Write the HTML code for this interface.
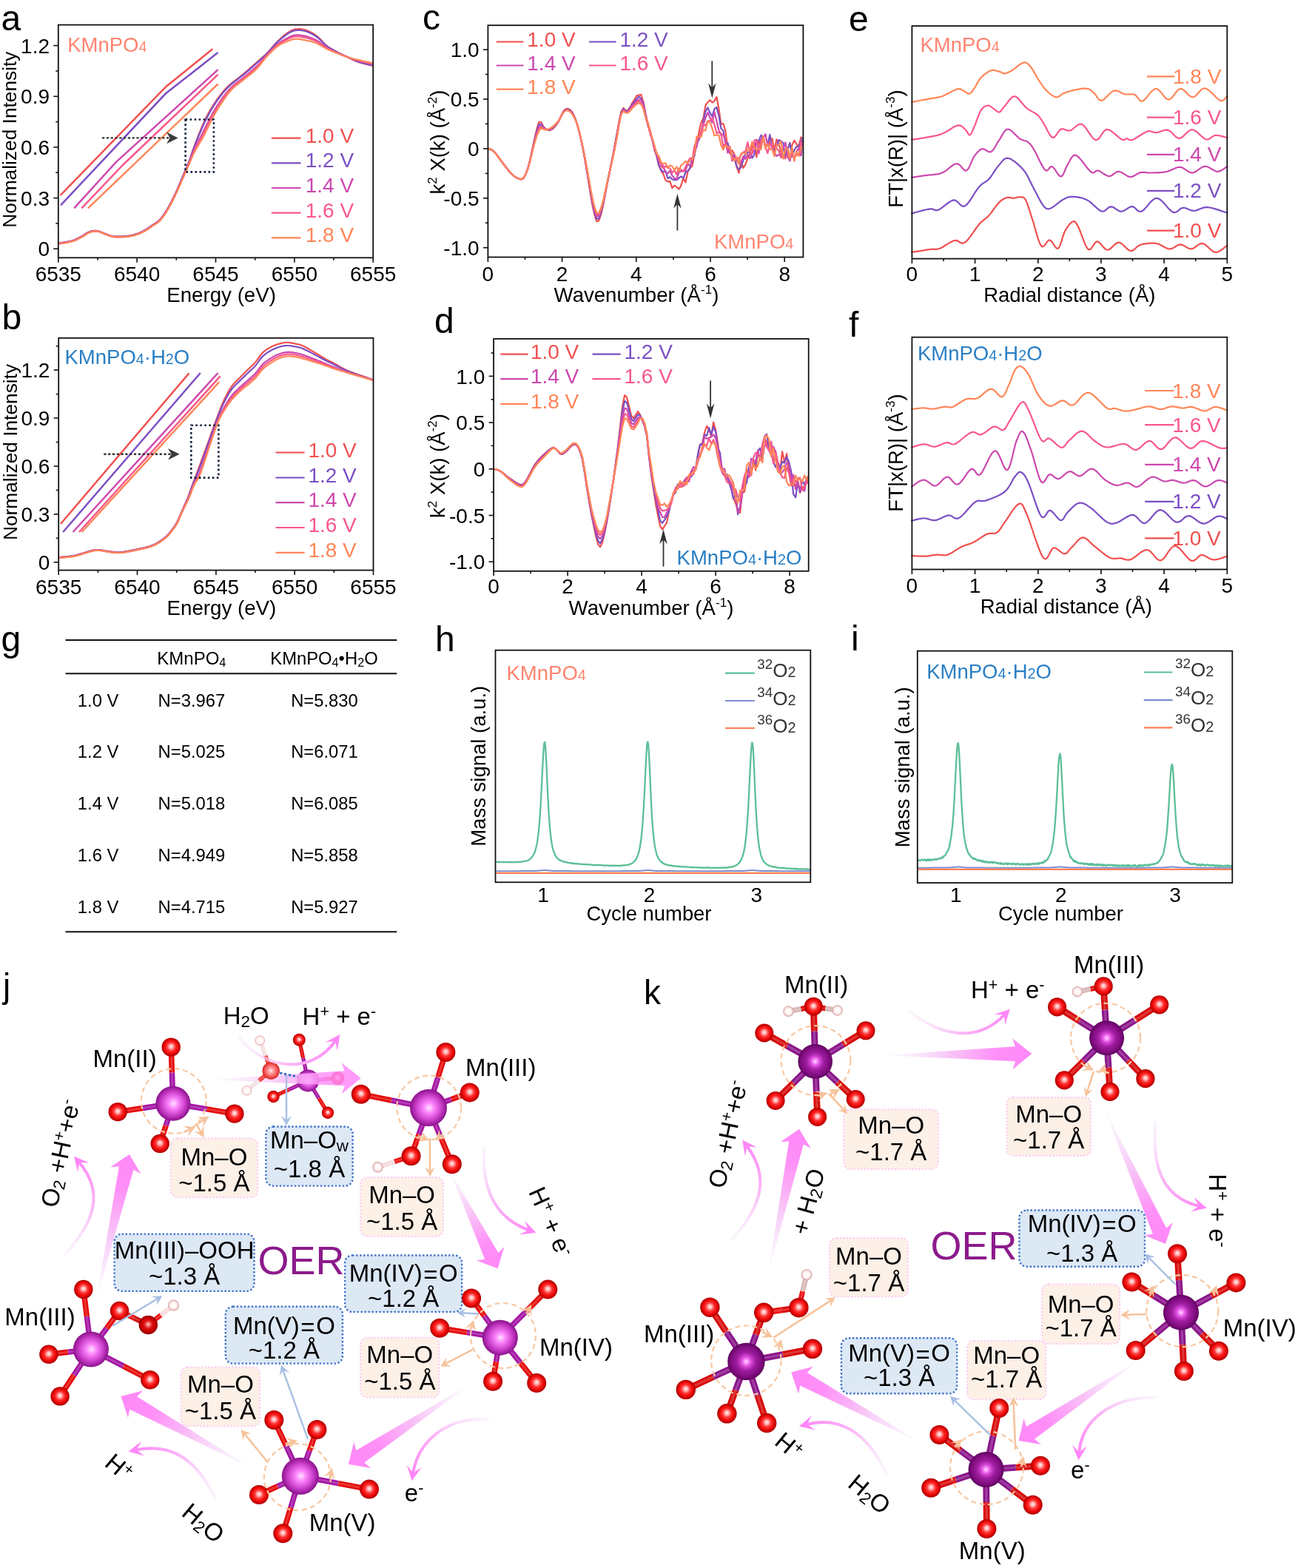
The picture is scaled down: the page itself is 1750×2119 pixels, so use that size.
<!DOCTYPE html>
<html><head><meta charset="utf-8"><title>Figure</title>
<style>html,body{margin:0;padding:0;background:#fff;overflow:hidden;} svg{display:block;}</style></head>
<body><svg width="1750" height="2119" viewBox="0 0 1750 2119" font-family="'Liberation Sans', Arial, sans-serif">
<defs>
<radialGradient id="gO" cx="0.5" cy="0.5" r="0.5" fx="0.5" fy="0.46">
 <stop offset="0" stop-color="#fff0f0"/><stop offset="0.2" stop-color="#ffb4b4"/><stop offset="0.45" stop-color="#ff3434"/>
 <stop offset="0.75" stop-color="#ea0606"/><stop offset="1" stop-color="#a80000"/></radialGradient>
<radialGradient id="gMj" cx="0.5" cy="0.5" r="0.5" fx="0.52" fy="0.5">
 <stop offset="0" stop-color="#ffe0ff"/><stop offset="0.3" stop-color="#fb82fb"/><stop offset="0.7" stop-color="#c83cc8"/>
 <stop offset="1" stop-color="#8a128a"/></radialGradient>
<radialGradient id="gMk" cx="0.5" cy="0.5" r="0.5" fx="0.5" fy="0.5">
 <stop offset="0" stop-color="#ffe4ff"/><stop offset="0.1" stop-color="#ff98ff"/><stop offset="0.27" stop-color="#d848d8"/>
 <stop offset="0.5" stop-color="#a01ea0"/><stop offset="0.85" stop-color="#7c0a7c"/><stop offset="1" stop-color="#5a065a"/></radialGradient>
<radialGradient id="gH" cx="0.5" cy="0.5" r="0.5" fx="0.5" fy="0.47">
 <stop offset="0" stop-color="#ffffff"/><stop offset="0.55" stop-color="#fff4f4"/><stop offset="0.82" stop-color="#f0cccc"/><stop offset="1" stop-color="#c49494"/></radialGradient>
<radialGradient id="gHj" cx="0.5" cy="0.5" r="0.5">
 <stop offset="0" stop-color="#ffffff"/><stop offset="0.7" stop-color="#fff4f4"/><stop offset="1" stop-color="#e8a0a0"/></radialGradient>
<radialGradient id="gOd" cx="0.5" cy="0.5" r="0.5" fx="0.5" fy="0.46">
 <stop offset="0" stop-color="#ffd8d8"/><stop offset="0.2" stop-color="#f07070"/><stop offset="0.45" stop-color="#dd1010"/>
 <stop offset="0.75" stop-color="#c80000"/><stop offset="1" stop-color="#8a0000"/></radialGradient>
<radialGradient id="gOw" cx="0.5" cy="0.5" r="0.5">
 <stop offset="0" stop-color="#fff0f0"/><stop offset="0.3" stop-color="#ffa0a0"/><stop offset="0.8" stop-color="#f04848"/><stop offset="1" stop-color="#d02020"/></radialGradient>
</defs>
<rect width="1750" height="2119" fill="#fff"/>
<polyline points="81.5,264 224.5,117 287.3,66.3" fill="none" stroke="#F0504F" stroke-width="2.5"/>
<polyline points="82,277.3 224,126.3 294.5,71.1" fill="none" stroke="#7B4FC4" stroke-width="2.5"/>
<polyline points="100.2,281.3 157,218.8 294.6,94.1" fill="none" stroke="#CC48AE" stroke-width="2.5"/>
<polyline points="110.3,281.3 167,222 294.6,100.6" fill="none" stroke="#F8588A" stroke-width="2.5"/>
<polyline points="119,281.3 294.6,113.5" fill="none" stroke="#FF8658" stroke-width="2.5"/>
<path d="M78.8,328.7 L80.3,328.5 L81.8,328.3 L83.3,328.1 L84.8,327.8 L86.3,327.6 L87.8,327.4 L89.3,327.1 L90.8,326.8 L92.3,326.5 L93.8,326.2 L95.3,325.9 L96.8,325.5 L98.3,325.1 L99.8,324.5 L101.3,324.0 L102.8,323.3 L104.3,322.6 L105.8,321.8 L107.3,321.0 L108.8,320.2 L110.3,319.4 L111.8,318.5 L113.3,317.6 L114.8,316.6 L116.3,315.6 L117.8,314.7 L119.3,313.9 L120.8,313.3 L122.3,312.8 L123.8,312.4 L125.3,312.1 L126.8,311.9 L128.3,311.8 L129.8,311.9 L131.3,312.0 L132.8,312.3 L134.3,312.7 L135.8,313.3 L137.3,314.0 L138.8,314.6 L140.3,315.3 L141.8,315.8 L143.3,316.4 L144.8,316.9 L146.3,317.5 L147.8,318.0 L149.3,318.5 L150.8,318.9 L152.3,319.2 L153.8,319.4 L155.3,319.6 L156.8,319.6 L158.3,319.7 L159.8,319.6 L161.3,319.6 L162.8,319.6 L164.3,319.6 L165.8,319.5 L167.3,319.4 L168.8,319.3 L170.3,319.2 L171.8,319.0 L173.3,318.8 L174.8,318.6 L176.3,318.3 L177.8,318.0 L179.3,317.7 L180.8,317.3 L182.3,316.9 L183.8,316.4 L185.3,315.9 L186.8,315.4 L188.3,314.8 L189.8,314.1 L191.3,313.4 L192.8,312.7 L194.3,311.9 L195.8,311.0 L197.3,310.1 L198.8,309.1 L200.3,308.1 L201.8,307.1 L203.3,306.1 L204.8,305.1 L206.3,304.0 L207.8,303.1 L209.3,302.1 L210.8,301.2 L212.3,300.1 L213.8,298.9 L215.3,297.5 L216.8,295.9 L218.3,294.1 L219.8,292.2 L221.3,290.1 L222.8,287.9 L224.3,285.5 L225.8,283.1 L227.3,280.6 L228.8,277.9 L230.3,275.1 L231.8,272.3 L233.3,269.3 L234.8,266.2 L236.3,263.0 L237.8,259.8 L239.3,256.4 L240.8,253.0 L242.3,249.4 L243.8,245.9 L245.3,242.3 L246.8,238.7 L248.3,235.2 L249.8,231.7 L251.3,228.2 L252.8,224.6 L254.3,221.0 L255.8,217.3 L257.3,213.1 L258.8,208.3 L260.3,204.0 L261.8,199.8 L263.3,195.7 L264.8,191.6 L266.3,187.7 L267.8,183.8 L269.3,180.1 L270.8,176.4 L272.3,172.8 L273.8,169.3 L275.3,165.9 L276.8,162.6 L278.3,159.5 L279.8,156.6 L281.3,153.8 L282.8,151.1 L284.3,148.5 L285.8,146.0 L287.3,143.5 L288.8,141.2 L290.3,138.8 L291.8,136.6 L293.3,134.4 L294.8,132.3 L296.3,130.3 L297.8,128.3 L299.3,126.4 L300.8,124.6 L302.3,122.8 L303.8,121.1 L305.3,119.6 L306.8,118.1 L308.3,116.6 L309.8,115.3 L311.3,113.9 L312.8,112.6 L314.3,111.4 L315.8,110.2 L317.3,109.1 L318.8,108.0 L320.3,106.9 L321.8,105.7 L323.3,104.5 L324.8,103.3 L326.3,102.1 L327.8,100.9 L329.3,99.6 L330.8,98.4 L332.3,97.1 L333.8,95.9 L335.3,94.6 L336.8,93.3 L338.3,91.9 L339.8,90.6 L341.3,89.3 L342.8,87.9 L344.3,86.6 L345.8,85.2 L347.3,83.9 L348.8,82.6 L350.3,81.3 L351.8,80.0 L353.3,78.7 L354.8,77.4 L356.3,76.1 L357.8,74.7 L359.3,73.3 L360.8,71.8 L362.3,70.3 L363.8,68.6 L365.3,67.0 L366.8,65.3 L368.3,63.5 L369.8,61.8 L371.3,60.1 L372.8,58.4 L374.3,56.8 L375.8,55.3 L377.3,53.8 L378.8,52.4 L380.3,51.0 L381.8,49.7 L383.3,48.4 L384.8,47.2 L386.3,46.1 L387.8,45.0 L389.3,44.0 L390.8,43.0 L392.3,42.1 L393.8,41.3 L395.3,40.6 L396.8,40.1 L398.3,39.7 L399.8,39.4 L401.3,39.3 L402.8,39.2 L404.3,39.2 L405.8,39.2 L407.3,39.4 L408.8,39.6 L410.3,39.9 L411.8,40.2 L413.3,40.6 L414.8,41.2 L416.3,41.8 L417.8,42.4 L419.3,43.2 L420.8,43.9 L422.3,44.8 L423.8,45.7 L425.3,46.7 L426.8,47.8 L428.3,48.9 L429.8,50.1 L431.3,51.5 L432.8,52.9 L434.3,54.5 L435.8,56.2 L437.3,57.8 L438.8,59.4 L440.3,60.8 L441.8,62.0 L443.3,63.1 L444.8,64.1 L446.3,65.1 L447.8,66.0 L449.3,66.8 L450.8,67.6 L452.3,68.5 L453.8,69.3 L455.3,70.1 L456.8,70.9 L458.3,71.7 L459.8,72.4 L461.3,73.2 L462.8,73.9 L464.3,74.6 L465.8,75.4 L467.3,76.1 L468.8,76.8 L470.3,77.5 L471.8,78.3 L473.3,79.0 L474.8,79.8 L476.3,80.5 L477.8,81.2 L479.3,81.9 L480.8,82.5 L482.3,83.1 L483.8,83.7 L485.3,84.2 L486.8,84.7 L488.3,85.1 L489.8,85.5 L491.3,85.9 L492.8,86.3 L494.3,86.7 L495.8,87.0 L497.3,87.4 L498.8,87.7 L500.3,88.1 L501.8,88.4 L503.3,88.8" fill="none" stroke="#F0504F" stroke-width="2.2"/>
<path d="M78.8,328.8 L80.3,328.6 L81.8,328.4 L83.3,328.2 L84.8,327.9 L86.3,327.7 L87.8,327.5 L89.3,327.2 L90.8,326.9 L92.3,326.6 L93.8,326.3 L95.3,326.0 L96.8,325.6 L98.3,325.2 L99.8,324.7 L101.3,324.1 L102.8,323.4 L104.3,322.7 L105.8,321.9 L107.3,321.1 L108.8,320.3 L110.3,319.5 L111.8,318.7 L113.3,317.7 L114.8,316.7 L116.3,315.8 L117.8,314.9 L119.3,314.1 L120.8,313.4 L122.3,312.9 L123.8,312.5 L125.3,312.2 L126.8,312.0 L128.3,311.9 L129.8,312.0 L131.3,312.1 L132.8,312.4 L134.3,312.8 L135.8,313.4 L137.3,314.0 L138.8,314.7 L140.3,315.3 L141.8,315.9 L143.3,316.4 L144.8,317.0 L146.3,317.6 L147.8,318.1 L149.3,318.6 L150.8,319.0 L152.3,319.3 L153.8,319.5 L155.3,319.7 L156.8,319.7 L158.3,319.8 L159.8,319.7 L161.3,319.7 L162.8,319.7 L164.3,319.7 L165.8,319.6 L167.3,319.5 L168.8,319.4 L170.3,319.3 L171.8,319.1 L173.3,318.9 L174.8,318.7 L176.3,318.4 L177.8,318.1 L179.3,317.8 L180.8,317.4 L182.3,317.0 L183.8,316.5 L185.3,316.0 L186.8,315.5 L188.3,314.9 L189.8,314.3 L191.3,313.6 L192.8,312.8 L194.3,312.0 L195.8,311.1 L197.3,310.2 L198.8,309.2 L200.3,308.3 L201.8,307.2 L203.3,306.2 L204.8,305.2 L206.3,304.2 L207.8,303.2 L209.3,302.3 L210.8,301.3 L212.3,300.2 L213.8,299.1 L215.3,297.7 L216.8,296.1 L218.3,294.3 L219.8,292.4 L221.3,290.3 L222.8,288.1 L224.3,285.7 L225.8,283.3 L227.3,280.8 L228.8,278.1 L230.3,275.4 L231.8,272.5 L233.3,269.5 L234.8,266.4 L236.3,263.3 L237.8,260.1 L239.3,256.7 L240.8,253.3 L242.3,249.8 L243.8,246.2 L245.3,242.6 L246.8,239.1 L248.3,235.6 L249.8,232.1 L251.3,228.6 L252.8,225.1 L254.3,221.5 L255.8,217.8 L257.3,213.7 L258.8,209.0 L260.3,204.8 L261.8,200.7 L263.3,196.7 L264.8,192.8 L266.3,189.0 L267.8,185.4 L269.3,181.8 L270.8,178.3 L272.3,174.8 L273.8,171.4 L275.3,168.0 L276.8,164.8 L278.3,161.7 L279.8,158.7 L281.3,155.9 L282.8,153.2 L284.3,150.5 L285.8,148.0 L287.3,145.5 L288.8,143.0 L290.3,140.7 L291.8,138.4 L293.3,136.2 L294.8,134.0 L296.3,132.0 L297.8,130.0 L299.3,128.0 L300.8,126.1 L302.3,124.3 L303.8,122.5 L305.3,120.9 L306.8,119.3 L308.3,117.8 L309.8,116.4 L311.3,115.0 L312.8,113.7 L314.3,112.4 L315.8,111.2 L317.3,110.1 L318.8,108.9 L320.3,107.8 L321.8,106.6 L323.3,105.4 L324.8,104.2 L326.3,103.0 L327.8,101.8 L329.3,100.6 L330.8,99.4 L332.3,98.1 L333.8,96.8 L335.3,95.6 L336.8,94.3 L338.3,93.0 L339.8,91.6 L341.3,90.3 L342.8,89.0 L344.3,87.6 L345.8,86.3 L347.3,84.9 L348.8,83.6 L350.3,82.2 L351.8,80.9 L353.3,79.5 L354.8,78.1 L356.3,76.7 L357.8,75.3 L359.3,73.8 L360.8,72.3 L362.3,70.8 L363.8,69.2 L365.3,67.5 L366.8,65.8 L368.3,64.1 L369.8,62.4 L371.3,60.8 L372.8,59.1 L374.3,57.6 L375.8,56.1 L377.3,54.7 L378.8,53.3 L380.3,52.0 L381.8,50.8 L383.3,49.6 L384.8,48.5 L386.3,47.4 L387.8,46.3 L389.3,45.3 L390.8,44.4 L392.3,43.5 L393.8,42.8 L395.3,42.2 L396.8,41.7 L398.3,41.3 L399.8,41.0 L401.3,40.9 L402.8,40.8 L404.3,40.8 L405.8,40.9 L407.3,41.0 L408.8,41.3 L410.3,41.5 L411.8,41.9 L413.3,42.3 L414.8,42.8 L416.3,43.4 L417.8,44.0 L419.3,44.7 L420.8,45.4 L422.3,46.2 L423.8,47.1 L425.3,48.0 L426.8,49.0 L428.3,50.1 L429.8,51.2 L431.3,52.5 L432.8,53.9 L434.3,55.4 L435.8,57.0 L437.3,58.5 L438.8,60.0 L440.3,61.3 L441.8,62.5 L443.3,63.6 L444.8,64.5 L446.3,65.5 L447.8,66.3 L449.3,67.1 L450.8,67.9 L452.3,68.7 L453.8,69.5 L455.3,70.3 L456.8,71.1 L458.3,71.8 L459.8,72.6 L461.3,73.3 L462.8,74.0 L464.3,74.7 L465.8,75.4 L467.3,76.1 L468.8,76.8 L470.3,77.5 L471.8,78.2 L473.3,78.9 L474.8,79.6 L476.3,80.3 L477.8,81.0 L479.3,81.6 L480.8,82.3 L482.3,82.8 L483.8,83.4 L485.3,83.9 L486.8,84.3 L488.3,84.8 L489.8,85.2 L491.3,85.5 L492.8,85.9 L494.3,86.3 L495.8,86.6 L497.3,87.0 L498.8,87.3 L500.3,87.7 L501.8,88.0 L503.3,88.4" fill="none" stroke="#7B4FC4" stroke-width="2.2"/>
<path d="M78.8,329.2 L80.3,329.0 L81.8,328.8 L83.3,328.6 L84.8,328.4 L86.3,328.2 L87.8,327.9 L89.3,327.7 L90.8,327.4 L92.3,327.1 L93.8,326.8 L95.3,326.4 L96.8,326.1 L98.3,325.6 L99.8,325.2 L101.3,324.6 L102.8,323.9 L104.3,323.2 L105.8,322.5 L107.3,321.7 L108.8,320.9 L110.3,320.0 L111.8,319.2 L113.3,318.3 L114.8,317.3 L116.3,316.3 L117.8,315.4 L119.3,314.6 L120.8,313.9 L122.3,313.4 L123.8,313.0 L125.3,312.7 L126.8,312.4 L128.3,312.3 L129.8,312.3 L131.3,312.4 L132.8,312.7 L134.3,313.1 L135.8,313.7 L137.3,314.3 L138.8,315.0 L140.3,315.6 L141.8,316.2 L143.3,316.7 L144.8,317.3 L146.3,317.8 L147.8,318.4 L149.3,318.9 L150.8,319.3 L152.3,319.6 L153.8,319.9 L155.3,320.0 L156.8,320.1 L158.3,320.1 L159.8,320.1 L161.3,320.1 L162.8,320.1 L164.3,320.0 L165.8,320.0 L167.3,319.9 L168.8,319.8 L170.3,319.7 L171.8,319.6 L173.3,319.4 L174.8,319.1 L176.3,318.9 L177.8,318.6 L179.3,318.2 L180.8,317.9 L182.3,317.5 L183.8,317.0 L185.3,316.5 L186.8,316.0 L188.3,315.4 L189.8,314.8 L191.3,314.1 L192.8,313.3 L194.3,312.5 L195.8,311.7 L197.3,310.8 L198.8,309.8 L200.3,308.8 L201.8,307.8 L203.3,306.8 L204.8,305.8 L206.3,304.8 L207.8,303.8 L209.3,302.8 L210.8,301.9 L212.3,300.8 L213.8,299.7 L215.3,298.3 L216.8,296.8 L218.3,295.0 L219.8,293.1 L221.3,291.1 L222.8,288.9 L224.3,286.6 L225.8,284.2 L227.3,281.7 L228.8,279.0 L230.3,276.3 L231.8,273.4 L233.3,270.4 L234.8,267.4 L236.3,264.3 L237.8,261.1 L239.3,257.8 L240.8,254.4 L242.3,251.0 L243.8,247.5 L245.3,244.1 L246.8,240.6 L248.3,237.1 L249.8,233.7 L251.3,230.3 L252.8,226.8 L254.3,223.3 L255.8,219.8 L257.3,216.0 L258.8,211.9 L260.3,208.0 L261.8,204.4 L263.3,200.9 L264.8,197.7 L266.3,194.6 L267.8,191.6 L269.3,188.6 L270.8,185.7 L272.3,182.7 L273.8,179.7 L275.3,176.6 L276.8,173.5 L278.3,170.5 L279.8,167.5 L281.3,164.5 L282.8,161.6 L284.3,158.7 L285.8,155.9 L287.3,153.1 L288.8,150.5 L290.3,147.9 L291.8,145.5 L293.3,143.1 L294.8,140.8 L296.3,138.5 L297.8,136.4 L299.3,134.3 L300.8,132.2 L302.3,130.2 L303.8,128.2 L305.3,126.2 L306.8,124.4 L308.3,122.6 L309.8,120.9 L311.3,119.3 L312.8,117.8 L314.3,116.4 L315.8,115.1 L317.3,113.8 L318.8,112.6 L320.3,111.5 L321.8,110.3 L323.3,109.2 L324.8,108.0 L326.3,106.8 L327.8,105.6 L329.3,104.4 L330.8,103.2 L332.3,102.0 L333.8,100.8 L335.3,99.6 L336.8,98.3 L338.3,97.1 L339.8,95.8 L341.3,94.5 L342.8,93.2 L344.3,91.9 L345.8,90.5 L347.3,89.0 L348.8,87.5 L350.3,86.0 L351.8,84.3 L353.3,82.7 L354.8,81.0 L356.3,79.3 L357.8,77.6 L359.3,76.0 L360.8,74.4 L362.3,72.8 L363.8,71.2 L365.3,69.6 L366.8,68.0 L368.3,66.5 L369.8,64.9 L371.3,63.4 L372.8,62.0 L374.3,60.6 L375.8,59.3 L377.3,58.1 L378.8,57.0 L380.3,56.0 L381.8,55.0 L383.3,54.2 L384.8,53.3 L386.3,52.5 L387.8,51.7 L389.3,50.9 L390.8,50.1 L392.3,49.4 L393.8,48.8 L395.3,48.3 L396.8,47.9 L398.3,47.6 L399.8,47.4 L401.3,47.3 L402.8,47.3 L404.3,47.4 L405.8,47.5 L407.3,47.8 L408.8,48.0 L410.3,48.3 L411.8,48.6 L413.3,48.9 L414.8,49.3 L416.3,49.8 L417.8,50.2 L419.3,50.7 L420.8,51.3 L422.3,51.9 L423.8,52.5 L425.3,53.2 L426.8,53.9 L428.3,54.8 L429.8,55.7 L431.3,56.7 L432.8,57.8 L434.3,59.0 L435.8,60.2 L437.3,61.4 L438.8,62.5 L440.3,63.6 L441.8,64.5 L443.3,65.4 L444.8,66.2 L446.3,67.0 L447.8,67.7 L449.3,68.4 L450.8,69.1 L452.3,69.8 L453.8,70.5 L455.3,71.2 L456.8,71.8 L458.3,72.5 L459.8,73.1 L461.3,73.8 L462.8,74.4 L464.3,75.0 L465.8,75.7 L467.3,76.3 L468.8,76.8 L470.3,77.4 L471.8,78.0 L473.3,78.6 L474.8,79.1 L476.3,79.6 L477.8,80.2 L479.3,80.7 L480.8,81.1 L482.3,81.6 L483.8,82.0 L485.3,82.4 L486.8,82.8 L488.3,83.2 L489.8,83.6 L491.3,83.9 L492.8,84.3 L494.3,84.6 L495.8,85.0 L497.3,85.3 L498.8,85.6 L500.3,86.0 L501.8,86.3 L503.3,86.6" fill="none" stroke="#CC48AE" stroke-width="2.2"/>
<path d="M78.8,329.3 L80.3,329.1 L81.8,328.9 L83.3,328.7 L84.8,328.5 L86.3,328.3 L87.8,328.1 L89.3,327.8 L90.8,327.5 L92.3,327.2 L93.8,326.9 L95.3,326.6 L96.8,326.2 L98.3,325.8 L99.8,325.3 L101.3,324.7 L102.8,324.1 L104.3,323.4 L105.8,322.6 L107.3,321.8 L108.8,321.0 L110.3,320.2 L111.8,319.4 L113.3,318.5 L114.8,317.5 L116.3,316.5 L117.8,315.6 L119.3,314.8 L120.8,314.1 L122.3,313.5 L123.8,313.1 L125.3,312.8 L126.8,312.6 L128.3,312.5 L129.8,312.5 L131.3,312.6 L132.8,312.8 L134.3,313.2 L135.8,313.7 L137.3,314.4 L138.8,315.0 L140.3,315.7 L141.8,316.3 L143.3,316.8 L144.8,317.4 L146.3,317.9 L147.8,318.5 L149.3,319.0 L150.8,319.4 L152.3,319.7 L153.8,320.0 L155.3,320.1 L156.8,320.2 L158.3,320.3 L159.8,320.3 L161.3,320.2 L162.8,320.2 L164.3,320.2 L165.8,320.1 L167.3,320.1 L168.8,320.0 L170.3,319.8 L171.8,319.7 L173.3,319.5 L174.8,319.3 L176.3,319.0 L177.8,318.7 L179.3,318.4 L180.8,318.0 L182.3,317.6 L183.8,317.2 L185.3,316.7 L186.8,316.1 L188.3,315.5 L189.8,314.9 L191.3,314.2 L192.8,313.5 L194.3,312.7 L195.8,311.8 L197.3,310.9 L198.8,310.0 L200.3,309.0 L201.8,308.0 L203.3,307.0 L204.8,306.0 L206.3,304.9 L207.8,303.9 L209.3,303.0 L210.8,302.0 L212.3,301.0 L213.8,299.9 L215.3,298.6 L216.8,297.0 L218.3,295.3 L219.8,293.4 L221.3,291.3 L222.8,289.1 L224.3,286.8 L225.8,284.4 L227.3,281.9 L228.8,279.3 L230.3,276.6 L231.8,273.7 L233.3,270.7 L234.8,267.7 L236.3,264.6 L237.8,261.4 L239.3,258.2 L240.8,254.8 L242.3,251.4 L243.8,248.0 L245.3,244.5 L246.8,241.1 L248.3,237.6 L249.8,234.2 L251.3,230.8 L252.8,227.4 L254.3,223.9 L255.8,220.4 L257.3,216.7 L258.8,212.8 L260.3,209.0 L261.8,205.5 L263.3,202.3 L264.8,199.2 L266.3,196.3 L267.8,193.5 L269.3,190.8 L270.8,188.0 L272.3,185.2 L273.8,182.3 L275.3,179.3 L276.8,176.3 L278.3,173.2 L279.8,170.2 L281.3,167.2 L282.8,164.2 L284.3,161.2 L285.8,158.4 L287.3,155.5 L288.8,152.8 L290.3,150.2 L291.8,147.7 L293.3,145.2 L294.8,142.9 L296.3,140.6 L297.8,138.4 L299.3,136.2 L300.8,134.1 L302.3,132.0 L303.8,129.9 L305.3,127.9 L306.8,126.0 L308.3,124.1 L309.8,122.4 L311.3,120.7 L312.8,119.1 L314.3,117.6 L315.8,116.3 L317.3,115.0 L318.8,113.8 L320.3,112.6 L321.8,111.5 L323.3,110.3 L324.8,109.2 L326.3,108.0 L327.8,106.8 L329.3,105.6 L330.8,104.4 L332.3,103.2 L333.8,102.0 L335.3,100.8 L336.8,99.6 L338.3,98.4 L339.8,97.1 L341.3,95.8 L342.8,94.5 L344.3,93.2 L345.8,91.8 L347.3,90.3 L348.8,88.8 L350.3,87.1 L351.8,85.4 L353.3,83.7 L354.8,81.9 L356.3,80.1 L357.8,78.4 L359.3,76.7 L360.8,75.0 L362.3,73.4 L363.8,71.9 L365.3,70.3 L366.8,68.7 L368.3,67.2 L369.8,65.7 L371.3,64.3 L372.8,62.9 L374.3,61.5 L375.8,60.3 L377.3,59.2 L378.8,58.1 L380.3,57.2 L381.8,56.4 L383.3,55.6 L384.8,54.8 L386.3,54.1 L387.8,53.4 L389.3,52.6 L390.8,51.9 L392.3,51.3 L393.8,50.7 L395.3,50.2 L396.8,49.8 L398.3,49.5 L399.8,49.4 L401.3,49.3 L402.8,49.3 L404.3,49.4 L405.8,49.6 L407.3,49.9 L408.8,50.1 L410.3,50.4 L411.8,50.7 L413.3,51.0 L414.8,51.4 L416.3,51.8 L417.8,52.2 L419.3,52.6 L420.8,53.1 L422.3,53.6 L423.8,54.2 L425.3,54.8 L426.8,55.5 L428.3,56.2 L429.8,57.0 L431.3,58.0 L432.8,59.0 L434.3,60.1 L435.8,61.2 L437.3,62.3 L438.8,63.3 L440.3,64.3 L441.8,65.1 L443.3,65.9 L444.8,66.7 L446.3,67.4 L447.8,68.1 L449.3,68.8 L450.8,69.5 L452.3,70.2 L453.8,70.8 L455.3,71.4 L456.8,72.1 L458.3,72.7 L459.8,73.3 L461.3,73.9 L462.8,74.5 L464.3,75.1 L465.8,75.7 L467.3,76.3 L468.8,76.9 L470.3,77.4 L471.8,77.9 L473.3,78.4 L474.8,78.9 L476.3,79.4 L477.8,79.9 L479.3,80.4 L480.8,80.8 L482.3,81.2 L483.8,81.6 L485.3,82.0 L486.8,82.4 L488.3,82.7 L489.8,83.1 L491.3,83.4 L492.8,83.8 L494.3,84.1 L495.8,84.4 L497.3,84.8 L498.8,85.1 L500.3,85.4 L501.8,85.8 L503.3,86.1" fill="none" stroke="#F8588A" stroke-width="2.2"/>
<path d="M78.8,329.5 L80.3,329.3 L81.8,329.1 L83.3,328.9 L84.8,328.7 L86.3,328.5 L87.8,328.3 L89.3,328.0 L90.8,327.7 L92.3,327.4 L93.8,327.1 L95.3,326.8 L96.8,326.4 L98.3,326.0 L99.8,325.6 L101.3,325.0 L102.8,324.4 L104.3,323.7 L105.8,322.9 L107.3,322.1 L108.8,321.3 L110.3,320.5 L111.8,319.7 L113.3,318.8 L114.8,317.8 L116.3,316.8 L117.8,315.9 L119.3,315.0 L120.8,314.3 L122.3,313.8 L123.8,313.3 L125.3,313.0 L126.8,312.8 L128.3,312.7 L129.8,312.6 L131.3,312.7 L132.8,313.0 L134.3,313.4 L135.8,313.9 L137.3,314.5 L138.8,315.2 L140.3,315.8 L141.8,316.4 L143.3,317.0 L144.8,317.5 L146.3,318.1 L147.8,318.6 L149.3,319.1 L150.8,319.6 L152.3,319.9 L153.8,320.2 L155.3,320.3 L156.8,320.4 L158.3,320.5 L159.8,320.5 L161.3,320.4 L162.8,320.4 L164.3,320.4 L165.8,320.3 L167.3,320.3 L168.8,320.2 L170.3,320.1 L171.8,319.9 L173.3,319.7 L174.8,319.5 L176.3,319.2 L177.8,318.9 L179.3,318.6 L180.8,318.3 L182.3,317.9 L183.8,317.4 L185.3,316.9 L186.8,316.4 L188.3,315.8 L189.8,315.2 L191.3,314.5 L192.8,313.8 L194.3,313.0 L195.8,312.1 L197.3,311.2 L198.8,310.3 L200.3,309.3 L201.8,308.3 L203.3,307.3 L204.8,306.3 L206.3,305.2 L207.8,304.2 L209.3,303.3 L210.8,302.3 L212.3,301.3 L213.8,300.2 L215.3,298.9 L216.8,297.4 L218.3,295.6 L219.8,293.8 L221.3,291.7 L222.8,289.6 L224.3,287.3 L225.8,284.9 L227.3,282.4 L228.8,279.8 L230.3,277.0 L231.8,274.2 L233.3,271.2 L234.8,268.2 L236.3,265.1 L237.8,261.9 L239.3,258.7 L240.8,255.4 L242.3,252.1 L243.8,248.7 L245.3,245.3 L246.8,241.8 L248.3,238.5 L249.8,235.1 L251.3,231.7 L252.8,228.3 L254.3,224.9 L255.8,221.5 L257.3,217.9 L258.8,214.3 L260.3,210.7 L261.8,207.4 L263.3,204.4 L264.8,201.7 L266.3,199.2 L267.8,196.8 L269.3,194.3 L270.8,191.8 L272.3,189.3 L273.8,186.6 L275.3,183.8 L276.8,180.8 L278.3,177.8 L279.8,174.7 L281.3,171.7 L282.8,168.6 L284.3,165.5 L285.8,162.5 L287.3,159.5 L288.8,156.7 L290.3,154.0 L291.8,151.4 L293.3,148.8 L294.8,146.4 L296.3,144.0 L297.8,141.7 L299.3,139.5 L300.8,137.3 L302.3,135.1 L303.8,132.9 L305.3,130.7 L306.8,128.6 L308.3,126.6 L309.8,124.7 L311.3,122.9 L312.8,121.2 L314.3,119.7 L315.8,118.3 L317.3,117.0 L318.8,115.7 L320.3,114.6 L321.8,113.4 L323.3,112.3 L324.8,111.2 L326.3,110.0 L327.8,108.8 L329.3,107.6 L330.8,106.4 L332.3,105.2 L333.8,104.1 L335.3,102.9 L336.8,101.7 L338.3,100.5 L339.8,99.3 L341.3,98.0 L342.8,96.8 L344.3,95.4 L345.8,94.0 L347.3,92.5 L348.8,90.8 L350.3,89.1 L351.8,87.2 L353.3,85.3 L354.8,83.4 L356.3,81.5 L357.8,79.6 L359.3,77.8 L360.8,76.1 L362.3,74.5 L363.8,72.9 L365.3,71.4 L366.8,69.9 L368.3,68.4 L369.8,67.0 L371.3,65.6 L372.8,64.3 L374.3,63.1 L375.8,62.0 L377.3,61.0 L378.8,60.1 L380.3,59.3 L381.8,58.6 L383.3,58.0 L384.8,57.4 L386.3,56.8 L387.8,56.1 L389.3,55.5 L390.8,54.9 L392.3,54.3 L393.8,53.8 L395.3,53.4 L396.8,53.0 L398.3,52.8 L399.8,52.7 L401.3,52.6 L402.8,52.7 L404.3,52.9 L405.8,53.1 L407.3,53.3 L408.8,53.6 L410.3,53.9 L411.8,54.2 L413.3,54.5 L414.8,54.8 L416.3,55.1 L417.8,55.4 L419.3,55.8 L420.8,56.2 L422.3,56.6 L423.8,57.0 L425.3,57.5 L426.8,58.0 L428.3,58.6 L429.8,59.4 L431.3,60.2 L432.8,61.0 L434.3,61.9 L435.8,62.9 L437.3,63.8 L438.8,64.6 L440.3,65.4 L441.8,66.2 L443.3,66.9 L444.8,67.6 L446.3,68.2 L447.8,68.9 L449.3,69.5 L450.8,70.1 L452.3,70.7 L453.8,71.3 L455.3,71.9 L456.8,72.5 L458.3,73.0 L459.8,73.6 L461.3,74.2 L462.8,74.7 L464.3,75.3 L465.8,75.8 L467.3,76.4 L468.8,76.9 L470.3,77.3 L471.8,77.8 L473.3,78.2 L474.8,78.7 L476.3,79.1 L477.8,79.5 L479.3,79.8 L480.8,80.2 L482.3,80.6 L483.8,80.9 L485.3,81.2 L486.8,81.6 L488.3,81.9 L489.8,82.3 L491.3,82.6 L492.8,82.9 L494.3,83.2 L495.8,83.6 L497.3,83.9 L498.8,84.2 L500.3,84.5 L501.8,84.9 L503.3,85.2" fill="none" stroke="#FF8658" stroke-width="2.2"/>
<rect x="250.6" y="161.5" width="38.3" height="70.9" fill="none" stroke="#13213d" stroke-width="2.6" stroke-dasharray="2.6 3.4"/>
<line x1="138" y1="186.4" x2="228.6" y2="186.4" stroke="#333" stroke-width="2.4" stroke-dasharray="3.2 2.6"/><path d="M240.6,186.4 L225.1,178.6 L229.6,186.4 L225.1,194.20000000000002 Z" fill="#3a3a3a"/>
<rect x="78.8" y="33.6" width="425.4" height="314.7" fill="none" stroke="#111" stroke-width="1.8"/>
<line x1="78.8" y1="336.2" x2="72.3" y2="336.2" stroke="#111" stroke-width="1.6"/>
<line x1="78.8" y1="267.6" x2="72.3" y2="267.6" stroke="#111" stroke-width="1.6"/>
<line x1="78.8" y1="198.9" x2="72.3" y2="198.9" stroke="#111" stroke-width="1.6"/>
<line x1="78.8" y1="130.3" x2="72.3" y2="130.3" stroke="#111" stroke-width="1.6"/>
<line x1="78.8" y1="61.6" x2="72.3" y2="61.6" stroke="#111" stroke-width="1.6"/>
<line x1="78.8" y1="301.9" x2="75.3" y2="301.9" stroke="#111" stroke-width="1.6"/>
<line x1="78.8" y1="233.2" x2="75.3" y2="233.2" stroke="#111" stroke-width="1.6"/>
<line x1="78.8" y1="164.6" x2="75.3" y2="164.6" stroke="#111" stroke-width="1.6"/>
<line x1="78.8" y1="96.0" x2="75.3" y2="96.0" stroke="#111" stroke-width="1.6"/>
<text x="67.0" y="346.3" font-size="28" fill="#000" text-anchor="end" >0</text>
<text x="67.0" y="277.7" font-size="28" fill="#000" text-anchor="end" >0.3</text>
<text x="67.0" y="209.0" font-size="28" fill="#000" text-anchor="end" >0.6</text>
<text x="67.0" y="140.4" font-size="28" fill="#000" text-anchor="end" >0.9</text>
<text x="67.0" y="71.7" font-size="28" fill="#000" text-anchor="end" >1.2</text>
<line x1="78.8" y1="348.3" x2="78.8" y2="354.8" stroke="#111" stroke-width="1.6"/>
<line x1="185.1" y1="348.3" x2="185.1" y2="354.8" stroke="#111" stroke-width="1.6"/>
<line x1="291.5" y1="348.3" x2="291.5" y2="354.8" stroke="#111" stroke-width="1.6"/>
<line x1="397.9" y1="348.3" x2="397.9" y2="354.8" stroke="#111" stroke-width="1.6"/>
<line x1="504.2" y1="348.3" x2="504.2" y2="354.8" stroke="#111" stroke-width="1.6"/>
<line x1="132.0" y1="348.3" x2="132.0" y2="351.8" stroke="#111" stroke-width="1.6"/>
<line x1="238.3" y1="348.3" x2="238.3" y2="351.8" stroke="#111" stroke-width="1.6"/>
<line x1="344.7" y1="348.3" x2="344.7" y2="351.8" stroke="#111" stroke-width="1.6"/>
<line x1="451.0" y1="348.3" x2="451.0" y2="351.8" stroke="#111" stroke-width="1.6"/>
<text x="78.8" y="380.0" font-size="28" fill="#000" text-anchor="middle" >6535</text>
<text x="185.1" y="380.0" font-size="28" fill="#000" text-anchor="middle" >6540</text>
<text x="291.5" y="380.0" font-size="28" fill="#000" text-anchor="middle" >6545</text>
<text x="397.9" y="380.0" font-size="28" fill="#000" text-anchor="middle" >6550</text>
<text x="504.2" y="380.0" font-size="28" fill="#000" text-anchor="middle" >6555</text>
<text x="299.1" y="408.0" font-size="27.7" fill="#000" text-anchor="middle" >Energy (eV)</text>
<text x="0" y="0" font-size="26.3" fill="#000" text-anchor="middle" transform="translate(21.8,188.6) rotate(-90)">Normalized Intensity</text>
<line x1="366.9" y1="186.6" x2="406.5" y2="186.6" stroke="#F0504F" stroke-width="2.2"/>
<text x="412.7" y="192.6" font-size="28" fill="#F0504F" text-anchor="start" >1.0 V</text>
<line x1="366.9" y1="220.3" x2="406.5" y2="220.3" stroke="#7B4FC4" stroke-width="2.2"/>
<text x="412.7" y="226.3" font-size="28" fill="#7B4FC4" text-anchor="start" >1.2 V</text>
<line x1="366.9" y1="254.0" x2="406.5" y2="254.0" stroke="#CC48AE" stroke-width="2.2"/>
<text x="412.7" y="260.0" font-size="28" fill="#CC48AE" text-anchor="start" >1.4 V</text>
<line x1="366.9" y1="287.7" x2="406.5" y2="287.7" stroke="#F8588A" stroke-width="2.2"/>
<text x="412.7" y="293.7" font-size="28" fill="#F8588A" text-anchor="start" >1.6 V</text>
<line x1="366.9" y1="321.4" x2="406.5" y2="321.4" stroke="#FF8658" stroke-width="2.2"/>
<text x="412.7" y="327.4" font-size="28" fill="#FF8658" text-anchor="start" >1.8 V</text>
<text x="91.2" y="69.7" font-size="27.5" fill="#FF8470" text-anchor="start" >KMnPO<tspan font-size="0.72em">4</tspan></text>
<text x="1.5" y="41.0" font-size="48" fill="#000" text-anchor="start" >a</text>
<polyline points="81.9,708 255.6,504.2" fill="none" stroke="#F0504F" stroke-width="2.5"/>
<polyline points="85.2,719 270.8,504" fill="none" stroke="#7B4FC4" stroke-width="2.5"/>
<polyline points="98.6,719 294.6,504" fill="none" stroke="#CC48AE" stroke-width="2.5"/>
<polyline points="106.9,719 297.7,508.3" fill="none" stroke="#F8588A" stroke-width="2.5"/>
<polyline points="110.5,719 296.2,516.2" fill="none" stroke="#FF8658" stroke-width="2.5"/>
<path d="M79.2,753.1 L80.7,753.0 L82.2,752.8 L83.7,752.7 L85.2,752.6 L86.7,752.5 L88.2,752.4 L89.7,752.2 L91.2,752.1 L92.7,751.9 L94.2,751.7 L95.7,751.5 L97.2,751.3 L98.7,751.1 L100.2,750.8 L101.7,750.5 L103.2,750.1 L104.7,749.7 L106.2,749.3 L107.7,748.9 L109.2,748.4 L110.7,748.0 L112.2,747.5 L113.7,747.0 L115.2,746.5 L116.7,746.1 L118.2,745.6 L119.7,745.2 L121.2,744.7 L122.7,744.3 L124.2,744.0 L125.7,743.6 L127.2,743.3 L128.7,743.1 L130.2,743.0 L131.7,743.0 L133.2,743.1 L134.7,743.2 L136.2,743.4 L137.7,743.6 L139.2,743.8 L140.7,744.1 L142.2,744.4 L143.7,744.6 L145.2,744.9 L146.7,745.2 L148.2,745.4 L149.7,745.6 L151.2,745.7 L152.7,745.9 L154.2,746.1 L155.7,746.2 L157.2,746.3 L158.7,746.4 L160.2,746.3 L161.7,746.3 L163.2,746.2 L164.7,746.0 L166.2,745.8 L167.7,745.6 L169.2,745.4 L170.7,745.1 L172.2,744.9 L173.7,744.6 L175.2,744.3 L176.7,744.0 L178.2,743.7 L179.7,743.4 L181.2,743.1 L182.7,742.8 L184.2,742.5 L185.7,742.2 L187.2,741.8 L188.7,741.5 L190.2,741.2 L191.7,740.8 L193.2,740.5 L194.7,740.1 L196.2,739.8 L197.7,739.4 L199.2,739.0 L200.7,738.6 L202.2,738.2 L203.7,737.7 L205.2,737.1 L206.7,736.6 L208.2,735.9 L209.7,735.2 L211.2,734.4 L212.7,733.5 L214.2,732.6 L215.7,731.6 L217.2,730.6 L218.7,729.6 L220.2,728.5 L221.7,727.3 L223.2,726.2 L224.7,724.9 L226.2,723.5 L227.7,721.7 L229.2,719.9 L230.7,718.1 L232.2,716.2 L233.7,714.2 L235.2,712.1 L236.7,709.9 L238.2,707.4 L239.7,704.6 L241.2,701.5 L242.7,698.1 L244.2,694.6 L245.7,691.0 L247.2,687.6 L248.7,684.3 L250.2,681.0 L251.7,677.6 L253.2,674.1 L254.7,670.3 L256.2,666.2 L257.7,661.9 L259.2,657.5 L260.7,653.2 L262.2,649.3 L263.7,645.5 L265.2,641.6 L266.7,637.6 L268.2,633.5 L269.7,629.4 L271.2,625.3 L272.7,621.2 L274.2,617.1 L275.7,613.0 L277.2,608.9 L278.7,604.8 L280.2,600.7 L281.7,596.5 L283.2,592.3 L284.7,588.1 L286.2,583.9 L287.7,579.8 L289.2,575.6 L290.7,571.5 L292.2,567.5 L293.7,563.4 L295.2,559.3 L296.7,555.3 L298.2,551.4 L299.7,547.7 L301.2,544.2 L302.7,540.8 L304.2,537.7 L305.7,534.7 L307.2,531.8 L308.7,529.0 L310.2,526.5 L311.7,524.1 L313.2,521.9 L314.7,519.9 L316.2,518.2 L317.7,516.7 L319.2,515.2 L320.7,513.8 L322.2,512.4 L323.7,510.9 L325.2,509.3 L326.7,507.8 L328.2,506.3 L329.7,504.8 L331.2,503.3 L332.7,501.8 L334.2,500.3 L335.7,498.8 L337.2,497.4 L338.7,496.0 L340.2,494.5 L341.7,493.1 L343.2,491.6 L344.7,489.9 L346.2,488.1 L347.7,486.1 L349.2,484.0 L350.7,481.8 L352.2,479.8 L353.7,478.0 L355.2,476.4 L356.7,475.1 L358.2,473.9 L359.7,472.8 L361.2,471.8 L362.7,470.9 L364.2,470.0 L365.7,469.2 L367.2,468.4 L368.7,467.6 L370.2,467.0 L371.7,466.4 L373.2,465.8 L374.7,465.4 L376.2,464.9 L377.7,464.5 L379.2,464.1 L380.7,463.8 L382.2,463.5 L383.7,463.2 L385.2,463.0 L386.7,462.9 L388.2,462.9 L389.7,463.0 L391.2,463.1 L392.7,463.3 L394.2,463.6 L395.7,463.9 L397.2,464.2 L398.7,464.5 L400.2,464.8 L401.7,465.0 L403.2,465.3 L404.7,465.7 L406.2,466.1 L407.7,466.7 L409.2,467.3 L410.7,468.0 L412.2,468.8 L413.7,469.6 L415.2,470.5 L416.7,471.3 L418.2,472.2 L419.7,473.1 L421.2,474.0 L422.7,474.9 L424.2,475.8 L425.7,476.7 L427.2,477.5 L428.7,478.4 L430.2,479.3 L431.7,480.3 L433.2,481.2 L434.7,482.1 L436.2,483.0 L437.7,483.9 L439.2,484.7 L440.7,485.6 L442.2,486.4 L443.7,487.1 L445.2,487.9 L446.7,488.6 L448.2,489.3 L449.7,490.1 L451.2,490.8 L452.7,491.7 L454.2,492.5 L455.7,493.4 L457.2,494.3 L458.7,495.2 L460.2,496.1 L461.7,496.9 L463.2,497.7 L464.7,498.5 L466.2,499.2 L467.7,500.0 L469.2,500.6 L470.7,501.3 L472.2,501.9 L473.7,502.5 L475.2,503.0 L476.7,503.6 L478.2,504.1 L479.7,504.7 L481.2,505.2 L482.7,505.8 L484.2,506.3 L485.7,506.8 L487.2,507.4 L488.7,507.9 L490.2,508.4 L491.7,508.9 L493.2,509.4 L494.7,509.9 L496.2,510.4 L497.7,511.0 L499.2,511.5 L500.7,512.0 L502.2,512.5 L503.7,513.0" fill="none" stroke="#F0504F" stroke-width="2.2"/>
<path d="M79.2,753.3 L80.7,753.1 L82.2,753.0 L83.7,752.9 L85.2,752.8 L86.7,752.7 L88.2,752.6 L89.7,752.4 L91.2,752.3 L92.7,752.1 L94.2,751.9 L95.7,751.7 L97.2,751.5 L98.7,751.3 L100.2,751.0 L101.7,750.7 L103.2,750.3 L104.7,749.9 L106.2,749.5 L107.7,749.1 L109.2,748.6 L110.7,748.2 L112.2,747.7 L113.7,747.2 L115.2,746.8 L116.7,746.3 L118.2,745.8 L119.7,745.4 L121.2,744.9 L122.7,744.5 L124.2,744.2 L125.7,743.8 L127.2,743.5 L128.7,743.3 L130.2,743.1 L131.7,743.2 L133.2,743.2 L134.7,743.4 L136.2,743.5 L137.7,743.7 L139.2,744.0 L140.7,744.3 L142.2,744.5 L143.7,744.8 L145.2,745.1 L146.7,745.3 L148.2,745.5 L149.7,745.7 L151.2,745.9 L152.7,746.1 L154.2,746.2 L155.7,746.4 L157.2,746.5 L158.7,746.5 L160.2,746.5 L161.7,746.5 L163.2,746.3 L164.7,746.2 L166.2,746.0 L167.7,745.8 L169.2,745.6 L170.7,745.3 L172.2,745.1 L173.7,744.8 L175.2,744.5 L176.7,744.2 L178.2,743.9 L179.7,743.6 L181.2,743.3 L182.7,743.0 L184.2,742.7 L185.7,742.4 L187.2,742.0 L188.7,741.7 L190.2,741.4 L191.7,741.0 L193.2,740.7 L194.7,740.3 L196.2,740.0 L197.7,739.6 L199.2,739.2 L200.7,738.8 L202.2,738.4 L203.7,737.9 L205.2,737.4 L206.7,736.8 L208.2,736.1 L209.7,735.4 L211.2,734.6 L212.7,733.8 L214.2,732.9 L215.7,731.9 L217.2,730.9 L218.7,729.8 L220.2,728.7 L221.7,727.6 L223.2,726.5 L224.7,725.2 L226.2,723.8 L227.7,722.1 L229.2,720.2 L230.7,718.4 L232.2,716.5 L233.7,714.6 L235.2,712.5 L236.7,710.2 L238.2,707.8 L239.7,705.0 L241.2,701.9 L242.7,698.5 L244.2,695.0 L245.7,691.4 L247.2,688.0 L248.7,684.8 L250.2,681.5 L251.7,678.2 L253.2,674.8 L254.7,671.2 L256.2,667.2 L257.7,663.0 L259.2,658.7 L260.7,654.5 L262.2,650.7 L263.7,647.1 L265.2,643.5 L266.7,639.9 L268.2,636.2 L269.7,632.3 L271.2,628.3 L272.7,624.2 L274.2,620.1 L275.7,615.9 L277.2,611.7 L278.7,607.4 L280.2,603.2 L281.7,598.9 L283.2,594.6 L284.7,590.4 L286.2,586.1 L287.7,581.9 L289.2,577.7 L290.7,573.5 L292.2,569.4 L293.7,565.4 L295.2,561.4 L296.7,557.6 L298.2,553.9 L299.7,550.4 L301.2,547.1 L302.7,544.0 L304.2,541.0 L305.7,538.1 L307.2,535.4 L308.7,532.8 L310.2,530.3 L311.7,528.0 L313.2,525.9 L314.7,524.0 L316.2,522.3 L317.7,520.7 L319.2,519.3 L320.7,517.9 L322.2,516.4 L323.7,515.0 L325.2,513.5 L326.7,512.0 L328.2,510.5 L329.7,509.1 L331.2,507.6 L332.7,506.2 L334.2,504.8 L335.7,503.3 L337.2,501.9 L338.7,500.6 L340.2,499.2 L341.7,497.7 L343.2,496.3 L344.7,494.7 L346.2,492.9 L347.7,490.9 L349.2,488.8 L350.7,486.7 L352.2,484.7 L353.7,482.9 L355.2,481.3 L356.7,480.0 L358.2,478.8 L359.7,477.7 L361.2,476.7 L362.7,475.7 L364.2,474.8 L365.7,474.0 L367.2,473.1 L368.7,472.3 L370.2,471.6 L371.7,470.9 L373.2,470.3 L374.7,469.8 L376.2,469.3 L377.7,468.8 L379.2,468.4 L380.7,468.0 L382.2,467.7 L383.7,467.4 L385.2,467.2 L386.7,467.1 L388.2,467.0 L389.7,467.0 L391.2,467.2 L392.7,467.3 L394.2,467.6 L395.7,467.8 L397.2,468.1 L398.7,468.4 L400.2,468.6 L401.7,468.9 L403.2,469.2 L404.7,469.6 L406.2,470.0 L407.7,470.5 L409.2,471.1 L410.7,471.8 L412.2,472.5 L413.7,473.2 L415.2,473.9 L416.7,474.7 L418.2,475.5 L419.7,476.3 L421.2,477.1 L422.7,477.9 L424.2,478.7 L425.7,479.5 L427.2,480.3 L428.7,481.1 L430.2,481.9 L431.7,482.7 L433.2,483.5 L434.7,484.3 L436.2,485.2 L437.7,486.0 L439.2,486.8 L440.7,487.5 L442.2,488.3 L443.7,489.0 L445.2,489.7 L446.7,490.3 L448.2,491.0 L449.7,491.7 L451.2,492.4 L452.7,493.2 L454.2,494.0 L455.7,494.8 L457.2,495.6 L458.7,496.4 L460.2,497.1 L461.7,497.9 L463.2,498.6 L464.7,499.3 L466.2,500.0 L467.7,500.7 L469.2,501.3 L470.7,501.9 L472.2,502.5 L473.7,503.0 L475.2,503.6 L476.7,504.1 L478.2,504.6 L479.7,505.2 L481.2,505.7 L482.7,506.2 L484.2,506.7 L485.7,507.2 L487.2,507.7 L488.7,508.2 L490.2,508.7 L491.7,509.2 L493.2,509.7 L494.7,510.2 L496.2,510.7 L497.7,511.2 L499.2,511.7 L500.7,512.2 L502.2,512.7 L503.7,513.2" fill="none" stroke="#7B4FC4" stroke-width="2.2"/>
<path d="M79.2,753.7 L80.7,753.6 L82.2,753.4 L83.7,753.3 L85.2,753.2 L86.7,753.1 L88.2,753.0 L89.7,752.8 L91.2,752.7 L92.7,752.5 L94.2,752.3 L95.7,752.2 L97.2,751.9 L98.7,751.7 L100.2,751.4 L101.7,751.1 L103.2,750.8 L104.7,750.4 L106.2,750.0 L107.7,749.5 L109.2,749.1 L110.7,748.6 L112.2,748.2 L113.7,747.7 L115.2,747.2 L116.7,746.7 L118.2,746.3 L119.7,745.8 L121.2,745.4 L122.7,745.0 L124.2,744.6 L125.7,744.3 L127.2,743.9 L128.7,743.7 L130.2,743.5 L131.7,743.5 L133.2,743.6 L134.7,743.7 L136.2,743.9 L137.7,744.1 L139.2,744.3 L140.7,744.6 L142.2,744.9 L143.7,745.1 L145.2,745.4 L146.7,745.7 L148.2,745.9 L149.7,746.1 L151.2,746.2 L152.7,746.4 L154.2,746.6 L155.7,746.7 L157.2,746.8 L158.7,746.9 L160.2,746.9 L161.7,746.8 L163.2,746.7 L164.7,746.6 L166.2,746.4 L167.7,746.2 L169.2,746.0 L170.7,745.8 L172.2,745.5 L173.7,745.2 L175.2,745.0 L176.7,744.7 L178.2,744.4 L179.7,744.1 L181.2,743.8 L182.7,743.5 L184.2,743.1 L185.7,742.8 L187.2,742.5 L188.7,742.1 L190.2,741.8 L191.7,741.5 L193.2,741.1 L194.7,740.8 L196.2,740.4 L197.7,740.1 L199.2,739.7 L200.7,739.3 L202.2,738.8 L203.7,738.3 L205.2,737.8 L206.7,737.3 L208.2,736.6 L209.7,735.9 L211.2,735.1 L212.7,734.3 L214.2,733.4 L215.7,732.4 L217.2,731.4 L218.7,730.4 L220.2,729.3 L221.7,728.2 L223.2,727.0 L224.7,725.8 L226.2,724.4 L227.7,722.7 L229.2,720.9 L230.7,719.1 L232.2,717.2 L233.7,715.3 L235.2,713.2 L236.7,711.0 L238.2,708.6 L239.7,705.9 L241.2,702.8 L242.7,699.4 L244.2,695.9 L245.7,692.3 L247.2,688.9 L248.7,685.8 L250.2,682.7 L251.7,679.6 L253.2,676.4 L254.7,673.1 L256.2,669.5 L257.7,665.5 L259.2,661.4 L260.7,657.4 L262.2,653.8 L263.7,650.6 L265.2,647.8 L266.7,645.0 L268.2,642.0 L269.7,638.7 L271.2,634.9 L272.7,630.8 L274.2,626.5 L275.7,622.1 L277.2,617.7 L278.7,613.2 L280.2,608.7 L281.7,604.2 L283.2,599.7 L284.7,595.3 L286.2,591.0 L287.7,586.6 L289.2,582.2 L290.7,577.9 L292.2,573.7 L293.7,569.7 L295.2,566.0 L296.7,562.5 L298.2,559.3 L299.7,556.3 L301.2,553.6 L302.7,550.9 L304.2,548.3 L305.7,545.7 L307.2,543.3 L308.7,540.9 L310.2,538.7 L311.7,536.6 L313.2,534.6 L314.7,532.8 L316.2,531.1 L317.7,529.6 L319.2,528.1 L320.7,526.7 L322.2,525.3 L323.7,523.8 L325.2,522.4 L326.7,521.1 L328.2,519.7 L329.7,518.4 L331.2,517.1 L332.7,515.8 L334.2,514.5 L335.7,513.2 L337.2,511.9 L338.7,510.6 L340.2,509.3 L341.7,507.9 L343.2,506.5 L344.7,504.9 L346.2,503.2 L347.7,501.4 L349.2,499.4 L350.7,497.3 L352.2,495.4 L353.7,493.6 L355.2,492.0 L356.7,490.7 L358.2,489.4 L359.7,488.3 L361.2,487.3 L362.7,486.3 L364.2,485.3 L365.7,484.4 L367.2,483.4 L368.7,482.5 L370.2,481.6 L371.7,480.8 L373.2,480.1 L374.7,479.4 L376.2,478.7 L377.7,478.2 L379.2,477.7 L380.7,477.2 L382.2,476.9 L383.7,476.5 L385.2,476.3 L386.7,476.1 L388.2,475.9 L389.7,475.9 L391.2,475.9 L392.7,476.0 L394.2,476.2 L395.7,476.4 L397.2,476.6 L398.7,476.9 L400.2,477.1 L401.7,477.4 L403.2,477.7 L404.7,478.1 L406.2,478.5 L407.7,479.0 L409.2,479.4 L410.7,479.9 L412.2,480.5 L413.7,481.0 L415.2,481.6 L416.7,482.1 L418.2,482.7 L419.7,483.3 L421.2,483.9 L422.7,484.5 L424.2,485.0 L425.7,485.6 L427.2,486.2 L428.7,486.8 L430.2,487.4 L431.7,488.0 L433.2,488.6 L434.7,489.3 L436.2,489.9 L437.7,490.5 L439.2,491.1 L440.7,491.8 L442.2,492.4 L443.7,493.0 L445.2,493.6 L446.7,494.2 L448.2,494.8 L449.7,495.3 L451.2,495.9 L452.7,496.5 L454.2,497.1 L455.7,497.7 L457.2,498.3 L458.7,498.9 L460.2,499.5 L461.7,500.1 L463.2,500.6 L464.7,501.2 L466.2,501.7 L467.7,502.2 L469.2,502.8 L470.7,503.3 L472.2,503.8 L473.7,504.2 L475.2,504.7 L476.7,505.2 L478.2,505.7 L479.7,506.1 L481.2,506.6 L482.7,507.1 L484.2,507.6 L485.7,508.0 L487.2,508.5 L488.7,508.9 L490.2,509.4 L491.7,509.9 L493.2,510.3 L494.7,510.8 L496.2,511.2 L497.7,511.7 L499.2,512.2 L500.7,512.6 L502.2,513.1 L503.7,513.5" fill="none" stroke="#CC48AE" stroke-width="2.2"/>
<path d="M79.2,753.8 L80.7,753.7 L82.2,753.6 L83.7,753.4 L85.2,753.3 L86.7,753.2 L88.2,753.1 L89.7,753.0 L91.2,752.8 L92.7,752.7 L94.2,752.5 L95.7,752.3 L97.2,752.1 L98.7,751.8 L100.2,751.6 L101.7,751.2 L103.2,750.9 L104.7,750.5 L106.2,750.1 L107.7,749.7 L109.2,749.2 L110.7,748.8 L112.2,748.3 L113.7,747.8 L115.2,747.4 L116.7,746.9 L118.2,746.4 L119.7,746.0 L121.2,745.5 L122.7,745.1 L124.2,744.7 L125.7,744.4 L127.2,744.1 L128.7,743.8 L130.2,743.7 L131.7,743.7 L133.2,743.7 L134.7,743.8 L136.2,744.0 L137.7,744.2 L139.2,744.4 L140.7,744.7 L142.2,745.0 L143.7,745.2 L145.2,745.5 L146.7,745.8 L148.2,746.0 L149.7,746.2 L151.2,746.4 L152.7,746.5 L154.2,746.7 L155.7,746.8 L157.2,747.0 L158.7,747.0 L160.2,747.0 L161.7,747.0 L163.2,746.9 L164.7,746.7 L166.2,746.6 L167.7,746.3 L169.2,746.1 L170.7,745.9 L172.2,745.6 L173.7,745.4 L175.2,745.1 L176.7,744.8 L178.2,744.5 L179.7,744.2 L181.2,743.9 L182.7,743.6 L184.2,743.3 L185.7,742.9 L187.2,742.6 L188.7,742.3 L190.2,741.9 L191.7,741.6 L193.2,741.3 L194.7,740.9 L196.2,740.6 L197.7,740.2 L199.2,739.8 L200.7,739.4 L202.2,739.0 L203.7,738.5 L205.2,738.0 L206.7,737.4 L208.2,736.8 L209.7,736.1 L211.2,735.3 L212.7,734.5 L214.2,733.6 L215.7,732.6 L217.2,731.6 L218.7,730.6 L220.2,729.5 L221.7,728.3 L223.2,727.2 L224.7,726.0 L226.2,724.6 L227.7,722.9 L229.2,721.1 L230.7,719.3 L232.2,717.4 L233.7,715.5 L235.2,713.4 L236.7,711.2 L238.2,708.8 L239.7,706.1 L241.2,703.0 L242.7,699.7 L244.2,696.1 L245.7,692.6 L247.2,689.2 L248.7,686.1 L250.2,683.0 L251.7,680.0 L253.2,676.9 L254.7,673.7 L256.2,670.2 L257.7,666.3 L259.2,662.2 L260.7,658.3 L262.2,654.7 L263.7,651.7 L265.2,649.1 L266.7,646.7 L268.2,643.9 L269.7,640.7 L271.2,636.9 L272.7,632.8 L274.2,628.5 L275.7,624.0 L277.2,619.5 L278.7,615.0 L280.2,610.4 L281.7,605.8 L283.2,601.3 L284.7,596.9 L286.2,592.5 L287.7,588.0 L289.2,583.6 L290.7,579.2 L292.2,575.0 L293.7,571.1 L295.2,567.4 L296.7,564.0 L298.2,561.0 L299.7,558.2 L301.2,555.6 L302.7,553.0 L304.2,550.5 L305.7,548.1 L307.2,545.7 L308.7,543.5 L310.2,541.3 L311.7,539.3 L313.2,537.4 L314.7,535.6 L316.2,533.9 L317.7,532.3 L319.2,530.9 L320.7,529.4 L322.2,528.0 L323.7,526.6 L325.2,525.2 L326.7,523.9 L328.2,522.6 L329.7,521.3 L331.2,520.1 L332.7,518.8 L334.2,517.5 L335.7,516.3 L337.2,515.0 L338.7,513.7 L340.2,512.4 L341.7,511.1 L343.2,509.7 L344.7,508.2 L346.2,506.5 L347.7,504.6 L349.2,502.7 L350.7,500.6 L352.2,498.7 L353.7,496.9 L355.2,495.4 L356.7,494.0 L358.2,492.8 L359.7,491.6 L361.2,490.6 L362.7,489.6 L364.2,488.6 L365.7,487.6 L367.2,486.7 L368.7,485.7 L370.2,484.8 L371.7,483.9 L373.2,483.1 L374.7,482.4 L376.2,481.7 L377.7,481.1 L379.2,480.6 L380.7,480.1 L382.2,479.7 L383.7,479.4 L385.2,479.1 L386.7,478.9 L388.2,478.7 L389.7,478.7 L391.2,478.7 L392.7,478.8 L394.2,478.9 L395.7,479.1 L397.2,479.3 L398.7,479.5 L400.2,479.8 L401.7,480.1 L403.2,480.4 L404.7,480.8 L406.2,481.2 L407.7,481.6 L409.2,482.0 L410.7,482.5 L412.2,483.0 L413.7,483.5 L415.2,484.0 L416.7,484.5 L418.2,485.0 L419.7,485.5 L421.2,486.0 L422.7,486.5 L424.2,487.0 L425.7,487.5 L427.2,488.1 L428.7,488.6 L430.2,489.1 L431.7,489.7 L433.2,490.2 L434.7,490.8 L436.2,491.4 L437.7,491.9 L439.2,492.5 L440.7,493.1 L442.2,493.7 L443.7,494.2 L445.2,494.8 L446.7,495.4 L448.2,495.9 L449.7,496.5 L451.2,497.0 L452.7,497.6 L454.2,498.1 L455.7,498.6 L457.2,499.2 L458.7,499.7 L460.2,500.2 L461.7,500.7 L463.2,501.3 L464.7,501.8 L466.2,502.2 L467.7,502.7 L469.2,503.2 L470.7,503.7 L472.2,504.2 L473.7,504.6 L475.2,505.1 L476.7,505.5 L478.2,506.0 L479.7,506.5 L481.2,506.9 L482.7,507.4 L484.2,507.8 L485.7,508.3 L487.2,508.7 L488.7,509.2 L490.2,509.6 L491.7,510.1 L493.2,510.5 L494.7,511.0 L496.2,511.4 L497.7,511.9 L499.2,512.3 L500.7,512.8 L502.2,513.2 L503.7,513.7" fill="none" stroke="#F8588A" stroke-width="2.2"/>
<path d="M79.2,753.9 L80.7,753.8 L82.2,753.7 L83.7,753.6 L85.2,753.5 L86.7,753.3 L88.2,753.2 L89.7,753.1 L91.2,752.9 L92.7,752.8 L94.2,752.6 L95.7,752.4 L97.2,752.2 L98.7,752.0 L100.2,751.7 L101.7,751.4 L103.2,751.0 L104.7,750.6 L106.2,750.2 L107.7,749.8 L109.2,749.4 L110.7,748.9 L112.2,748.4 L113.7,748.0 L115.2,747.5 L116.7,747.0 L118.2,746.6 L119.7,746.1 L121.2,745.7 L122.7,745.3 L124.2,744.9 L125.7,744.5 L127.2,744.2 L128.7,743.9 L130.2,743.8 L131.7,743.8 L133.2,743.8 L134.7,744.0 L136.2,744.1 L137.7,744.3 L139.2,744.6 L140.7,744.8 L142.2,745.1 L143.7,745.4 L145.2,745.6 L146.7,745.9 L148.2,746.1 L149.7,746.3 L151.2,746.5 L152.7,746.6 L154.2,746.8 L155.7,747.0 L157.2,747.1 L158.7,747.1 L160.2,747.1 L161.7,747.1 L163.2,747.0 L164.7,746.9 L166.2,746.7 L167.7,746.5 L169.2,746.3 L170.7,746.0 L172.2,745.8 L173.7,745.5 L175.2,745.2 L176.7,744.9 L178.2,744.6 L179.7,744.3 L181.2,744.0 L182.7,743.7 L184.2,743.4 L185.7,743.1 L187.2,742.7 L188.7,742.4 L190.2,742.1 L191.7,741.7 L193.2,741.4 L194.7,741.1 L196.2,740.7 L197.7,740.3 L199.2,740.0 L200.7,739.5 L202.2,739.1 L203.7,738.6 L205.2,738.1 L206.7,737.6 L208.2,736.9 L209.7,736.2 L211.2,735.5 L212.7,734.6 L214.2,733.7 L215.7,732.8 L217.2,731.8 L218.7,730.7 L220.2,729.6 L221.7,728.5 L223.2,727.4 L224.7,726.2 L226.2,724.8 L227.7,723.1 L229.2,721.3 L230.7,719.5 L232.2,717.6 L233.7,715.7 L235.2,713.7 L236.7,711.5 L238.2,709.1 L239.7,706.4 L241.2,703.3 L242.7,699.9 L244.2,696.4 L245.7,692.9 L247.2,689.5 L248.7,686.4 L250.2,683.4 L251.7,680.4 L253.2,677.4 L254.7,674.3 L256.2,670.9 L257.7,667.1 L259.2,663.1 L260.7,659.2 L262.2,655.7 L263.7,652.8 L265.2,650.5 L266.7,648.3 L268.2,645.7 L269.7,642.6 L271.2,638.9 L272.7,634.8 L274.2,630.5 L275.7,626.0 L277.2,621.4 L278.7,616.8 L280.2,612.1 L281.7,607.5 L283.2,602.9 L284.7,598.4 L286.2,594.0 L287.7,589.5 L289.2,585.0 L290.7,580.6 L292.2,576.4 L293.7,572.4 L295.2,568.8 L296.7,565.6 L298.2,562.7 L299.7,560.0 L301.2,557.6 L302.7,555.2 L304.2,552.8 L305.7,550.5 L307.2,548.2 L308.7,546.0 L310.2,544.0 L311.7,542.0 L313.2,540.1 L314.7,538.4 L316.2,536.7 L317.7,535.1 L319.2,533.6 L320.7,532.2 L322.2,530.8 L323.7,529.4 L325.2,528.0 L326.7,526.7 L328.2,525.5 L329.7,524.2 L331.2,523.0 L332.7,521.8 L334.2,520.6 L335.7,519.4 L337.2,518.1 L338.7,516.9 L340.2,515.6 L341.7,514.3 L343.2,512.9 L344.7,511.4 L346.2,509.7 L347.7,507.9 L349.2,506.0 L350.7,504.0 L352.2,502.0 L353.7,500.3 L355.2,498.7 L356.7,497.4 L358.2,496.1 L359.7,495.0 L361.2,493.9 L362.7,492.9 L364.2,491.9 L365.7,490.9 L367.2,489.9 L368.7,488.9 L370.2,487.9 L371.7,487.0 L373.2,486.2 L374.7,485.4 L376.2,484.7 L377.7,484.1 L379.2,483.5 L380.7,483.0 L382.2,482.6 L383.7,482.2 L385.2,481.9 L386.7,481.7 L388.2,481.5 L389.7,481.4 L391.2,481.4 L392.7,481.5 L394.2,481.6 L395.7,481.8 L397.2,482.0 L398.7,482.2 L400.2,482.4 L401.7,482.7 L403.2,483.1 L404.7,483.4 L406.2,483.8 L407.7,484.2 L409.2,484.6 L410.7,485.1 L412.2,485.5 L413.7,485.9 L415.2,486.3 L416.7,486.8 L418.2,487.2 L419.7,487.7 L421.2,488.1 L422.7,488.6 L424.2,489.0 L425.7,489.5 L427.2,489.9 L428.7,490.4 L430.2,490.9 L431.7,491.3 L433.2,491.8 L434.7,492.3 L436.2,492.8 L437.7,493.4 L439.2,493.9 L440.7,494.4 L442.2,494.9 L443.7,495.5 L445.2,496.0 L446.7,496.6 L448.2,497.1 L449.7,497.6 L451.2,498.1 L452.7,498.6 L454.2,499.1 L455.7,499.6 L457.2,500.0 L458.7,500.5 L460.2,501.0 L461.7,501.4 L463.2,501.9 L464.7,502.3 L466.2,502.8 L467.7,503.2 L469.2,503.7 L470.7,504.1 L472.2,504.6 L473.7,505.0 L475.2,505.4 L476.7,505.9 L478.2,506.3 L479.7,506.8 L481.2,507.2 L482.7,507.6 L484.2,508.1 L485.7,508.5 L487.2,509.0 L488.7,509.4 L490.2,509.8 L491.7,510.3 L493.2,510.7 L494.7,511.1 L496.2,511.6 L497.7,512.0 L499.2,512.5 L500.7,512.9 L502.2,513.3 L503.7,513.8" fill="none" stroke="#FF8658" stroke-width="2.2"/>
<rect x="258.3" y="574.7" width="37.1" height="70.9" fill="none" stroke="#13213d" stroke-width="2.6" stroke-dasharray="2.6 3.4"/>
<line x1="140.3" y1="613.8" x2="230.6" y2="613.8" stroke="#333" stroke-width="2.4" stroke-dasharray="3.2 2.6"/><path d="M242.6,613.8 L227.1,606.0 L231.6,613.8 L227.1,621.5999999999999 Z" fill="#3a3a3a"/>
<rect x="79.2" y="456.8" width="425.3" height="313.8" fill="none" stroke="#111" stroke-width="1.8"/>
<line x1="79.2" y1="759.8" x2="72.7" y2="759.8" stroke="#111" stroke-width="1.6"/>
<line x1="79.2" y1="694.9" x2="72.7" y2="694.9" stroke="#111" stroke-width="1.6"/>
<line x1="79.2" y1="630.0" x2="72.7" y2="630.0" stroke="#111" stroke-width="1.6"/>
<line x1="79.2" y1="565.0" x2="72.7" y2="565.0" stroke="#111" stroke-width="1.6"/>
<line x1="79.2" y1="500.1" x2="72.7" y2="500.1" stroke="#111" stroke-width="1.6"/>
<line x1="79.2" y1="727.3" x2="75.7" y2="727.3" stroke="#111" stroke-width="1.6"/>
<line x1="79.2" y1="662.4" x2="75.7" y2="662.4" stroke="#111" stroke-width="1.6"/>
<line x1="79.2" y1="597.5" x2="75.7" y2="597.5" stroke="#111" stroke-width="1.6"/>
<line x1="79.2" y1="532.6" x2="75.7" y2="532.6" stroke="#111" stroke-width="1.6"/>
<line x1="79.2" y1="467.7" x2="75.7" y2="467.7" stroke="#111" stroke-width="1.6"/>
<text x="67.4" y="769.9" font-size="28" fill="#000" text-anchor="end" >0</text>
<text x="67.4" y="705.0" font-size="28" fill="#000" text-anchor="end" >0.3</text>
<text x="67.4" y="640.1" font-size="28" fill="#000" text-anchor="end" >0.6</text>
<text x="67.4" y="575.1" font-size="28" fill="#000" text-anchor="end" >0.9</text>
<text x="67.4" y="510.2" font-size="28" fill="#000" text-anchor="end" >1.2</text>
<line x1="79.2" y1="770.6" x2="79.2" y2="777.1" stroke="#111" stroke-width="1.6"/>
<line x1="185.5" y1="770.6" x2="185.5" y2="777.1" stroke="#111" stroke-width="1.6"/>
<line x1="291.9" y1="770.6" x2="291.9" y2="777.1" stroke="#111" stroke-width="1.6"/>
<line x1="398.2" y1="770.6" x2="398.2" y2="777.1" stroke="#111" stroke-width="1.6"/>
<line x1="504.5" y1="770.6" x2="504.5" y2="777.1" stroke="#111" stroke-width="1.6"/>
<line x1="132.4" y1="770.6" x2="132.4" y2="774.1" stroke="#111" stroke-width="1.6"/>
<line x1="238.7" y1="770.6" x2="238.7" y2="774.1" stroke="#111" stroke-width="1.6"/>
<line x1="345.0" y1="770.6" x2="345.0" y2="774.1" stroke="#111" stroke-width="1.6"/>
<line x1="451.3" y1="770.6" x2="451.3" y2="774.1" stroke="#111" stroke-width="1.6"/>
<text x="79.2" y="802.5" font-size="28" fill="#000" text-anchor="middle" >6535</text>
<text x="185.5" y="802.5" font-size="28" fill="#000" text-anchor="middle" >6540</text>
<text x="291.9" y="802.5" font-size="28" fill="#000" text-anchor="middle" >6545</text>
<text x="398.2" y="802.5" font-size="28" fill="#000" text-anchor="middle" >6550</text>
<text x="504.5" y="802.5" font-size="28" fill="#000" text-anchor="middle" >6555</text>
<text x="299.4" y="830.5" font-size="27.7" fill="#000" text-anchor="middle" >Energy (eV)</text>
<text x="0" y="0" font-size="26.3" fill="#000" text-anchor="middle" transform="translate(22.8,611.0) rotate(-90)">Normalized Intensity</text>
<line x1="372.5" y1="611.5" x2="411.6" y2="611.5" stroke="#F0504F" stroke-width="2.2"/>
<text x="416.4" y="617.5" font-size="28" fill="#F0504F" text-anchor="start" >1.0 V</text>
<line x1="372.5" y1="645.5" x2="411.6" y2="645.5" stroke="#7B4FC4" stroke-width="2.2"/>
<text x="416.4" y="651.5" font-size="28" fill="#7B4FC4" text-anchor="start" >1.2 V</text>
<line x1="372.5" y1="679.2" x2="411.6" y2="679.2" stroke="#CC48AE" stroke-width="2.2"/>
<text x="416.4" y="685.2" font-size="28" fill="#CC48AE" text-anchor="start" >1.4 V</text>
<line x1="372.5" y1="713.0" x2="411.6" y2="713.0" stroke="#F8588A" stroke-width="2.2"/>
<text x="416.4" y="719.0" font-size="28" fill="#F8588A" text-anchor="start" >1.6 V</text>
<line x1="372.5" y1="746.8" x2="411.6" y2="746.8" stroke="#FF8658" stroke-width="2.2"/>
<text x="416.4" y="752.8" font-size="28" fill="#FF8658" text-anchor="start" >1.8 V</text>
<text x="87.5" y="491.9" font-size="27.5" fill="#2A7FC4" text-anchor="start" >KMnPO<tspan font-size="0.72em">4</tspan>·H<tspan font-size="0.72em">2</tspan>O</text>
<text x="2.5" y="445.0" font-size="48" fill="#000" text-anchor="start" >b</text>
<path d="M659.4,200.6 L662.4,201.6 L665.4,203.1 L668.4,205.8 L671.4,209.4 L674.4,213.5 L677.4,217.6 L680.4,221.6 L683.4,225.5 L686.4,229.4 L689.4,233.0 L692.4,236.0 L695.4,238.5 L698.4,240.5 L701.4,241.8 L704.4,242.5 L707.4,241.0 L710.4,235.7 L713.4,227.2 L716.4,215.6 L719.4,201.1 L722.4,187.2 L725.4,174.2 L728.4,164.5 L731.4,165.2 L734.4,171.3 L737.4,174.1 L740.4,175.8 L743.4,176.1 L746.4,174.4 L749.4,171.6 L752.4,168.0 L755.4,163.2 L758.4,156.3 L761.4,150.2 L764.4,147.3 L767.4,146.9 L770.4,148.3 L773.4,151.8 L776.4,157.6 L779.4,165.9 L782.4,176.9 L785.4,190.0 L788.4,204.6 L791.4,221.6 L794.4,240.0 L797.4,259.0 L800.4,276.5 L803.4,290.3 L806.4,299.3 L809.4,298.1 L812.4,288.8 L815.4,275.9 L818.4,259.9 L821.4,244.0 L824.4,229.1 L827.4,214.1 L830.4,198.4 L833.4,181.6 L836.4,165.3 L839.4,150.8 L842.4,145.9 L845.4,149.3 L848.4,149.3 L851.4,144.7 L854.4,139.2 L857.4,134.7 L860.4,129.4 L863.4,128.5 L866.4,127.7 L869.4,137.8 L872.4,154.0 L875.4,165.7 L878.4,179.3 L881.4,188.1 L884.4,202.8 L887.4,211.1 L890.4,224.1 L893.4,230.7 L896.4,235.4 L899.4,243.6 L902.4,245.4 L905.4,245.2 L908.4,254.1 L911.4,250.7 L914.4,252.8 L917.4,255.8 L920.4,250.6 L923.4,240.9 L926.4,246.4 L929.4,232.3 L932.4,226.5 L935.4,224.9 L938.4,208.4 L941.4,195.2 L944.4,179.2 L947.4,165.8 L950.4,160.0 L953.4,142.4 L956.4,138.2 L959.4,135.2 L962.4,138.6 L965.4,136.5 L968.4,131.0 L971.4,147.2 L974.4,167.8 L977.4,167.1 L980.4,177.1 L983.4,201.0 L986.4,207.5 L989.4,203.2 L992.4,208.2 L995.4,225.2 L998.4,233.7 L1001.4,217.9 L1004.4,226.9 L1007.4,222.2 L1010.4,213.7 L1013.4,207.5 L1016.4,197.7 L1019.4,193.4 L1022.4,212.4 L1025.4,190.1 L1028.4,198.1 L1031.4,184.1 L1034.4,198.3 L1037.4,193.6 L1040.4,187.9 L1043.4,187.2 L1046.4,203.3 L1049.4,188.4 L1052.4,194.7 L1055.4,205.2 L1058.4,214.1 L1061.4,208.3 L1064.4,199.4 L1067.4,215.4 L1070.4,195.9 L1073.4,189.8 L1076.4,194.8 L1079.4,197.5 L1082.4,185.5 L1084.6,187.1" fill="none" stroke="#F0504F" stroke-width="2.2" stroke-linejoin="round"/>
<path d="M659.4,200.6 L662.4,201.6 L665.4,203.1 L668.4,205.8 L671.4,209.4 L674.4,213.5 L677.4,217.6 L680.4,221.6 L683.4,225.5 L686.4,229.4 L689.4,233.0 L692.4,236.0 L695.4,238.5 L698.4,240.5 L701.4,241.8 L704.4,242.4 L707.4,240.8 L710.4,235.6 L713.4,227.3 L716.4,216.1 L719.4,202.2 L722.4,189.0 L725.4,177.1 L728.4,168.2 L731.4,167.6 L734.4,172.3 L737.4,174.4 L740.4,175.5 L743.4,175.3 L746.4,173.6 L749.4,170.8 L752.4,167.4 L755.4,162.9 L758.4,156.5 L761.4,150.7 L764.4,148.0 L767.4,147.6 L770.4,149.1 L773.4,152.6 L776.4,158.2 L779.4,166.0 L782.4,176.8 L785.4,189.7 L788.4,204.0 L791.4,220.5 L794.4,238.3 L797.4,256.7 L800.4,273.7 L803.4,287.1 L806.4,295.9 L809.4,295.0 L812.4,286.3 L815.4,274.1 L818.4,258.8 L821.4,243.6 L824.4,229.3 L827.4,214.9 L830.4,199.7 L833.4,183.4 L836.4,166.5 L839.4,152.0 L842.4,147.2 L845.4,150.2 L848.4,150.3 L851.4,146.2 L854.4,141.4 L857.4,137.2 L860.4,133.7 L863.4,130.5 L866.4,133.2 L869.4,139.7 L872.4,154.2 L875.4,169.0 L878.4,175.6 L881.4,188.4 L884.4,200.6 L887.4,210.6 L890.4,223.4 L893.4,229.6 L896.4,232.4 L899.4,231.1 L902.4,241.1 L905.4,239.3 L908.4,242.3 L911.4,243.1 L914.4,243.2 L917.4,240.7 L920.4,238.3 L923.4,240.8 L926.4,233.0 L929.4,231.1 L932.4,227.5 L935.4,213.0 L938.4,211.2 L941.4,191.8 L944.4,189.5 L947.4,180.3 L950.4,163.9 L953.4,150.8 L956.4,145.4 L959.4,152.7 L962.4,157.2 L965.4,147.2 L968.4,144.9 L971.4,156.4 L974.4,173.7 L977.4,176.5 L980.4,193.8 L983.4,193.0 L986.4,204.1 L989.4,208.6 L992.4,213.7 L995.4,224.7 L998.4,229.0 L1001.4,226.3 L1004.4,216.2 L1007.4,207.7 L1010.4,205.8 L1013.4,205.9 L1016.4,213.6 L1019.4,208.9 L1022.4,190.1 L1025.4,190.4 L1028.4,182.6 L1031.4,186.7 L1034.4,200.0 L1037.4,195.7 L1040.4,181.8 L1043.4,202.6 L1046.4,200.8 L1049.4,198.9 L1052.4,189.2 L1055.4,190.5 L1058.4,193.1 L1061.4,214.5 L1064.4,202.4 L1067.4,193.0 L1070.4,212.1 L1073.4,202.8 L1076.4,198.0 L1079.4,198.0 L1082.4,191.8 L1084.6,186.3" fill="none" stroke="#7B4FC4" stroke-width="2.2" stroke-linejoin="round"/>
<path d="M659.4,200.6 L662.4,201.6 L665.4,203.1 L668.4,205.8 L671.4,209.4 L674.4,213.5 L677.4,217.6 L680.4,221.6 L683.4,225.5 L686.4,229.4 L689.4,233.0 L692.4,236.0 L695.4,238.5 L698.4,240.4 L701.4,241.7 L704.4,242.2 L707.4,240.6 L710.4,235.5 L713.4,227.5 L716.4,216.7 L719.4,203.3 L722.4,190.9 L725.4,179.9 L728.4,171.9 L731.4,170.0 L734.4,173.3 L737.4,174.8 L740.4,175.2 L743.4,174.6 L746.4,172.7 L749.4,170.1 L752.4,166.8 L755.4,162.6 L758.4,156.6 L761.4,151.2 L764.4,148.6 L767.4,148.3 L770.4,149.9 L773.4,153.4 L776.4,158.7 L779.4,166.1 L782.4,176.6 L785.4,189.4 L788.4,203.4 L791.4,219.4 L794.4,236.5 L797.4,254.4 L800.4,270.8 L803.4,283.9 L806.4,292.4 L809.4,291.9 L812.4,283.8 L815.4,272.2 L818.4,257.7 L821.4,243.1 L824.4,229.5 L827.4,215.7 L830.4,201.1 L833.4,185.2 L836.4,167.7 L839.4,153.2 L842.4,148.6 L845.4,151.2 L848.4,151.3 L851.4,147.7 L854.4,143.5 L857.4,139.8 L860.4,136.6 L863.4,134.6 L866.4,135.3 L869.4,142.4 L872.4,156.0 L875.4,166.5 L878.4,179.5 L881.4,188.6 L884.4,198.7 L887.4,209.5 L890.4,218.0 L893.4,222.1 L896.4,224.3 L899.4,233.2 L902.4,234.3 L905.4,230.6 L908.4,237.4 L911.4,240.7 L914.4,242.1 L917.4,232.8 L920.4,231.4 L923.4,231.4 L926.4,230.8 L929.4,221.4 L932.4,224.3 L935.4,218.5 L938.4,204.4 L941.4,198.6 L944.4,183.9 L947.4,182.8 L950.4,168.8 L953.4,159.4 L956.4,152.2 L959.4,158.9 L962.4,165.7 L965.4,151.2 L968.4,163.5 L971.4,176.3 L974.4,182.5 L977.4,181.3 L980.4,190.4 L983.4,206.5 L986.4,198.4 L989.4,217.3 L992.4,209.6 L995.4,215.3 L998.4,221.4 L1001.4,219.8 L1004.4,211.1 L1007.4,214.9 L1010.4,208.5 L1013.4,214.1 L1016.4,206.8 L1019.4,203.9 L1022.4,188.6 L1025.4,207.3 L1028.4,187.8 L1031.4,186.1 L1034.4,181.3 L1037.4,196.9 L1040.4,191.7 L1043.4,200.6 L1046.4,206.1 L1049.4,210.9 L1052.4,208.9 L1055.4,211.3 L1058.4,200.4 L1061.4,192.5 L1064.4,211.4 L1067.4,217.4 L1070.4,203.4 L1073.4,214.4 L1076.4,205.1 L1079.4,199.7 L1082.4,210.5 L1084.6,189.8" fill="none" stroke="#CC48AE" stroke-width="2.2" stroke-linejoin="round"/>
<path d="M659.4,200.6 L662.4,201.6 L665.4,203.1 L668.4,205.8 L671.4,209.4 L674.4,213.5 L677.4,217.6 L680.4,221.6 L683.4,225.5 L686.4,229.4 L689.4,233.0 L692.4,236.0 L695.4,238.5 L698.4,240.4 L701.4,241.7 L704.4,242.2 L707.4,240.5 L710.4,235.4 L713.4,227.6 L716.4,217.0 L719.4,204.0 L722.4,192.1 L725.4,181.9 L728.4,174.4 L731.4,171.6 L734.4,174.0 L737.4,175.0 L740.4,175.0 L743.4,174.1 L746.4,172.1 L749.4,169.6 L752.4,166.5 L755.4,162.4 L758.4,156.7 L761.4,151.6 L764.4,149.1 L767.4,148.7 L770.4,150.4 L773.4,154.0 L776.4,159.1 L779.4,166.2 L782.4,176.5 L785.4,189.2 L788.4,203.0 L791.4,218.7 L794.4,235.4 L797.4,252.8 L800.4,268.9 L803.4,281.7 L806.4,290.2 L809.4,289.8 L812.4,282.1 L815.4,271.0 L818.4,256.9 L821.4,242.9 L824.4,229.6 L827.4,216.3 L830.4,202.0 L833.4,186.4 L836.4,168.4 L839.4,154.0 L842.4,149.4 L845.4,151.9 L848.4,152.0 L851.4,148.8 L854.4,144.9 L857.4,141.6 L860.4,138.7 L863.4,136.1 L866.4,139.5 L869.4,146.6 L872.4,158.6 L875.4,169.0 L878.4,179.1 L881.4,187.5 L884.4,199.3 L887.4,206.4 L890.4,213.1 L893.4,224.5 L896.4,227.5 L899.4,224.4 L902.4,226.7 L905.4,227.5 L908.4,233.5 L911.4,229.9 L914.4,236.1 L917.4,227.6 L920.4,229.5 L923.4,231.4 L926.4,225.8 L929.4,218.9 L932.4,213.6 L935.4,215.6 L938.4,197.8 L941.4,189.7 L944.4,186.9 L947.4,177.4 L950.4,167.6 L953.4,170.1 L956.4,163.3 L959.4,163.5 L962.4,159.6 L965.4,167.9 L968.4,180.1 L971.4,178.7 L974.4,180.5 L977.4,198.7 L980.4,193.2 L983.4,201.4 L986.4,198.3 L989.4,215.4 L992.4,214.6 L995.4,213.7 L998.4,214.3 L1001.4,209.5 L1004.4,205.6 L1007.4,204.5 L1010.4,192.2 L1013.4,207.6 L1016.4,208.0 L1019.4,189.3 L1022.4,190.1 L1025.4,202.5 L1028.4,191.4 L1031.4,184.8 L1034.4,199.1 L1037.4,207.2 L1040.4,191.9 L1043.4,199.4 L1046.4,199.4 L1049.4,200.9 L1052.4,203.3 L1055.4,212.8 L1058.4,212.5 L1061.4,213.8 L1064.4,209.1 L1067.4,211.3 L1070.4,211.2 L1073.4,210.8 L1076.4,209.1 L1079.4,210.6 L1082.4,192.0 L1084.6,194.5" fill="none" stroke="#F8588A" stroke-width="2.2" stroke-linejoin="round"/>
<path d="M659.4,200.6 L662.4,201.6 L665.4,203.1 L668.4,205.8 L671.4,209.4 L674.4,213.5 L677.4,217.6 L680.4,221.6 L683.4,225.5 L686.4,229.4 L689.4,233.0 L692.4,236.0 L695.4,238.5 L698.4,240.4 L701.4,241.7 L704.4,242.1 L707.4,240.3 L710.4,235.4 L713.4,227.7 L716.4,217.4 L719.4,204.7 L722.4,193.3 L725.4,183.8 L728.4,176.8 L731.4,173.2 L734.4,174.7 L737.4,175.3 L740.4,174.8 L743.4,173.6 L746.4,171.5 L749.4,169.0 L752.4,166.1 L755.4,162.2 L758.4,156.8 L761.4,151.9 L764.4,149.5 L767.4,149.2 L770.4,150.9 L773.4,154.5 L776.4,159.4 L779.4,166.3 L782.4,176.5 L785.4,189.0 L788.4,202.6 L791.4,217.9 L794.4,234.2 L797.4,251.3 L800.4,267.0 L803.4,279.6 L806.4,287.9 L809.4,287.7 L812.4,280.4 L815.4,269.7 L818.4,256.2 L821.4,242.6 L824.4,229.7 L827.4,216.8 L830.4,202.9 L833.4,187.6 L836.4,169.2 L839.4,154.8 L842.4,150.3 L845.4,152.5 L848.4,152.7 L851.4,149.8 L854.4,146.3 L857.4,143.3 L860.4,140.5 L863.4,139.5 L866.4,141.1 L869.4,146.7 L872.4,157.7 L875.4,165.4 L878.4,176.1 L881.4,186.7 L884.4,196.3 L887.4,208.1 L890.4,211.5 L893.4,219.4 L896.4,221.2 L899.4,220.4 L902.4,226.5 L905.4,223.6 L908.4,224.8 L911.4,230.0 L914.4,225.4 L917.4,231.5 L920.4,223.3 L923.4,221.3 L926.4,217.8 L929.4,221.0 L932.4,216.8 L935.4,214.8 L938.4,207.9 L941.4,184.6 L944.4,184.1 L947.4,185.2 L950.4,175.5 L953.4,176.5 L956.4,163.5 L959.4,165.8 L962.4,173.4 L965.4,183.2 L968.4,182.4 L971.4,183.0 L974.4,196.0 L977.4,202.4 L980.4,196.0 L983.4,198.5 L986.4,198.9 L989.4,212.4 L992.4,217.4 L995.4,211.9 L998.4,221.3 L1001.4,207.4 L1004.4,206.2 L1007.4,208.0 L1010.4,201.7 L1013.4,201.8 L1016.4,191.9 L1019.4,199.3 L1022.4,201.8 L1025.4,201.2 L1028.4,202.3 L1031.4,183.9 L1034.4,200.7 L1037.4,194.6 L1040.4,202.0 L1043.4,201.1 L1046.4,211.1 L1049.4,196.5 L1052.4,195.5 L1055.4,191.0 L1058.4,214.4 L1061.4,201.7 L1064.4,200.6 L1067.4,214.1 L1070.4,199.3 L1073.4,217.7 L1076.4,204.3 L1079.4,211.0 L1082.4,200.1 L1084.6,197.2" fill="none" stroke="#FF8658" stroke-width="2.2" stroke-linejoin="round"/>
<line x1="962.3" y1="82.4" x2="962.3" y2="122.5" stroke="#333" stroke-width="1.8"/><path d="M962.3,132.5 L957.0999999999999,112.5 L962.3,118.5 L967.5,112.5 Z" fill="#333"/>
<line x1="915.4" y1="311.5" x2="915.4" y2="271.7" stroke="#333" stroke-width="1.8"/><path d="M915.4,261.7 L910.1999999999999,281.7 L915.4,275.7 L920.6,281.7 Z" fill="#333"/>
<rect x="659.4" y="34.2" width="426.0" height="313.3" fill="none" stroke="#111" stroke-width="1.8"/>
<line x1="659.4" y1="67.1" x2="652.9" y2="67.1" stroke="#111" stroke-width="1.6"/>
<line x1="659.4" y1="134.0" x2="652.9" y2="134.0" stroke="#111" stroke-width="1.6"/>
<line x1="659.4" y1="200.9" x2="652.9" y2="200.9" stroke="#111" stroke-width="1.6"/>
<line x1="659.4" y1="267.8" x2="652.9" y2="267.8" stroke="#111" stroke-width="1.6"/>
<line x1="659.4" y1="334.7" x2="652.9" y2="334.7" stroke="#111" stroke-width="1.6"/>
<line x1="659.4" y1="100.5" x2="655.9" y2="100.5" stroke="#111" stroke-width="1.6"/>
<line x1="659.4" y1="167.4" x2="655.9" y2="167.4" stroke="#111" stroke-width="1.6"/>
<line x1="659.4" y1="234.4" x2="655.9" y2="234.4" stroke="#111" stroke-width="1.6"/>
<line x1="659.4" y1="301.2" x2="655.9" y2="301.2" stroke="#111" stroke-width="1.6"/>
<text x="647.6" y="77.2" font-size="28" fill="#000" text-anchor="end" >1.0</text>
<text x="647.6" y="144.1" font-size="28" fill="#000" text-anchor="end" >0.5</text>
<text x="647.6" y="211.0" font-size="28" fill="#000" text-anchor="end" >0</text>
<text x="647.6" y="277.9" font-size="28" fill="#000" text-anchor="end" >-0.5</text>
<text x="647.6" y="344.8" font-size="28" fill="#000" text-anchor="end" >-1.0</text>
<line x1="659.4" y1="347.5" x2="659.4" y2="354.0" stroke="#111" stroke-width="1.6"/>
<line x1="759.6" y1="347.5" x2="759.6" y2="354.0" stroke="#111" stroke-width="1.6"/>
<line x1="859.8" y1="347.5" x2="859.8" y2="354.0" stroke="#111" stroke-width="1.6"/>
<line x1="960.0" y1="347.5" x2="960.0" y2="354.0" stroke="#111" stroke-width="1.6"/>
<line x1="1060.2" y1="347.5" x2="1060.2" y2="354.0" stroke="#111" stroke-width="1.6"/>
<line x1="709.5" y1="347.5" x2="709.5" y2="351.0" stroke="#111" stroke-width="1.6"/>
<line x1="809.7" y1="347.5" x2="809.7" y2="351.0" stroke="#111" stroke-width="1.6"/>
<line x1="909.9" y1="347.5" x2="909.9" y2="351.0" stroke="#111" stroke-width="1.6"/>
<line x1="1010.1" y1="347.5" x2="1010.1" y2="351.0" stroke="#111" stroke-width="1.6"/>
<text x="659.4" y="380.0" font-size="28" fill="#000" text-anchor="middle" >0</text>
<text x="759.6" y="380.0" font-size="28" fill="#000" text-anchor="middle" >2</text>
<text x="859.8" y="380.0" font-size="28" fill="#000" text-anchor="middle" >4</text>
<text x="960.0" y="380.0" font-size="28" fill="#000" text-anchor="middle" >6</text>
<text x="1060.2" y="380.0" font-size="28" fill="#000" text-anchor="middle" >8</text>
<text x="860.0" y="408.0" font-size="27.6" fill="#000" text-anchor="middle" >Wavenumber (Å<tspan font-size="0.62em" dy="-11">-1</tspan><tspan dy="11">)</tspan></text>
<text x="0" y="0" font-size="27.5" fill="#000" text-anchor="middle" transform="translate(600.5,192.0) rotate(-90)">k<tspan font-size="0.62em" dy="-11">2</tspan><tspan dy="11"> X(k) (Å</tspan><tspan font-size="0.62em" dy="-11">-2</tspan><tspan dy="11">)</tspan></text>
<line x1="670.8" y1="56.5" x2="707.4" y2="56.5" stroke="#F0504F" stroke-width="2.2"/>
<text x="712.3" y="62.6" font-size="28" fill="#F0504F" text-anchor="start" >1.0 V</text>
<line x1="670.8" y1="88.5" x2="707.4" y2="88.5" stroke="#CC48AE" stroke-width="2.2"/>
<text x="712.3" y="94.6" font-size="28" fill="#CC48AE" text-anchor="start" >1.4 V</text>
<line x1="670.8" y1="120.6" x2="707.4" y2="120.6" stroke="#FF8658" stroke-width="2.2"/>
<text x="712.3" y="126.7" font-size="28" fill="#FF8658" text-anchor="start" >1.8 V</text>
<line x1="796" y1="56.5" x2="832.6" y2="56.5" stroke="#7B4FC4" stroke-width="2.2"/>
<text x="837.4" y="62.6" font-size="28" fill="#7B4FC4" text-anchor="start" >1.2 V</text>
<line x1="796" y1="88.5" x2="832.6" y2="88.5" stroke="#F8588A" stroke-width="2.2"/>
<text x="837.4" y="94.6" font-size="28" fill="#F8588A" text-anchor="start" >1.6 V</text>
<text x="965.0" y="336.0" font-size="27.5" fill="#FF8470" text-anchor="start" >KMnPO<tspan font-size="0.72em">4</tspan></text>
<text x="571.0" y="40.0" font-size="48" fill="#000" text-anchor="start" >c</text>
<path d="M667.1,633.9 L670.1,634.5 L673.1,635.2 L676.1,636.6 L679.1,638.8 L682.1,641.2 L685.1,643.7 L688.1,645.9 L691.1,647.9 L694.1,650.0 L697.1,652.0 L700.1,653.7 L703.1,654.9 L706.1,654.8 L709.1,652.1 L712.1,647.6 L715.1,642.1 L718.1,636.1 L721.1,630.4 L724.1,625.9 L727.1,622.1 L730.1,618.8 L733.1,615.9 L736.1,613.0 L739.1,610.4 L742.1,607.9 L745.1,605.8 L748.1,604.6 L751.1,606.8 L754.1,610.1 L757.1,613.5 L760.1,613.9 L763.1,612.0 L766.1,609.4 L769.1,606.0 L772.1,602.8 L775.1,600.8 L778.1,600.8 L781.1,604.3 L784.1,610.8 L787.1,621.6 L790.1,639.3 L793.1,659.5 L796.1,677.7 L799.1,694.9 L802.1,709.8 L805.1,724.0 L808.1,735.4 L811.1,739.2 L814.1,732.9 L817.1,720.3 L820.1,705.2 L823.1,687.2 L826.1,667.6 L829.1,646.9 L832.1,624.8 L835.1,602.2 L838.1,576.2 L841.1,549.3 L844.1,534.1 L847.1,536.9 L850.1,549.2 L853.1,561.8 L856.1,565.5 L859.1,560.5 L862.1,556.0 L865.1,560.7 L868.1,568.6 L871.1,576.1 L874.1,589.4 L877.1,618.0 L880.1,642.0 L883.1,661.7 L886.1,681.4 L889.1,696.5 L892.1,711.0 L895.1,715.3 L898.1,710.9 L901.1,706.4 L904.1,690.2 L907.1,677.7 L910.1,667.5 L913.1,663.3 L916.1,654.6 L919.1,657.9 L922.1,657.6 L925.1,649.3 L928.1,645.3 L931.1,646.2 L934.1,637.2 L937.1,636.2 L940.1,633.0 L943.1,614.9 L946.1,601.4 L949.1,598.8 L952.1,584.3 L955.1,575.8 L958.1,580.1 L961.1,589.7 L964.1,570.5 L967.1,580.7 L970.1,599.1 L973.1,622.3 L976.1,638.8 L979.1,643.2 L982.1,641.2 L985.1,648.9 L988.1,658.4 L991.1,673.4 L994.1,680.1 L997.1,690.6 L1000.1,693.0 L1003.1,665.9 L1006.1,664.5 L1009.1,646.1 L1012.1,642.8 L1015.1,642.4 L1018.1,622.4 L1021.1,635.5 L1024.1,610.5 L1027.1,619.6 L1030.1,613.2 L1033.1,592.1 L1036.1,597.4 L1039.1,602.8 L1042.1,610.4 L1045.1,624.2 L1048.1,610.3 L1051.1,625.4 L1054.1,636.9 L1057.1,610.1 L1060.1,624.8 L1063.1,613.1 L1066.1,639.6 L1069.1,638.6 L1072.1,654.9 L1075.1,657.9 L1078.1,649.4 L1081.1,666.0 L1084.1,657.7 L1087.1,659.5 L1090.1,650.4 L1091.9,647.8" fill="none" stroke="#F0504F" stroke-width="2.2" stroke-linejoin="round"/>
<path d="M667.1,633.9 L670.1,634.4 L673.1,635.2 L676.1,636.7 L679.1,638.9 L682.1,641.5 L685.1,644.0 L688.1,646.3 L691.1,648.5 L694.1,650.6 L697.1,652.7 L700.1,654.4 L703.1,655.6 L706.1,655.6 L709.1,652.7 L712.1,648.3 L715.1,642.8 L718.1,636.8 L721.1,631.3 L724.1,626.7 L727.1,623.0 L730.1,619.8 L733.1,616.8 L736.1,613.9 L739.1,611.1 L742.1,608.4 L745.1,606.2 L748.1,604.8 L751.1,606.8 L754.1,609.9 L757.1,613.2 L760.1,613.4 L763.1,611.4 L766.1,608.8 L769.1,605.5 L772.1,602.3 L775.1,600.3 L778.1,600.4 L781.1,603.9 L784.1,610.2 L787.1,620.7 L790.1,638.3 L793.1,658.2 L796.1,676.0 L799.1,692.7 L802.1,706.9 L805.1,720.1 L808.1,730.6 L811.1,734.2 L814.1,728.9 L817.1,717.5 L820.1,703.2 L823.1,685.8 L826.1,667.1 L829.1,647.3 L832.1,626.1 L835.1,604.9 L838.1,580.8 L841.1,556.1 L844.1,542.0 L847.1,544.2 L850.1,555.0 L853.1,566.2 L856.1,569.2 L859.1,564.6 L862.1,559.9 L865.1,561.8 L868.1,567.8 L871.1,575.0 L874.1,588.3 L877.1,617.5 L880.1,638.0 L883.1,658.7 L886.1,673.9 L889.1,689.0 L892.1,703.7 L895.1,706.9 L898.1,702.7 L901.1,697.2 L904.1,691.1 L907.1,675.8 L910.1,667.8 L913.1,665.8 L916.1,654.6 L919.1,652.7 L922.1,652.3 L925.1,652.2 L928.1,647.5 L931.1,642.7 L934.1,644.3 L937.1,638.7 L940.1,634.9 L943.1,613.3 L946.1,600.4 L949.1,601.8 L952.1,587.3 L955.1,588.8 L958.1,578.0 L961.1,587.3 L964.1,576.6 L967.1,583.9 L970.1,604.8 L973.1,612.1 L976.1,639.2 L979.1,642.3 L982.1,640.8 L985.1,651.1 L988.1,661.0 L991.1,674.1 L994.1,665.9 L997.1,695.3 L1000.1,684.5 L1003.1,661.2 L1006.1,655.4 L1009.1,652.5 L1012.1,630.2 L1015.1,635.2 L1018.1,629.5 L1021.1,625.9 L1024.1,609.1 L1027.1,605.6 L1030.1,624.3 L1033.1,589.8 L1036.1,586.6 L1039.1,604.9 L1042.1,597.8 L1045.1,624.2 L1048.1,631.4 L1051.1,624.4 L1054.1,633.1 L1057.1,623.8 L1060.1,625.7 L1063.1,617.5 L1066.1,624.3 L1069.1,637.1 L1072.1,667.6 L1075.1,672.1 L1078.1,652.6 L1081.1,664.9 L1084.1,648.9 L1087.1,655.6 L1090.1,645.3 L1091.9,647.3" fill="none" stroke="#7B4FC4" stroke-width="2.2" stroke-linejoin="round"/>
<path d="M667.1,633.9 L670.1,634.4 L673.1,635.2 L676.1,636.7 L679.1,639.0 L682.1,641.8 L685.1,644.5 L688.1,646.9 L691.1,649.1 L694.1,651.4 L697.1,653.5 L700.1,655.3 L703.1,656.5 L706.1,656.5 L709.1,653.6 L712.1,649.1 L715.1,643.7 L718.1,637.8 L721.1,632.3 L724.1,627.8 L727.1,624.1 L730.1,620.9 L733.1,617.9 L736.1,614.9 L739.1,611.9 L742.1,609.1 L745.1,606.6 L748.1,605.0 L751.1,606.8 L754.1,609.7 L757.1,612.7 L760.1,612.8 L763.1,610.7 L766.1,608.1 L769.1,604.8 L772.1,601.7 L775.1,599.7 L778.1,599.9 L781.1,603.3 L784.1,609.5 L787.1,619.8 L790.1,637.1 L793.1,656.7 L796.1,674.0 L799.1,690.1 L802.1,703.5 L805.1,715.5 L808.1,724.8 L811.1,728.2 L814.1,724.1 L817.1,714.1 L820.1,700.8 L823.1,684.2 L826.1,666.3 L829.1,647.7 L832.1,627.8 L835.1,608.0 L838.1,586.2 L841.1,564.2 L844.1,551.5 L847.1,553.0 L850.1,562.1 L853.1,571.4 L856.1,573.7 L859.1,569.4 L862.1,564.6 L865.1,563.2 L868.1,566.9 L871.1,573.8 L874.1,586.9 L877.1,613.0 L880.1,636.0 L883.1,652.0 L886.1,668.9 L889.1,685.2 L892.1,692.3 L895.1,698.9 L898.1,699.1 L901.1,692.3 L904.1,686.9 L907.1,677.4 L910.1,667.0 L913.1,661.9 L916.1,659.3 L919.1,652.4 L922.1,656.0 L925.1,648.7 L928.1,645.2 L931.1,650.7 L934.1,637.1 L937.1,630.9 L940.1,634.5 L943.1,624.0 L946.1,613.3 L949.1,606.4 L952.1,590.4 L955.1,593.0 L958.1,591.7 L961.1,590.4 L964.1,587.3 L967.1,591.8 L970.1,605.7 L973.1,620.2 L976.1,633.8 L979.1,633.5 L982.1,648.9 L985.1,647.4 L988.1,653.8 L991.1,660.4 L994.1,673.6 L997.1,692.1 L1000.1,687.0 L1003.1,667.9 L1006.1,646.3 L1009.1,634.2 L1012.1,645.0 L1015.1,619.8 L1018.1,621.6 L1021.1,624.0 L1024.1,608.6 L1027.1,621.7 L1030.1,622.4 L1033.1,602.7 L1036.1,599.9 L1039.1,608.5 L1042.1,614.4 L1045.1,603.6 L1048.1,610.7 L1051.1,636.4 L1054.1,639.1 L1057.1,638.3 L1060.1,634.2 L1063.1,625.4 L1066.1,627.7 L1069.1,650.6 L1072.1,641.6 L1075.1,661.2 L1078.1,651.7 L1081.1,661.6 L1084.1,661.3 L1087.1,663.5 L1090.1,647.8 L1091.9,644.3" fill="none" stroke="#CC48AE" stroke-width="2.2" stroke-linejoin="round"/>
<path d="M667.1,633.9 L670.1,634.4 L673.1,635.1 L676.1,636.7 L679.1,639.1 L682.1,642.0 L685.1,644.8 L688.1,647.4 L691.1,649.7 L694.1,652.0 L697.1,654.1 L700.1,656.0 L703.1,657.3 L706.1,657.2 L709.1,654.3 L712.1,649.8 L715.1,644.4 L718.1,638.6 L721.1,633.1 L724.1,628.7 L727.1,625.0 L730.1,621.9 L733.1,618.9 L736.1,615.8 L739.1,612.6 L742.1,609.6 L745.1,606.9 L748.1,605.2 L751.1,606.9 L754.1,609.6 L757.1,612.4 L760.1,612.3 L763.1,610.2 L766.1,607.5 L769.1,604.2 L772.1,601.2 L775.1,599.3 L778.1,599.5 L781.1,602.9 L784.1,608.9 L787.1,618.9 L790.1,636.1 L793.1,655.4 L796.1,672.4 L799.1,688.0 L802.1,700.7 L805.1,711.6 L808.1,720.0 L811.1,723.3 L814.1,720.0 L817.1,711.3 L820.1,698.7 L823.1,682.8 L826.1,665.8 L829.1,648.0 L832.1,629.2 L835.1,610.7 L838.1,590.8 L841.1,571.0 L844.1,559.4 L847.1,560.3 L850.1,567.9 L853.1,575.7 L856.1,577.5 L859.1,573.5 L862.1,568.5 L865.1,564.4 L868.1,566.1 L871.1,572.8 L874.1,585.8 L877.1,613.2 L880.1,632.5 L883.1,652.5 L886.1,665.5 L889.1,676.8 L892.1,686.6 L895.1,690.3 L898.1,689.9 L901.1,688.7 L904.1,686.0 L907.1,680.9 L910.1,667.5 L913.1,658.6 L916.1,660.4 L919.1,654.7 L922.1,655.0 L925.1,656.5 L928.1,646.1 L931.1,646.6 L934.1,639.8 L937.1,641.1 L940.1,631.7 L943.1,622.7 L946.1,615.9 L949.1,608.1 L952.1,601.0 L955.1,601.9 L958.1,592.7 L961.1,599.3 L964.1,594.2 L967.1,603.1 L970.1,618.2 L973.1,631.1 L976.1,638.3 L979.1,642.2 L982.1,650.9 L985.1,653.3 L988.1,651.6 L991.1,661.4 L994.1,661.2 L997.1,671.6 L1000.1,677.5 L1003.1,657.0 L1006.1,642.7 L1009.1,635.4 L1012.1,641.5 L1015.1,641.9 L1018.1,618.3 L1021.1,611.9 L1024.1,613.1 L1027.1,621.2 L1030.1,601.2 L1033.1,590.2 L1036.1,603.9 L1039.1,608.7 L1042.1,596.6 L1045.1,626.2 L1048.1,612.8 L1051.1,626.0 L1054.1,638.0 L1057.1,645.2 L1060.1,645.9 L1063.1,631.9 L1066.1,639.2 L1069.1,656.3 L1072.1,647.1 L1075.1,651.0 L1078.1,646.5 L1081.1,645.4 L1084.1,661.9 L1087.1,658.7 L1090.1,647.5 L1091.9,654.2" fill="none" stroke="#F8588A" stroke-width="2.2" stroke-linejoin="round"/>
<path d="M667.1,633.9 L670.1,634.3 L673.1,635.1 L676.1,636.7 L679.1,639.2 L682.1,642.2 L685.1,645.1 L688.1,647.7 L691.1,650.1 L694.1,652.4 L697.1,654.6 L700.1,656.6 L703.1,657.9 L706.1,657.8 L709.1,654.8 L712.1,650.3 L715.1,645.0 L718.1,639.2 L721.1,633.8 L724.1,629.4 L727.1,625.8 L730.1,622.7 L733.1,619.6 L736.1,616.4 L739.1,613.2 L742.1,610.0 L745.1,607.2 L748.1,605.3 L751.1,606.9 L754.1,609.5 L757.1,612.1 L760.1,611.9 L763.1,609.7 L766.1,607.0 L769.1,603.8 L772.1,600.8 L775.1,598.9 L778.1,599.1 L781.1,602.5 L784.1,608.4 L787.1,618.3 L790.1,635.3 L793.1,654.4 L796.1,671.0 L799.1,686.2 L802.1,698.4 L805.1,708.5 L808.1,716.1 L811.1,719.3 L814.1,716.8 L817.1,709.0 L820.1,697.1 L823.1,681.7 L826.1,665.3 L829.1,648.3 L832.1,630.3 L835.1,612.8 L838.1,594.4 L841.1,576.4 L844.1,565.7 L847.1,566.2 L850.1,572.6 L853.1,579.2 L856.1,580.5 L859.1,576.7 L862.1,571.6 L865.1,565.3 L868.1,565.4 L871.1,572.0 L874.1,584.9 L877.1,611.9 L880.1,630.4 L883.1,650.6 L886.1,665.2 L889.1,672.5 L892.1,682.1 L895.1,682.7 L898.1,680.3 L901.1,685.0 L904.1,681.6 L907.1,676.0 L910.1,665.4 L913.1,664.8 L916.1,657.3 L919.1,650.2 L922.1,653.6 L925.1,651.9 L928.1,654.8 L931.1,641.3 L934.1,641.8 L937.1,638.7 L940.1,635.0 L943.1,619.6 L946.1,617.8 L949.1,603.3 L952.1,599.7 L955.1,605.0 L958.1,608.3 L961.1,600.4 L964.1,598.0 L967.1,601.1 L970.1,614.1 L973.1,631.2 L976.1,635.1 L979.1,638.1 L982.1,643.4 L985.1,641.9 L988.1,646.9 L991.1,652.6 L994.1,671.5 L997.1,679.6 L1000.1,662.9 L1003.1,663.2 L1006.1,659.8 L1009.1,629.2 L1012.1,625.1 L1015.1,640.6 L1018.1,626.7 L1021.1,633.3 L1024.1,629.5 L1027.1,617.4 L1030.1,625.1 L1033.1,591.3 L1036.1,588.1 L1039.1,593.5 L1042.1,616.9 L1045.1,605.5 L1048.1,621.8 L1051.1,637.2 L1054.1,640.3 L1057.1,631.3 L1060.1,628.8 L1063.1,651.1 L1066.1,656.1 L1069.1,654.2 L1072.1,655.4 L1075.1,642.6 L1078.1,649.2 L1081.1,646.6 L1084.1,651.2 L1087.1,642.4 L1090.1,648.8 L1091.9,642.9" fill="none" stroke="#FF8658" stroke-width="2.2" stroke-linejoin="round"/>
<line x1="960.1" y1="514.6" x2="960.1" y2="555.6" stroke="#333" stroke-width="1.8"/><path d="M960.1,565.6 L954.9,545.6 L960.1,551.6 L965.3000000000001,545.6 Z" fill="#333"/>
<line x1="896.5" y1="765.7" x2="896.5" y2="725.3" stroke="#333" stroke-width="1.8"/><path d="M896.5,715.3 L891.3,735.3 L896.5,729.3 L901.7,735.3 Z" fill="#333"/>
<rect x="667.1" y="457.9" width="425.6" height="313.9" fill="none" stroke="#111" stroke-width="1.8"/>
<line x1="667.1" y1="508.4" x2="660.6" y2="508.4" stroke="#111" stroke-width="1.6"/>
<line x1="667.1" y1="571.1" x2="660.6" y2="571.1" stroke="#111" stroke-width="1.6"/>
<line x1="667.1" y1="633.8" x2="660.6" y2="633.8" stroke="#111" stroke-width="1.6"/>
<line x1="667.1" y1="696.5" x2="660.6" y2="696.5" stroke="#111" stroke-width="1.6"/>
<line x1="667.1" y1="759.2" x2="660.6" y2="759.2" stroke="#111" stroke-width="1.6"/>
<line x1="667.1" y1="477.0" x2="663.6" y2="477.0" stroke="#111" stroke-width="1.6"/>
<line x1="667.1" y1="539.8" x2="663.6" y2="539.8" stroke="#111" stroke-width="1.6"/>
<line x1="667.1" y1="602.4" x2="663.6" y2="602.4" stroke="#111" stroke-width="1.6"/>
<line x1="667.1" y1="665.1" x2="663.6" y2="665.1" stroke="#111" stroke-width="1.6"/>
<line x1="667.1" y1="727.8" x2="663.6" y2="727.8" stroke="#111" stroke-width="1.6"/>
<text x="655.3" y="518.5" font-size="28" fill="#000" text-anchor="end" >1.0</text>
<text x="655.3" y="581.2" font-size="28" fill="#000" text-anchor="end" >0.5</text>
<text x="655.3" y="643.9" font-size="28" fill="#000" text-anchor="end" >0</text>
<text x="655.3" y="706.6" font-size="28" fill="#000" text-anchor="end" >-0.5</text>
<text x="655.3" y="769.3" font-size="28" fill="#000" text-anchor="end" >-1.0</text>
<line x1="667.1" y1="771.8" x2="667.1" y2="778.3" stroke="#111" stroke-width="1.6"/>
<line x1="767.1" y1="771.8" x2="767.1" y2="778.3" stroke="#111" stroke-width="1.6"/>
<line x1="867.1" y1="771.8" x2="867.1" y2="778.3" stroke="#111" stroke-width="1.6"/>
<line x1="967.1" y1="771.8" x2="967.1" y2="778.3" stroke="#111" stroke-width="1.6"/>
<line x1="1067.1" y1="771.8" x2="1067.1" y2="778.3" stroke="#111" stroke-width="1.6"/>
<line x1="717.1" y1="771.8" x2="717.1" y2="775.3" stroke="#111" stroke-width="1.6"/>
<line x1="817.1" y1="771.8" x2="817.1" y2="775.3" stroke="#111" stroke-width="1.6"/>
<line x1="917.1" y1="771.8" x2="917.1" y2="775.3" stroke="#111" stroke-width="1.6"/>
<line x1="1017.1" y1="771.8" x2="1017.1" y2="775.3" stroke="#111" stroke-width="1.6"/>
<text x="667.1" y="802.4" font-size="28" fill="#000" text-anchor="middle" >0</text>
<text x="767.1" y="802.4" font-size="28" fill="#000" text-anchor="middle" >2</text>
<text x="867.1" y="802.4" font-size="28" fill="#000" text-anchor="middle" >4</text>
<text x="967.1" y="802.4" font-size="28" fill="#000" text-anchor="middle" >6</text>
<text x="1067.1" y="802.4" font-size="28" fill="#000" text-anchor="middle" >8</text>
<text x="880.0" y="830.5" font-size="27.6" fill="#000" text-anchor="middle" >Wavenumber (Å<tspan font-size="0.62em" dy="-11">-1</tspan><tspan dy="11">)</tspan></text>
<text x="0" y="0" font-size="27.5" fill="#000" text-anchor="middle" transform="translate(601.0,629.5) rotate(-90)">k<tspan font-size="0.62em" dy="-11">2</tspan><tspan dy="11"> X(k) (Å</tspan><tspan font-size="0.62em" dy="-11">-2</tspan><tspan dy="11">)</tspan></text>
<line x1="676.3" y1="478.7" x2="713.5" y2="478.7" stroke="#F0504F" stroke-width="2.2"/>
<text x="716.9" y="484.8" font-size="28" fill="#F0504F" text-anchor="start" >1.0 V</text>
<line x1="676.3" y1="512.2" x2="713.5" y2="512.2" stroke="#CC48AE" stroke-width="2.2"/>
<text x="716.9" y="518.3" font-size="28" fill="#CC48AE" text-anchor="start" >1.4 V</text>
<line x1="676.3" y1="545.9" x2="713.5" y2="545.9" stroke="#FF8658" stroke-width="2.2"/>
<text x="716.9" y="552.0" font-size="28" fill="#FF8658" text-anchor="start" >1.8 V</text>
<line x1="800.5" y1="478.7" x2="838.7" y2="478.7" stroke="#7B4FC4" stroke-width="2.2"/>
<text x="843.5" y="484.8" font-size="28" fill="#7B4FC4" text-anchor="start" >1.2 V</text>
<line x1="800.5" y1="512.2" x2="838.7" y2="512.2" stroke="#F8588A" stroke-width="2.2"/>
<text x="843.5" y="518.3" font-size="28" fill="#F8588A" text-anchor="start" >1.6 V</text>
<text x="914.6" y="762.7" font-size="27.5" fill="#2A7FC4" text-anchor="start" >KMnPO<tspan font-size="0.72em">4</tspan>·H<tspan font-size="0.72em">2</tspan>O</text>
<text x="587.0" y="449.5" font-size="48" fill="#000" text-anchor="start" >d</text>
<path d="M1232.0,341.0 L1234.0,340.7 L1236.7,340.2 L1239.9,339.7 L1243.5,339.1 L1247.1,338.5 L1250.7,337.9 L1253.9,337.4 L1256.6,337.0 L1258.8,336.8 L1260.6,336.7 L1262.2,336.7 L1263.6,336.8 L1265.0,336.8 L1266.5,336.6 L1268.1,336.3 L1270.0,335.7 L1272.2,334.7 L1274.7,333.4 L1277.2,331.8 L1279.9,330.1 L1282.6,328.4 L1285.2,327.0 L1287.7,325.8 L1289.9,325.0 L1291.9,324.9 L1293.7,325.4 L1295.3,326.2 L1296.9,327.2 L1298.5,328.1 L1300.2,328.6 L1301.9,328.6 L1303.9,327.7 L1306.1,325.8 L1308.5,323.2 L1311.0,319.9 L1313.6,316.3 L1316.2,312.6 L1318.7,309.0 L1321.0,305.8 L1323.2,303.1 L1325.1,301.0 L1326.9,299.3 L1328.6,297.9 L1330.2,296.6 L1331.8,295.4 L1333.3,294.2 L1334.9,292.8 L1336.5,291.1 L1338.2,289.1 L1339.9,286.9 L1341.6,284.5 L1343.4,282.1 L1345.1,279.7 L1346.7,277.5 L1348.4,275.5 L1349.9,273.8 L1351.4,272.4 L1352.8,271.2 L1354.1,270.2 L1355.5,269.3 L1356.7,268.6 L1358.0,268.0 L1359.3,267.5 L1360.5,267.1 L1361.7,266.8 L1362.9,266.8 L1364.1,266.9 L1365.3,267.1 L1366.5,267.4 L1367.6,267.6 L1368.7,267.8 L1369.8,267.8 L1370.9,267.7 L1371.9,267.5 L1372.9,267.2 L1373.9,266.9 L1374.9,266.7 L1375.8,266.5 L1376.8,266.4 L1377.8,266.4 L1378.8,266.4 L1379.8,266.4 L1380.7,266.3 L1381.7,266.3 L1382.7,266.6 L1383.7,267.2 L1384.7,268.2 L1385.8,269.8 L1386.9,272.0 L1388.0,274.6 L1389.1,277.7 L1390.2,281.1 L1391.4,284.7 L1392.6,288.5 L1393.8,292.5 L1395.1,296.4 L1396.5,300.8 L1397.9,305.8 L1399.4,311.1 L1401.0,316.6 L1402.5,321.7 L1404.1,326.3 L1405.6,329.9 L1407.1,332.4 L1408.5,333.4 L1410.0,333.0 L1411.4,331.8 L1412.8,329.9 L1414.2,327.9 L1415.6,326.1 L1417.0,324.8 L1418.4,324.4 L1419.8,325.1 L1421.3,326.7 L1422.8,328.7 L1424.2,331.0 L1425.7,333.1 L1427.1,334.9 L1428.5,335.8 L1429.8,335.7 L1431.1,334.4 L1432.2,332.1 L1433.4,329.0 L1434.5,325.6 L1435.6,321.9 L1436.7,318.3 L1437.9,315.1 L1439.1,312.4 L1440.4,310.1 L1441.8,307.9 L1443.2,305.8 L1444.7,303.9 L1446.1,302.2 L1447.5,300.9 L1448.8,299.9 L1450.0,299.3 L1451.0,299.1 L1451.9,299.2 L1452.7,299.7 L1453.5,300.5 L1454.3,301.6 L1455.1,303.0 L1456.1,304.8 L1457.3,307.0 L1458.7,310.0 L1460.2,313.9 L1461.9,318.4 L1463.7,323.1 L1465.4,327.7 L1467.2,331.8 L1469.0,335.0 L1470.6,337.0 L1472.1,337.5 L1473.6,336.7 L1475.1,335.0 L1476.6,332.9 L1478.0,330.6 L1479.5,328.5 L1481.0,327.0 L1482.6,326.4 L1484.2,326.9 L1485.9,328.2 L1487.6,330.0 L1489.4,332.0 L1491.2,334.1 L1493.0,335.9 L1494.8,337.2 L1496.6,337.7 L1498.4,337.3 L1500.3,336.2 L1502.2,334.6 L1504.1,332.7 L1506.1,330.8 L1508.0,329.2 L1509.9,328.1 L1511.9,327.7 L1513.9,328.2 L1515.9,329.5 L1518.0,331.2 L1520.0,333.2 L1522.1,335.3 L1524.1,337.0 L1526.0,338.4 L1527.9,339.0 L1529.6,338.9 L1531.2,338.2 L1532.7,337.1 L1534.2,335.7 L1535.7,334.3 L1537.4,332.9 L1539.2,331.7 L1541.2,330.8 L1543.5,330.2 L1546.0,329.7 L1548.7,329.3 L1551.6,328.9 L1554.4,328.7 L1557.2,328.7 L1559.9,328.7 L1562.5,329.0 L1564.9,329.6 L1567.3,330.5 L1569.6,331.7 L1571.9,333.0 L1574.1,334.2 L1576.3,335.3 L1578.4,336.1 L1580.5,336.4 L1582.5,336.2 L1584.4,335.6 L1586.2,334.6 L1588.0,333.5 L1589.8,332.4 L1591.5,331.4 L1593.3,330.7 L1595.1,330.4 L1596.9,330.7 L1598.8,331.4 L1600.6,332.4 L1602.4,333.5 L1604.2,334.6 L1606.1,335.6 L1607.9,336.2 L1609.8,336.4 L1611.7,336.0 L1613.5,335.0 L1615.4,333.8 L1617.3,332.3 L1619.2,330.9 L1621.1,329.8 L1623.1,329.1 L1625.1,329.0 L1627.2,329.7 L1629.3,331.1 L1631.5,333.0 L1633.7,335.1 L1635.9,337.2 L1638.1,339.0 L1640.3,340.4 L1642.4,341.0 L1644.6,340.8 L1646.8,340.0 L1649.2,338.7 L1651.4,337.1 L1653.6,335.4 L1655.5,333.9 L1657.1,332.6 L1658.3,331.7" fill="none" stroke="#F0504F" stroke-width="2.2" stroke-linejoin="round" stroke-linecap="round" />
<path d="M1232.0,288.4 L1234.0,287.9 L1236.7,287.2 L1240.0,286.3 L1243.6,285.3 L1247.3,284.4 L1250.8,283.5 L1254.0,282.8 L1256.6,282.4 L1258.6,282.3 L1260.2,282.6 L1261.4,283.0 L1262.5,283.5 L1263.6,284.0 L1264.8,284.2 L1266.2,284.2 L1268.0,283.7 L1270.2,282.6 L1272.6,280.9 L1275.3,278.8 L1278.1,276.6 L1280.9,274.5 L1283.6,272.6 L1286.2,271.1 L1288.6,270.4 L1290.7,270.6 L1292.7,271.7 L1294.5,273.3 L1296.3,275.2 L1298.1,277.0 L1299.9,278.3 L1301.8,278.9 L1303.9,278.4 L1306.2,276.7 L1308.6,273.9 L1311.1,270.5 L1313.7,266.6 L1316.2,262.5 L1318.7,258.6 L1321.0,255.1 L1323.2,252.4 L1325.1,250.4 L1326.9,248.9 L1328.6,247.6 L1330.2,246.6 L1331.8,245.7 L1333.3,244.7 L1334.9,243.4 L1336.5,241.8 L1338.2,239.8 L1339.9,237.5 L1341.6,235.0 L1343.2,232.4 L1344.9,229.9 L1346.6,227.4 L1348.3,225.1 L1349.9,223.2 L1351.5,221.4 L1352.9,219.6 L1354.3,217.9 L1355.7,216.3 L1357.2,215.1 L1358.8,214.1 L1360.5,213.7 L1362.5,213.8 L1364.8,214.5 L1367.3,215.8 L1370.0,217.6 L1372.8,219.7 L1375.6,222.1 L1378.4,224.6 L1380.9,227.2 L1383.2,229.8 L1385.2,232.4 L1387.0,235.2 L1388.7,238.2 L1390.3,241.3 L1391.8,244.5 L1393.3,247.6 L1394.9,250.8 L1396.5,253.8 L1398.2,256.9 L1399.9,260.2 L1401.7,263.6 L1403.4,267.0 L1405.1,270.2 L1406.8,273.1 L1408.3,275.7 L1409.8,277.7 L1411.1,279.3 L1412.2,280.5 L1413.2,281.4 L1414.2,281.9 L1415.2,282.2 L1416.3,282.3 L1417.6,282.1 L1419.1,281.7 L1420.9,280.9 L1423.0,279.7 L1425.2,278.1 L1427.5,276.3 L1429.9,274.4 L1432.2,272.6 L1434.4,271.0 L1436.4,269.8 L1438.2,268.9 L1439.8,268.0 L1441.2,267.3 L1442.7,266.8 L1444.1,266.3 L1445.7,266.0 L1447.4,265.8 L1449.3,265.8 L1451.5,265.9 L1453.8,266.1 L1456.3,266.4 L1458.9,266.9 L1461.5,267.5 L1464.2,268.3 L1466.8,269.3 L1469.3,270.4 L1471.8,271.9 L1474.3,273.9 L1476.9,276.2 L1479.4,278.6 L1481.9,280.9 L1484.3,283.0 L1486.5,284.6 L1488.6,285.5 L1490.5,285.7 L1492.2,285.2 L1493.8,284.2 L1495.3,282.9 L1496.7,281.6 L1498.2,280.5 L1499.7,279.6 L1501.3,279.3 L1503.0,279.6 L1504.7,280.3 L1506.4,281.3 L1508.1,282.5 L1509.9,283.7 L1511.6,284.7 L1513.4,285.4 L1515.2,285.7 L1517.0,285.4 L1518.9,284.7 L1520.7,283.6 L1522.6,282.4 L1524.5,281.2 L1526.4,280.1 L1528.2,279.4 L1529.9,279.1 L1531.5,279.5 L1533.0,280.4 L1534.4,281.7 L1535.8,283.1 L1537.3,284.4 L1538.8,285.5 L1540.6,286.0 L1542.5,285.7 L1544.7,284.4 L1547.1,282.1 L1549.6,279.2 L1552.3,276.0 L1555.0,272.9 L1557.7,270.3 L1560.5,268.4 L1563.2,267.8 L1565.9,268.6 L1568.8,270.5 L1571.7,273.3 L1574.7,276.6 L1577.5,279.9 L1580.3,282.9 L1582.9,285.4 L1585.2,286.8 L1587.3,287.2 L1589.1,286.8 L1590.7,285.9 L1592.3,284.7 L1593.7,283.4 L1595.2,282.2 L1596.8,281.2 L1598.5,280.8 L1600.3,280.9 L1602.1,281.3 L1604.0,281.9 L1605.9,282.7 L1607.8,283.5 L1609.7,284.2 L1611.7,284.6 L1613.8,284.8 L1615.9,284.5 L1617.9,283.9 L1620.0,283.1 L1622.1,282.2 L1624.3,281.3 L1626.6,280.6 L1629.1,280.2 L1631.8,280.1 L1634.9,280.5 L1638.4,281.3 L1642.3,282.4 L1646.2,283.6 L1649.9,284.9 L1653.3,286.0 L1656.2,287.0 L1658.3,287.7" fill="none" stroke="#7B4FC4" stroke-width="2.2" stroke-linejoin="round" stroke-linecap="round" />
<path d="M1232.0,239.8 L1233.4,239.6 L1235.1,239.3 L1237.2,239.0 L1239.6,238.7 L1242.1,238.3 L1244.8,237.9 L1247.4,237.5 L1250.0,237.1 L1252.6,236.8 L1255.4,236.5 L1258.3,236.3 L1261.2,236.1 L1264.1,235.7 L1267.0,235.3 L1269.9,234.7 L1272.6,233.8 L1275.3,232.5 L1277.9,230.8 L1280.6,228.8 L1283.2,226.7 L1285.7,224.7 L1288.1,223.0 L1290.4,221.8 L1292.6,221.2 L1294.6,221.5 L1296.5,222.7 L1298.2,224.3 L1299.8,226.3 L1301.4,228.1 L1302.9,229.7 L1304.4,230.6 L1305.9,230.5 L1307.4,229.4 L1308.8,227.5 L1310.1,224.9 L1311.4,222.1 L1312.7,219.0 L1314.0,216.0 L1315.3,213.4 L1316.6,211.2 L1317.9,209.4 L1319.2,207.7 L1320.5,206.2 L1321.8,204.7 L1323.1,203.5 L1324.5,202.5 L1325.8,201.7 L1327.2,201.2 L1328.6,201.2 L1330.1,201.7 L1331.7,202.5 L1333.2,203.5 L1334.7,204.5 L1336.3,205.2 L1337.8,205.5 L1339.2,205.2 L1340.6,204.2 L1341.9,202.7 L1343.3,200.9 L1344.6,198.8 L1345.9,196.5 L1347.2,194.2 L1348.5,191.9 L1349.9,189.9 L1351.3,187.8 L1352.7,185.4 L1354.1,182.9 L1355.5,180.5 L1357.0,178.2 L1358.5,176.4 L1360.1,175.1 L1361.8,174.5 L1363.6,174.8 L1365.6,175.9 L1367.7,177.5 L1369.8,179.6 L1371.9,181.7 L1374.0,183.9 L1376.0,185.8 L1377.8,187.2 L1379.5,188.2 L1381.2,188.9 L1382.8,189.5 L1384.3,190.0 L1385.8,190.4 L1387.2,191.0 L1388.5,191.6 L1389.8,192.5 L1390.9,193.5 L1391.9,194.4 L1392.8,195.4 L1393.6,196.5 L1394.5,197.8 L1395.4,199.3 L1396.5,201.1 L1397.8,203.2 L1399.3,206.0 L1401.1,209.5 L1403.0,213.4 L1405.0,217.5 L1407.0,221.4 L1409.0,225.0 L1410.8,227.9 L1412.4,229.8 L1413.8,230.6 L1415.1,230.4 L1416.2,229.5 L1417.3,228.3 L1418.3,226.9 L1419.4,225.7 L1420.5,225.0 L1421.8,225.1 L1423.2,226.1 L1424.7,227.9 L1426.2,230.1 L1427.8,232.5 L1429.4,234.9 L1430.9,236.8 L1432.4,238.1 L1433.8,238.5 L1435.1,237.8 L1436.3,236.3 L1437.4,234.2 L1438.5,231.7 L1439.6,229.0 L1440.7,226.4 L1441.9,223.9 L1443.1,221.8 L1444.3,219.8 L1445.5,217.7 L1446.6,215.4 L1447.8,213.3 L1449.1,211.6 L1450.6,210.3 L1452.2,209.6 L1454.0,209.8 L1456.2,211.1 L1458.7,213.6 L1461.5,216.9 L1464.4,220.5 L1467.3,224.3 L1470.0,227.7 L1472.5,230.6 L1474.6,232.5 L1476.3,233.4 L1477.6,233.5 L1478.7,233.1 L1479.7,232.4 L1480.6,231.6 L1481.5,230.9 L1482.7,230.5 L1484.0,230.5 L1485.6,231.1 L1487.3,232.1 L1489.2,233.3 L1491.1,234.6 L1493.0,235.8 L1494.9,237.0 L1496.8,237.7 L1498.6,238.1 L1500.3,237.9 L1502.0,237.2 L1503.6,236.2 L1505.2,235.0 L1506.8,233.8 L1508.5,232.7 L1510.2,232.0 L1511.9,231.8 L1513.7,232.2 L1515.6,233.0 L1517.5,234.1 L1519.5,235.4 L1521.5,236.7 L1523.4,237.9 L1525.3,238.7 L1527.2,239.1 L1529.0,238.9 L1530.8,238.4 L1532.6,237.5 L1534.3,236.5 L1536.1,235.5 L1537.8,234.5 L1539.5,233.6 L1541.2,233.1 L1542.8,232.9 L1544.4,232.8 L1545.9,232.9 L1547.4,233.0 L1549.0,233.2 L1550.6,233.4 L1552.5,233.5 L1554.5,233.5 L1556.8,233.5 L1559.3,233.4 L1562.0,233.4 L1564.8,233.3 L1567.7,233.1 L1570.5,232.9 L1573.2,232.6 L1575.8,232.2 L1578.3,231.5 L1580.7,230.6 L1583.1,229.6 L1585.4,228.4 L1587.8,227.4 L1590.0,226.5 L1592.3,226.0 L1594.5,225.8 L1596.7,226.2 L1598.8,227.1 L1600.8,228.4 L1602.9,229.8 L1604.9,231.2 L1607.0,232.4 L1609.0,233.2 L1611.1,233.5 L1613.2,233.1 L1615.4,232.1 L1617.6,230.7 L1619.7,229.2 L1621.9,227.6 L1624.1,226.3 L1626.3,225.2 L1628.4,224.8 L1630.5,225.0 L1632.7,225.8 L1634.9,226.9 L1637.0,228.2 L1639.1,229.5 L1641.2,230.6 L1643.2,231.5 L1645.1,231.8 L1647.0,231.6 L1649.0,230.9 L1650.9,230.0 L1652.7,228.9 L1654.5,227.7 L1656.0,226.6 L1657.3,225.7 L1658.3,225.1" fill="none" stroke="#CC48AE" stroke-width="2.2" stroke-linejoin="round" stroke-linecap="round" />
<path d="M1232.0,188.9 L1235.0,188.4 L1239.2,187.8 L1244.1,187.0 L1249.5,186.2 L1255.1,185.2 L1260.6,184.2 L1265.7,183.1 L1270.0,181.9 L1273.8,180.5 L1277.3,178.8 L1280.6,176.9 L1283.7,175.0 L1286.5,173.1 L1289.2,171.5 L1291.6,170.3 L1293.9,169.6 L1295.9,169.4 L1297.6,169.7 L1299.1,170.3 L1300.4,171.2 L1301.5,172.2 L1302.6,173.3 L1303.6,174.3 L1304.6,175.2 L1305.6,176.2 L1306.4,177.3 L1307.2,178.6 L1307.9,179.9 L1308.6,181.1 L1309.2,181.9 L1309.9,182.5 L1310.6,182.5 L1311.3,182.1 L1312.0,181.2 L1312.7,180.1 L1313.4,178.7 L1314.1,177.1 L1314.9,175.3 L1315.7,173.3 L1316.6,171.2 L1317.6,168.8 L1318.7,166.0 L1319.8,162.8 L1321.0,159.6 L1322.3,156.4 L1323.5,153.3 L1324.7,150.7 L1325.9,148.6 L1327.1,147.0 L1328.3,145.7 L1329.4,144.7 L1330.6,143.9 L1331.8,143.3 L1333.0,143.0 L1334.1,142.7 L1335.2,142.6 L1336.3,142.7 L1337.3,143.0 L1338.3,143.6 L1339.3,144.3 L1340.3,145.0 L1341.3,145.8 L1342.2,146.6 L1343.2,147.2 L1344.1,147.8 L1345.1,148.6 L1346.0,149.4 L1346.9,150.2 L1347.8,150.8 L1348.7,151.3 L1349.6,151.6 L1350.5,151.5 L1351.4,151.1 L1352.2,150.4 L1353.0,149.5 L1353.8,148.4 L1354.6,147.2 L1355.5,145.9 L1356.6,144.5 L1357.8,143.2 L1359.2,141.6 L1360.7,139.6 L1362.3,137.4 L1364.0,135.2 L1365.7,133.2 L1367.5,131.5 L1369.4,130.5 L1371.2,130.2 L1373.1,130.8 L1375.0,132.3 L1377.0,134.3 L1379.1,136.7 L1381.1,139.2 L1383.2,141.8 L1385.2,144.0 L1387.1,145.9 L1389.0,147.4 L1391.0,148.6 L1393.0,149.8 L1394.9,150.9 L1396.8,151.9 L1398.6,152.9 L1400.3,154.0 L1401.8,155.2 L1403.1,156.4 L1404.2,157.6 L1405.1,158.7 L1405.9,159.9 L1406.8,161.1 L1407.6,162.5 L1408.6,164.1 L1409.8,165.9 L1411.2,168.2 L1412.7,171.0 L1414.2,174.1 L1415.9,177.3 L1417.6,180.3 L1419.2,182.9 L1420.9,184.8 L1422.4,185.9 L1423.9,185.9 L1425.3,184.9 L1426.7,183.3 L1428.1,181.3 L1429.5,179.2 L1430.9,177.1 L1432.3,175.5 L1433.8,174.5 L1435.3,174.2 L1436.7,174.3 L1438.1,174.7 L1439.6,175.3 L1441.1,175.9 L1442.7,176.4 L1444.3,176.7 L1446.0,176.5 L1447.8,175.7 L1449.7,174.4 L1451.6,172.7 L1453.6,171.0 L1455.6,169.4 L1457.7,168.2 L1459.8,167.6 L1462.0,167.9 L1464.2,169.4 L1466.5,172.0 L1468.9,175.3 L1471.3,178.9 L1473.8,182.5 L1476.1,185.7 L1478.4,188.0 L1480.6,189.2 L1482.6,188.9 L1484.5,187.5 L1486.4,185.2 L1488.2,182.5 L1490.0,179.8 L1491.8,177.3 L1493.8,175.6 L1495.9,174.9 L1498.3,175.4 L1500.9,176.7 L1503.6,178.6 L1506.4,180.9 L1509.2,183.3 L1511.7,185.5 L1514.0,187.3 L1515.9,188.5 L1517.4,189.0 L1518.5,189.2 L1519.3,189.0 L1520.0,188.6 L1520.6,188.1 L1521.1,187.7 L1521.8,187.3 L1522.6,187.2 L1523.5,187.4 L1524.2,187.7 L1525.0,188.2 L1525.8,188.7 L1526.7,189.1 L1527.7,189.3 L1529.0,189.3 L1530.6,188.9 L1532.6,188.0 L1534.9,186.7 L1537.5,185.0 L1540.3,183.3 L1543.1,181.5 L1545.8,179.8 L1548.3,178.5 L1550.5,177.6 L1552.4,177.2 L1554.0,177.2 L1555.4,177.5 L1556.7,177.9 L1558.1,178.4 L1559.4,178.8 L1560.9,179.1 L1562.5,179.2 L1564.3,178.9 L1566.2,178.4 L1568.2,177.7 L1570.3,177.0 L1572.4,176.3 L1574.5,175.8 L1576.5,175.7 L1578.5,175.9 L1580.4,176.7 L1582.3,178.2 L1584.2,180.0 L1586.1,181.9 L1587.9,183.8 L1589.9,185.4 L1591.8,186.5 L1593.8,186.9 L1595.9,186.4 L1598.0,185.0 L1600.1,183.1 L1602.2,180.9 L1604.4,178.8 L1606.6,176.9 L1608.9,175.6 L1611.1,175.2 L1613.4,175.8 L1615.8,177.2 L1618.3,179.1 L1620.7,181.4 L1623.2,183.7 L1625.5,185.7 L1627.7,187.4 L1629.8,188.3 L1631.6,188.5 L1633.3,188.1 L1634.8,187.3 L1636.3,186.2 L1637.7,185.1 L1639.2,184.1 L1640.7,183.3 L1642.4,182.9 L1644.3,182.9 L1646.5,183.1 L1648.8,183.5 L1651.1,184.1 L1653.4,184.6 L1655.4,185.2 L1657.1,185.6 L1658.3,185.9" fill="none" stroke="#F8588A" stroke-width="2.2" stroke-linejoin="round" stroke-linecap="round" />
<path d="M1232.0,137.9 L1233.4,137.6 L1235.2,137.3 L1237.3,136.9 L1239.8,136.5 L1242.3,136.0 L1244.9,135.5 L1247.5,135.0 L1250.0,134.6 L1252.5,134.2 L1255.2,133.7 L1257.9,133.2 L1260.7,132.7 L1263.4,132.3 L1265.9,131.8 L1268.1,131.4 L1270.0,131.0 L1271.4,130.7 L1272.3,130.5 L1273.0,130.3 L1273.5,130.1 L1273.9,129.9 L1274.5,129.6 L1275.4,129.2 L1276.6,128.6 L1278.3,127.8 L1280.4,126.7 L1282.7,125.5 L1285.2,124.2 L1287.6,122.9 L1290.0,121.8 L1292.1,120.9 L1293.9,120.3 L1295.3,120.1 L1296.6,120.1 L1297.6,120.3 L1298.5,120.7 L1299.3,121.1 L1300.1,121.7 L1301.0,122.2 L1301.9,122.6 L1302.9,123.1 L1303.9,123.7 L1305.0,124.5 L1306.0,125.2 L1307.0,125.9 L1308.0,126.4 L1309.0,126.6 L1309.9,126.6 L1310.8,126.3 L1311.6,125.7 L1312.4,125.0 L1313.2,124.1 L1314.0,123.1 L1314.8,121.9 L1315.6,120.6 L1316.6,119.3 L1317.6,117.8 L1318.6,116.0 L1319.7,114.1 L1320.8,112.1 L1322.0,110.0 L1323.2,108.1 L1324.5,106.2 L1325.9,104.6 L1327.4,103.1 L1329.0,101.6 L1330.7,100.3 L1332.5,99.0 L1334.2,97.8 L1336.0,96.8 L1337.6,95.9 L1339.2,95.3 L1340.7,94.9 L1342.1,94.8 L1343.5,94.9 L1344.9,95.2 L1346.2,95.5 L1347.5,95.9 L1348.7,96.3 L1349.9,96.6 L1351.0,96.9 L1352.0,97.3 L1353.0,97.8 L1353.9,98.3 L1354.9,98.7 L1355.8,99.1 L1356.8,99.3 L1357.8,99.3 L1358.9,99.2 L1359.9,98.9 L1360.9,98.6 L1362.0,98.1 L1363.1,97.6 L1364.4,96.9 L1365.7,96.2 L1367.2,95.3 L1368.9,94.2 L1370.9,92.7 L1373.0,91.1 L1375.2,89.4 L1377.4,87.7 L1379.5,86.3 L1381.5,85.2 L1383.2,84.6 L1384.7,84.4 L1386.0,84.5 L1387.1,84.9 L1388.2,85.5 L1389.2,86.4 L1390.2,87.4 L1391.3,88.6 L1392.5,90.0 L1393.8,91.6 L1395.1,93.6 L1396.4,95.7 L1397.7,98.1 L1399.1,100.5 L1400.4,102.9 L1401.8,105.2 L1403.1,107.3 L1404.4,109.3 L1405.7,111.3 L1407.0,113.2 L1408.3,115.1 L1409.6,116.9 L1410.9,118.7 L1412.3,120.3 L1413.8,121.9 L1415.4,123.4 L1417.0,125.0 L1418.7,126.5 L1420.5,127.9 L1422.2,129.1 L1423.9,130.1 L1425.5,130.9 L1427.1,131.3 L1428.5,131.3 L1429.8,131.0 L1431.1,130.3 L1432.3,129.5 L1433.5,128.5 L1434.8,127.5 L1436.2,126.6 L1437.7,125.9 L1439.4,125.3 L1441.2,124.6 L1443.2,124.0 L1445.2,123.4 L1447.2,122.8 L1449.3,122.2 L1451.3,121.7 L1453.3,121.3 L1455.3,120.9 L1457.4,120.6 L1459.6,120.2 L1461.7,119.9 L1463.8,119.7 L1465.8,119.7 L1467.6,119.7 L1469.3,119.9 L1470.8,120.3 L1472.1,120.8 L1473.2,121.4 L1474.3,122.2 L1475.4,123.0 L1476.4,123.9 L1477.4,124.9 L1478.6,125.9 L1479.8,127.1 L1480.9,128.7 L1482.0,130.4 L1483.1,132.1 L1484.3,133.7 L1485.6,134.9 L1487.0,135.7 L1488.6,135.9 L1490.4,135.2 L1492.4,133.8 L1494.5,131.8 L1496.7,129.6 L1498.9,127.3 L1501.1,125.2 L1503.3,123.6 L1505.3,122.6 L1507.2,122.4 L1509.1,122.6 L1511.0,123.2 L1512.8,124.1 L1514.6,125.0 L1516.4,126.0 L1518.2,126.8 L1519.9,127.3 L1521.6,127.5 L1523.4,127.5 L1525.1,127.5 L1526.8,127.3 L1528.5,127.3 L1530.1,127.3 L1531.7,127.5 L1533.2,127.9 L1534.6,128.8 L1535.9,130.1 L1537.1,131.7 L1538.3,133.3 L1539.5,134.8 L1540.8,136.0 L1542.2,136.7 L1543.9,136.6 L1545.8,135.5 L1547.9,133.5 L1550.1,130.8 L1552.5,127.9 L1554.9,125.0 L1557.3,122.5 L1559.6,120.7 L1561.9,119.9 L1564.1,120.4 L1566.3,122.1 L1568.5,124.4 L1570.7,127.1 L1572.8,129.9 L1575.0,132.3 L1577.1,134.0 L1579.2,134.6 L1581.2,134.0 L1583.3,132.4 L1585.2,130.1 L1587.2,127.5 L1589.1,124.8 L1591.1,122.4 L1593.1,120.7 L1595.1,119.9 L1597.1,120.2 L1599.2,121.5 L1601.3,123.3 L1603.4,125.4 L1605.5,127.6 L1607.6,129.5 L1609.7,130.8 L1611.8,131.3 L1613.9,130.7 L1615.9,129.3 L1617.9,127.3 L1619.8,125.0 L1621.9,122.7 L1624.0,120.8 L1626.1,119.6 L1628.4,119.3 L1630.9,120.2 L1633.6,122.0 L1636.4,124.4 L1639.2,127.2 L1642.0,130.1 L1644.6,132.7 L1647.0,134.7 L1649.1,135.9 L1650.9,136.2 L1652.4,135.8 L1653.8,135.0 L1655.0,133.9 L1656.0,132.7 L1656.9,131.5 L1657.7,130.5 L1658.3,129.9" fill="none" stroke="#FF8658" stroke-width="2.2" stroke-linejoin="round" stroke-linecap="round" />
<line x1="1549.9" y1="103.3" x2="1587.2" y2="103.3" stroke="#FF8658" stroke-width="2.2"/>
<text x="1585.0" y="112.8" font-size="28" fill="#FF8658" text-anchor="start" >1.8 V</text>
<line x1="1549.9" y1="158.6" x2="1587.2" y2="158.6" stroke="#F8588A" stroke-width="2.2"/>
<text x="1585.0" y="168.1" font-size="28" fill="#F8588A" text-anchor="start" >1.6 V</text>
<line x1="1549.9" y1="208.8" x2="1587.2" y2="208.8" stroke="#CC48AE" stroke-width="2.2"/>
<text x="1585.0" y="218.3" font-size="28" fill="#CC48AE" text-anchor="start" >1.4 V</text>
<line x1="1549.9" y1="257.8" x2="1587.2" y2="257.8" stroke="#7B4FC4" stroke-width="2.2"/>
<text x="1585.0" y="267.3" font-size="28" fill="#7B4FC4" text-anchor="start" >1.2 V</text>
<line x1="1549.9" y1="311.7" x2="1587.2" y2="311.7" stroke="#F0504F" stroke-width="2.2"/>
<text x="1585.0" y="321.2" font-size="28" fill="#F0504F" text-anchor="start" >1.0 V</text>
<rect x="1232.4" y="35.1" width="425.9" height="314.5" fill="none" stroke="#111" stroke-width="1.8"/>
<line x1="1232.4" y1="349.6" x2="1232.4" y2="356.1" stroke="#111" stroke-width="1.6"/>
<line x1="1317.6" y1="349.6" x2="1317.6" y2="356.1" stroke="#111" stroke-width="1.6"/>
<line x1="1402.8" y1="349.6" x2="1402.8" y2="356.1" stroke="#111" stroke-width="1.6"/>
<line x1="1487.9" y1="349.6" x2="1487.9" y2="356.1" stroke="#111" stroke-width="1.6"/>
<line x1="1573.1" y1="349.6" x2="1573.1" y2="356.1" stroke="#111" stroke-width="1.6"/>
<line x1="1658.3" y1="349.6" x2="1658.3" y2="356.1" stroke="#111" stroke-width="1.6"/>
<line x1="1275.0" y1="349.6" x2="1275.0" y2="353.1" stroke="#111" stroke-width="1.6"/>
<line x1="1360.2" y1="349.6" x2="1360.2" y2="353.1" stroke="#111" stroke-width="1.6"/>
<line x1="1445.3" y1="349.6" x2="1445.3" y2="353.1" stroke="#111" stroke-width="1.6"/>
<line x1="1530.5" y1="349.6" x2="1530.5" y2="353.1" stroke="#111" stroke-width="1.6"/>
<line x1="1615.7" y1="349.6" x2="1615.7" y2="353.1" stroke="#111" stroke-width="1.6"/>
<text x="1232.4" y="380.0" font-size="28" fill="#000" text-anchor="middle" >0</text>
<text x="1317.6" y="380.0" font-size="28" fill="#000" text-anchor="middle" >1</text>
<text x="1402.8" y="380.0" font-size="28" fill="#000" text-anchor="middle" >2</text>
<text x="1487.9" y="380.0" font-size="28" fill="#000" text-anchor="middle" >3</text>
<text x="1573.1" y="380.0" font-size="28" fill="#000" text-anchor="middle" >4</text>
<text x="1658.3" y="380.0" font-size="28" fill="#000" text-anchor="middle" >5</text>
<text x="1445.3" y="408.0" font-size="27.5" fill="#000" text-anchor="middle" >Radial distance (Å)</text>
<text x="0" y="0" font-size="27.5" fill="#000" text-anchor="middle" transform="translate(1220.0,201.0) rotate(-90)">FT|x(R)| (Å<tspan font-size="0.62em" dy="-11">-3</tspan><tspan dy="11">)</tspan></text>
<text x="1243.4" y="70.3" font-size="27.5" fill="#FF8470" text-anchor="start" >KMnPO<tspan font-size="0.72em">4</tspan></text>
<text x="1147.0" y="41.5" font-size="48" fill="#000" text-anchor="start" >e</text>
<path d="M1232.0,751.0 L1233.4,751.1 L1235.3,751.2 L1237.5,751.3 L1240.0,751.5 L1242.6,751.6 L1245.2,751.7 L1247.7,751.7 L1250.0,751.7 L1252.1,751.6 L1254.2,751.3 L1256.2,751.1 L1258.2,750.7 L1260.2,750.4 L1262.1,750.1 L1264.1,749.9 L1266.0,749.7 L1267.9,749.7 L1269.7,749.8 L1271.4,750.0 L1273.1,750.2 L1274.9,750.4 L1276.7,750.4 L1278.6,750.2 L1280.6,749.7 L1282.8,748.8 L1285.0,747.7 L1287.4,746.3 L1289.8,744.7 L1292.2,743.1 L1294.6,741.6 L1297.0,740.2 L1299.2,739.0 L1301.3,738.1 L1303.3,737.3 L1305.3,736.6 L1307.2,736.0 L1309.1,735.4 L1311.1,734.8 L1313.1,734.0 L1315.2,733.0 L1317.4,731.8 L1319.8,730.3 L1322.3,728.7 L1324.7,727.1 L1327.2,725.5 L1329.5,724.0 L1331.8,722.7 L1333.9,721.7 L1335.8,721.1 L1337.7,720.8 L1339.4,720.8 L1341.1,720.9 L1342.6,720.9 L1344.2,720.8 L1345.7,720.5 L1347.2,719.7 L1348.6,718.6 L1349.8,717.3 L1351.0,715.8 L1352.2,714.1 L1353.4,712.3 L1354.6,710.2 L1356.1,708.0 L1357.8,705.7 L1359.8,702.9 L1362.1,699.4 L1364.6,695.6 L1367.1,691.7 L1369.7,688.1 L1372.2,684.9 L1374.5,682.5 L1376.5,681.1 L1378.1,680.6 L1379.4,680.5 L1380.5,681.1 L1381.6,682.2 L1382.6,683.9 L1383.8,686.4 L1385.3,689.7 L1387.1,693.8 L1389.4,699.5 L1392.1,707.2 L1395.1,716.0 L1398.2,725.4 L1401.4,734.5 L1404.5,742.8 L1407.3,749.4 L1409.8,753.7 L1412.0,755.4 L1413.9,755.0 L1415.7,753.1 L1417.3,750.3 L1418.9,747.0 L1420.5,743.9 L1422.1,741.5 L1423.8,740.4 L1425.6,740.5 L1427.5,741.3 L1429.5,742.6 L1431.4,744.1 L1433.3,745.7 L1435.1,747.1 L1436.8,748.0 L1438.4,748.4 L1439.8,748.2 L1441.0,747.6 L1442.1,746.7 L1443.2,745.5 L1444.2,744.3 L1445.3,742.9 L1446.6,741.4 L1448.0,740.0 L1449.6,738.4 L1451.4,736.4 L1453.3,734.1 L1455.2,731.9 L1457.2,729.8 L1459.2,728.1 L1461.3,726.9 L1463.3,726.4 L1465.3,726.7 L1467.3,727.7 L1469.3,729.1 L1471.4,730.9 L1473.4,733.0 L1475.6,735.1 L1477.7,737.1 L1480.0,739.0 L1482.4,740.8 L1484.9,742.9 L1487.5,745.0 L1490.1,747.1 L1492.7,749.1 L1495.2,751.0 L1497.6,752.5 L1499.9,753.7 L1502.0,754.5 L1504.0,754.8 L1505.9,754.9 L1507.7,754.9 L1509.4,754.7 L1511.1,754.5 L1512.9,754.4 L1514.6,754.4 L1516.3,754.7 L1517.8,755.1 L1519.3,755.6 L1520.8,756.1 L1522.3,756.5 L1524.0,756.7 L1525.8,756.6 L1527.9,756.1 L1530.3,755.0 L1532.9,753.2 L1535.7,751.1 L1538.6,748.8 L1541.5,746.5 L1544.4,744.7 L1547.3,743.4 L1549.9,743.0 L1552.4,743.7 L1554.8,745.5 L1557.1,747.9 L1559.4,750.6 L1561.6,753.3 L1563.9,755.6 L1566.2,757.0 L1568.5,757.4 L1570.9,756.3 L1573.2,753.9 L1575.6,750.8 L1577.9,747.2 L1580.3,743.7 L1582.8,740.6 L1585.3,738.5 L1587.8,737.7 L1590.5,738.5 L1593.3,740.6 L1596.2,743.5 L1599.1,747.0 L1602.0,750.5 L1604.8,753.7 L1607.4,756.3 L1609.8,757.7 L1611.9,758.0 L1613.8,757.4 L1615.5,756.2 L1617.2,754.7 L1618.8,753.1 L1620.3,751.6 L1622.0,750.5 L1623.8,750.0 L1625.7,750.2 L1627.6,750.9 L1629.5,751.9 L1631.5,753.0 L1633.5,754.2 L1635.6,755.2 L1637.7,756.0 L1639.8,756.4 L1642.1,756.3 L1644.7,755.9 L1647.4,755.2 L1650.0,754.5 L1652.6,753.6 L1654.9,752.8 L1656.9,752.1 L1658.3,751.7" fill="none" stroke="#F0504F" stroke-width="2.2" stroke-linejoin="round" stroke-linecap="round" />
<path d="M1232.0,703.7 L1233.3,703.4 L1235.0,703.0 L1237.1,702.4 L1239.3,701.9 L1241.7,701.3 L1244.1,700.9 L1246.5,700.5 L1248.6,700.4 L1250.6,700.5 L1252.5,700.9 L1254.4,701.4 L1256.2,702.0 L1258.1,702.5 L1260.0,702.9 L1262.0,703.2 L1264.0,703.1 L1266.1,702.6 L1268.4,701.8 L1270.7,700.8 L1273.0,699.7 L1275.4,698.6 L1277.6,697.6 L1279.8,696.8 L1281.9,696.4 L1283.8,696.5 L1285.5,697.2 L1287.1,698.1 L1288.6,699.2 L1290.2,700.1 L1291.9,700.7 L1293.8,700.8 L1295.9,700.1 L1298.3,698.5 L1301.0,696.0 L1303.9,693.0 L1306.9,689.6 L1309.8,686.2 L1312.7,683.0 L1315.4,680.3 L1317.9,678.4 L1320.0,677.3 L1321.8,676.7 L1323.4,676.6 L1325.0,676.8 L1326.6,677.0 L1328.3,677.1 L1330.2,677.0 L1332.5,676.4 L1335.2,675.4 L1338.4,674.3 L1341.7,673.0 L1345.2,671.6 L1348.7,670.0 L1352.1,668.3 L1355.1,666.4 L1357.8,664.5 L1360.1,662.3 L1362.1,659.8 L1363.9,657.0 L1365.5,654.2 L1367.0,651.4 L1368.5,648.7 L1369.8,646.4 L1371.2,644.5 L1372.5,642.9 L1373.7,641.5 L1374.7,640.2 L1375.7,639.2 L1376.7,638.4 L1377.7,637.9 L1378.7,637.8 L1379.8,638.1 L1380.9,638.7 L1382.0,639.5 L1383.1,640.6 L1384.3,642.1 L1385.5,643.9 L1386.8,646.2 L1388.2,649.1 L1389.8,652.5 L1391.6,657.0 L1393.7,662.9 L1396.0,669.6 L1398.3,676.6 L1400.7,683.4 L1403.0,689.5 L1405.1,694.5 L1407.1,697.8 L1408.8,699.2 L1410.4,699.0 L1411.9,697.8 L1413.3,695.8 L1414.7,693.6 L1416.1,691.6 L1417.5,690.1 L1419.1,689.8 L1420.8,690.6 L1422.6,692.2 L1424.5,694.3 L1426.5,696.6 L1428.4,699.0 L1430.2,701.0 L1431.9,702.5 L1433.5,703.1 L1434.9,702.9 L1436.1,702.1 L1437.2,700.8 L1438.2,699.1 L1439.2,697.3 L1440.4,695.4 L1441.6,693.6 L1443.0,692.0 L1444.6,690.4 L1446.4,688.6 L1448.2,686.7 L1450.1,684.8 L1452.1,683.1 L1454.1,681.6 L1456.1,680.5 L1458.0,679.8 L1459.8,679.6 L1461.6,679.7 L1463.4,680.1 L1465.2,680.8 L1467.0,681.7 L1469.0,682.9 L1471.0,684.3 L1473.3,685.8 L1475.8,687.7 L1478.7,690.2 L1481.6,693.0 L1484.7,696.0 L1487.8,698.9 L1490.7,701.6 L1493.5,703.8 L1495.9,705.5 L1498.0,706.6 L1499.7,707.3 L1501.2,707.7 L1502.6,707.8 L1504.0,707.7 L1505.5,707.4 L1507.2,707.0 L1509.2,706.4 L1511.5,705.5 L1514.1,704.0 L1516.8,702.3 L1519.7,700.4 L1522.6,698.7 L1525.4,697.2 L1528.1,696.2 L1530.6,695.8 L1532.9,696.4 L1535.0,697.8 L1537.0,699.7 L1538.9,701.9 L1540.9,704.0 L1542.9,705.8 L1545.0,706.9 L1547.2,707.1 L1549.6,706.0 L1552.0,703.8 L1554.6,701.0 L1557.2,697.8 L1559.8,694.6 L1562.5,691.9 L1565.1,689.9 L1567.8,689.1 L1570.5,689.7 L1573.3,691.4 L1576.2,693.9 L1579.0,696.8 L1581.9,699.8 L1584.6,702.5 L1587.3,704.6 L1589.8,705.7 L1592.1,705.7 L1594.3,704.9 L1596.3,703.5 L1598.3,701.8 L1600.2,700.0 L1602.2,698.5 L1604.3,697.4 L1606.5,697.1 L1608.8,697.6 L1611.3,698.9 L1613.8,700.6 L1616.3,702.5 L1618.8,704.4 L1621.4,706.0 L1623.9,707.2 L1626.4,707.7 L1628.9,707.3 L1631.4,706.3 L1634.0,704.9 L1636.6,703.1 L1639.1,701.4 L1641.4,699.7 L1643.7,698.4 L1645.8,697.7 L1647.8,697.5 L1649.7,697.7 L1651.5,698.1 L1653.3,698.8 L1654.8,699.5 L1656.2,700.2 L1657.4,700.7 L1658.3,701.1" fill="none" stroke="#7B4FC4" stroke-width="2.2" stroke-linejoin="round" stroke-linecap="round" />
<path d="M1232.0,657.8 L1233.2,657.0 L1234.9,655.7 L1236.8,654.2 L1239.0,652.6 L1241.3,651.1 L1243.6,649.8 L1245.9,648.9 L1248.0,648.5 L1250.0,648.8 L1252.0,649.8 L1254.0,651.1 L1256.0,652.7 L1258.0,654.2 L1260.0,655.5 L1262.0,656.3 L1264.0,656.5 L1266.0,655.8 L1268.0,654.4 L1270.0,652.5 L1272.0,650.4 L1274.0,648.3 L1276.0,646.4 L1278.0,645.1 L1279.9,644.5 L1281.8,644.9 L1283.6,646.2 L1285.4,648.0 L1287.1,650.0 L1288.9,652.0 L1290.7,653.6 L1292.6,654.6 L1294.6,654.5 L1296.7,653.2 L1299.0,650.8 L1301.4,647.8 L1303.8,644.3 L1306.1,640.9 L1308.4,637.7 L1310.6,635.3 L1312.6,633.8 L1314.3,633.6 L1315.8,634.6 L1317.2,636.2 L1318.5,638.2 L1319.8,640.1 L1321.2,641.5 L1322.8,642.0 L1324.6,641.2 L1326.7,638.7 L1329.1,634.6 L1331.6,629.5 L1334.3,624.0 L1336.9,618.7 L1339.6,614.0 L1342.1,610.7 L1344.5,609.2 L1346.8,610.1 L1349.0,613.2 L1351.2,617.6 L1353.3,622.7 L1355.4,627.7 L1357.4,632.0 L1359.3,634.7 L1361.2,635.2 L1363.0,633.2 L1364.7,629.2 L1366.4,623.8 L1368.0,617.6 L1369.5,611.0 L1371.0,604.8 L1372.4,599.3 L1373.8,595.2 L1375.1,592.1 L1376.2,589.4 L1377.2,587.1 L1378.2,585.2 L1379.2,583.9 L1380.2,583.1 L1381.3,582.9 L1382.5,583.5 L1383.8,584.9 L1385.1,587.1 L1386.5,590.0 L1387.9,593.4 L1389.3,597.2 L1390.8,601.4 L1392.3,605.6 L1393.8,609.9 L1395.4,614.7 L1397.0,620.4 L1398.7,626.5 L1400.4,632.8 L1402.2,638.7 L1403.9,644.0 L1405.5,648.3 L1407.1,651.1 L1408.6,652.2 L1410.0,651.8 L1411.5,650.4 L1412.8,648.4 L1414.2,646.0 L1415.6,643.8 L1417.0,642.0 L1418.4,641.2 L1419.8,641.3 L1421.3,641.9 L1422.7,642.9 L1424.2,644.1 L1425.7,645.4 L1427.2,646.4 L1428.8,647.0 L1430.4,647.1 L1432.1,646.5 L1433.9,645.4 L1435.8,643.8 L1437.7,642.1 L1439.7,640.4 L1441.6,638.9 L1443.5,637.8 L1445.3,637.2 L1447.1,637.3 L1448.8,637.9 L1450.5,639.0 L1452.2,640.2 L1453.9,641.4 L1455.6,642.4 L1457.4,643.1 L1459.3,643.2 L1461.3,642.6 L1463.3,641.3 L1465.3,639.7 L1467.4,637.8 L1469.6,636.1 L1471.7,634.6 L1473.9,633.7 L1476.0,633.6 L1478.1,634.3 L1480.3,635.8 L1482.5,637.7 L1484.7,640.0 L1486.9,642.4 L1489.1,644.7 L1491.2,646.8 L1493.3,648.5 L1495.3,649.8 L1497.3,651.1 L1499.2,652.3 L1501.1,653.3 L1503.0,654.2 L1504.8,654.9 L1506.7,655.4 L1508.6,655.8 L1510.5,655.8 L1512.5,655.5 L1514.4,655.0 L1516.4,654.3 L1518.3,653.6 L1520.2,653.0 L1522.1,652.6 L1523.9,652.5 L1525.6,652.9 L1527.2,653.7 L1528.8,654.7 L1530.3,655.8 L1531.9,656.8 L1533.5,657.6 L1535.3,658.0 L1537.2,657.8 L1539.3,656.9 L1541.7,655.4 L1544.1,653.4 L1546.6,651.2 L1549.2,649.0 L1551.7,647.1 L1554.2,645.6 L1556.5,644.7 L1558.7,644.6 L1561.0,645.0 L1563.2,645.8 L1565.3,646.9 L1567.4,648.0 L1569.4,649.1 L1571.4,650.0 L1573.2,650.5 L1574.9,650.6 L1576.5,650.5 L1577.9,650.2 L1579.3,649.8 L1580.7,649.4 L1582.1,649.1 L1583.6,648.9 L1585.2,648.9 L1586.9,649.2 L1588.7,649.6 L1590.5,650.3 L1592.4,650.9 L1594.3,651.6 L1596.1,652.1 L1598.0,652.5 L1599.8,652.7 L1601.6,652.5 L1603.3,652.0 L1605.0,651.4 L1606.8,650.6 L1608.5,649.9 L1610.2,649.3 L1612.0,649.0 L1613.8,649.1 L1615.6,649.7 L1617.5,650.8 L1619.4,652.1 L1621.3,653.6 L1623.2,655.1 L1625.1,656.3 L1627.1,657.2 L1629.1,657.5 L1631.1,657.2 L1633.3,656.3 L1635.4,655.1 L1637.6,653.6 L1639.8,652.1 L1641.9,650.8 L1643.9,649.7 L1645.8,649.1 L1647.6,649.0 L1649.5,649.2 L1651.3,649.7 L1653.1,650.3 L1654.7,651.0 L1656.2,651.6 L1657.4,652.2 L1658.3,652.5" fill="none" stroke="#CC48AE" stroke-width="2.2" stroke-linejoin="round" stroke-linecap="round" />
<path d="M1232.0,604.5 L1233.3,604.1 L1235.0,603.6 L1237.1,602.9 L1239.4,602.2 L1241.8,601.5 L1244.2,600.9 L1246.5,600.5 L1248.6,600.3 L1250.5,600.4 L1252.4,600.8 L1254.2,601.4 L1256.0,602.0 L1257.8,602.7 L1259.6,603.2 L1261.4,603.6 L1263.3,603.6 L1265.3,603.3 L1267.3,602.7 L1269.4,601.9 L1271.5,600.9 L1273.6,600.0 L1275.6,599.2 L1277.5,598.5 L1279.3,598.1 L1280.9,598.1 L1282.2,598.4 L1283.4,599.0 L1284.6,599.6 L1285.8,600.2 L1287.1,600.5 L1288.7,600.5 L1290.6,599.9 L1292.9,598.7 L1295.6,596.8 L1298.4,594.5 L1301.5,592.0 L1304.5,589.6 L1307.5,587.3 L1310.2,585.5 L1312.6,584.3 L1314.7,583.9 L1316.4,584.0 L1318.0,584.6 L1319.5,585.4 L1321.0,586.3 L1322.5,587.0 L1324.1,587.4 L1325.9,587.2 L1327.9,586.4 L1330.1,585.1 L1332.3,583.6 L1334.6,581.8 L1336.9,580.1 L1339.1,578.5 L1341.2,577.3 L1343.2,576.6 L1345.0,576.5 L1346.8,577.0 L1348.5,577.9 L1350.1,578.9 L1351.6,579.9 L1353.1,580.7 L1354.5,581.2 L1355.9,581.0 L1357.1,580.3 L1358.2,579.4 L1359.1,578.1 L1360.0,576.6 L1360.9,574.9 L1361.9,573.0 L1363.1,570.9 L1364.5,568.6 L1366.2,565.9 L1368.1,562.5 L1370.3,558.7 L1372.5,554.9 L1374.7,551.2 L1376.8,547.9 L1378.8,545.4 L1380.5,543.9 L1381.9,543.3 L1383.1,543.2 L1384.1,543.8 L1385.1,544.8 L1386.0,546.4 L1387.1,548.4 L1388.3,550.9 L1389.8,553.9 L1391.6,557.8 L1393.7,562.9 L1396.0,568.8 L1398.4,574.9 L1400.7,581.1 L1403.1,586.6 L1405.2,591.3 L1407.1,594.5 L1408.7,596.2 L1410.1,596.7 L1411.3,596.2 L1412.5,595.3 L1413.6,594.1 L1414.9,593.0 L1416.2,592.4 L1417.8,592.5 L1419.6,593.5 L1421.7,595.1 L1423.9,597.0 L1426.1,599.1 L1428.4,601.2 L1430.5,602.9 L1432.6,604.2 L1434.4,604.8 L1436.0,604.7 L1437.3,604.0 L1438.5,602.9 L1439.7,601.4 L1440.8,599.8 L1442.0,598.2 L1443.4,596.5 L1445.0,595.0 L1446.8,593.4 L1448.8,591.5 L1450.9,589.4 L1453.0,587.3 L1455.3,585.4 L1457.5,583.9 L1459.8,582.9 L1462.0,582.6 L1464.2,583.1 L1466.5,584.4 L1468.8,586.1 L1471.1,588.3 L1473.4,590.6 L1475.6,592.8 L1477.8,594.9 L1480.0,596.5 L1482.0,597.9 L1483.9,599.2 L1485.8,600.5 L1487.6,601.7 L1489.5,602.7 L1491.5,603.5 L1493.6,604.1 L1495.9,604.5 L1498.5,604.4 L1501.4,603.9 L1504.4,603.1 L1507.5,602.2 L1510.7,601.3 L1513.7,600.5 L1516.6,600.0 L1519.2,599.9 L1521.5,600.4 L1523.7,601.5 L1525.6,602.9 L1527.5,604.4 L1529.4,605.8 L1531.2,607.0 L1533.2,607.8 L1535.2,607.9 L1537.4,607.2 L1539.6,605.8 L1541.9,603.8 L1544.2,601.7 L1546.5,599.6 L1548.8,597.7 L1551.0,596.4 L1553.2,595.9 L1555.3,596.4 L1557.3,597.7 L1559.2,599.6 L1561.2,601.8 L1563.1,603.9 L1565.1,605.7 L1567.1,606.9 L1569.2,607.2 L1571.4,606.3 L1573.6,604.4 L1575.9,601.9 L1578.2,599.0 L1580.6,596.2 L1582.9,593.7 L1585.4,591.9 L1587.8,591.2 L1590.3,591.7 L1592.9,593.3 L1595.6,595.5 L1598.3,598.2 L1600.9,600.8 L1603.6,603.2 L1606.1,605.0 L1608.5,605.9 L1610.7,605.7 L1612.8,604.7 L1614.8,603.1 L1616.7,601.2 L1618.6,599.3 L1620.6,597.6 L1622.8,596.4 L1625.1,595.9 L1627.7,596.2 L1630.6,597.1 L1633.7,598.4 L1636.8,599.9 L1639.9,601.5 L1642.8,603.1 L1645.5,604.4 L1647.8,605.2 L1649.8,605.6 L1651.5,605.9 L1653.1,605.9 L1654.5,605.8 L1655.7,605.6 L1656.7,605.4 L1657.6,605.3 L1658.3,605.2" fill="none" stroke="#F8588A" stroke-width="2.2" stroke-linejoin="round" stroke-linecap="round" />
<path d="M1232.0,552.9 L1233.3,552.8 L1235.0,552.5 L1237.0,552.3 L1239.2,552.0 L1241.5,551.8 L1243.9,551.5 L1246.1,551.4 L1248.0,551.3 L1249.7,551.4 L1251.3,551.5 L1252.8,551.8 L1254.3,552.0 L1255.8,552.3 L1257.3,552.5 L1258.9,552.6 L1260.6,552.6 L1262.5,552.4 L1264.5,552.1 L1266.6,551.7 L1268.7,551.2 L1270.8,550.7 L1272.9,550.3 L1274.8,549.9 L1276.6,549.7 L1278.1,549.7 L1279.5,549.8 L1280.7,550.0 L1281.8,550.3 L1282.9,550.5 L1284.2,550.5 L1285.6,550.4 L1287.3,549.9 L1289.3,549.0 L1291.5,547.8 L1293.9,546.3 L1296.4,544.7 L1298.9,543.1 L1301.3,541.5 L1303.7,540.2 L1305.9,539.3 L1307.9,538.8 L1309.8,538.6 L1311.5,538.7 L1313.2,538.9 L1315.0,539.0 L1316.7,539.1 L1318.6,538.8 L1320.6,538.2 L1322.8,537.0 L1325.1,535.3 L1327.5,533.3 L1329.9,531.2 L1332.3,529.2 L1334.7,527.5 L1337.0,526.2 L1339.2,525.7 L1341.3,526.1 L1343.3,527.3 L1345.2,529.1 L1347.1,531.2 L1349.0,533.2 L1350.7,535.0 L1352.3,536.1 L1353.9,536.3 L1355.3,535.6 L1356.6,534.3 L1357.8,532.5 L1359.0,530.4 L1360.0,528.0 L1361.1,525.4 L1362.1,522.9 L1363.2,520.6 L1364.3,518.2 L1365.3,515.6 L1366.3,512.8 L1367.3,510.0 L1368.3,507.3 L1369.2,504.8 L1370.2,502.5 L1371.2,500.7 L1372.2,499.2 L1373.1,497.9 L1374.1,496.8 L1375.0,496.0 L1376.0,495.4 L1377.0,495.0 L1378.1,494.9 L1379.2,495.1 L1380.4,495.6 L1381.6,496.3 L1382.9,497.2 L1384.2,498.5 L1385.5,499.9 L1386.9,501.7 L1388.3,503.7 L1389.8,506.0 L1391.3,508.8 L1392.9,512.1 L1394.5,515.8 L1396.2,519.7 L1397.8,523.7 L1399.6,527.5 L1401.3,530.9 L1403.1,533.9 L1404.9,536.5 L1406.7,539.0 L1408.6,541.3 L1410.5,543.4 L1412.4,545.3 L1414.4,546.8 L1416.4,547.9 L1418.4,548.6 L1420.5,548.6 L1422.7,548.0 L1424.9,546.9 L1427.2,545.5 L1429.4,544.0 L1431.6,542.7 L1433.8,541.7 L1435.8,541.3 L1437.7,541.6 L1439.4,542.4 L1441.1,543.7 L1442.7,545.0 L1444.3,546.3 L1446.1,547.3 L1447.9,547.7 L1450.0,547.5 L1452.2,546.2 L1454.6,544.0 L1457.0,541.2 L1459.6,538.1 L1462.2,535.2 L1465.0,532.7 L1467.8,531.1 L1470.6,530.6 L1473.6,531.5 L1476.9,533.6 L1480.4,536.6 L1483.9,540.0 L1487.3,543.5 L1490.5,546.8 L1493.4,549.6 L1495.9,551.5 L1497.9,552.5 L1499.5,553.0 L1500.9,553.0 L1502.0,552.8 L1503.0,552.4 L1504.1,552.1 L1505.2,551.8 L1506.6,551.9 L1508.1,552.2 L1509.7,552.7 L1511.4,553.3 L1513.1,553.8 L1514.8,554.4 L1516.5,554.9 L1518.2,555.3 L1519.9,555.5 L1521.5,555.6 L1523.1,555.5 L1524.7,555.3 L1526.2,555.1 L1527.8,554.8 L1529.5,554.5 L1531.3,554.1 L1533.2,553.7 L1535.3,553.2 L1537.5,552.6 L1539.9,551.9 L1542.3,551.2 L1544.8,550.5 L1547.2,549.9 L1549.6,549.5 L1551.9,549.3 L1554.1,549.4 L1556.2,549.8 L1558.4,550.4 L1560.5,551.1 L1562.5,551.8 L1564.5,552.4 L1566.5,552.8 L1568.5,553.0 L1570.4,552.9 L1572.3,552.5 L1574.1,551.9 L1575.9,551.2 L1577.7,550.6 L1579.5,550.0 L1581.3,549.5 L1583.2,549.3 L1585.1,549.3 L1587.1,549.5 L1589.0,549.9 L1591.0,550.3 L1593.0,550.7 L1594.9,551.1 L1596.7,551.4 L1598.5,551.5 L1600.1,551.4 L1601.6,551.2 L1603.0,550.9 L1604.4,550.5 L1605.8,550.2 L1607.2,549.9 L1608.8,549.8 L1610.5,549.9 L1612.4,550.3 L1614.5,551.0 L1616.7,551.9 L1619.0,552.8 L1621.3,553.8 L1623.5,554.5 L1625.7,555.1 L1627.8,555.3 L1629.7,555.1 L1631.6,554.5 L1633.4,553.6 L1635.2,552.6 L1636.9,551.7 L1638.7,550.8 L1640.5,550.2 L1642.4,549.9 L1644.4,550.0 L1646.7,550.5 L1649.0,551.1 L1651.3,551.9 L1653.4,552.7 L1655.4,553.5 L1657.1,554.2 L1658.3,554.6" fill="none" stroke="#FF8658" stroke-width="2.2" stroke-linejoin="round" stroke-linecap="round" />
<line x1="1547.2" y1="528.0" x2="1586.5" y2="528.0" stroke="#FF8658" stroke-width="2.2"/>
<text x="1584.3" y="537.5" font-size="28" fill="#FF8658" text-anchor="start" >1.8 V</text>
<line x1="1547.2" y1="574.2" x2="1586.5" y2="574.2" stroke="#F8588A" stroke-width="2.2"/>
<text x="1584.3" y="583.7" font-size="28" fill="#F8588A" text-anchor="start" >1.6 V</text>
<line x1="1547.2" y1="627.8" x2="1586.5" y2="627.8" stroke="#CC48AE" stroke-width="2.2"/>
<text x="1584.3" y="637.3" font-size="28" fill="#CC48AE" text-anchor="start" >1.4 V</text>
<line x1="1547.2" y1="677.8" x2="1586.5" y2="677.8" stroke="#7B4FC4" stroke-width="2.2"/>
<text x="1584.3" y="687.3" font-size="28" fill="#7B4FC4" text-anchor="start" >1.2 V</text>
<line x1="1547.2" y1="727.3" x2="1586.5" y2="727.3" stroke="#F0504F" stroke-width="2.2"/>
<text x="1584.3" y="736.8" font-size="28" fill="#F0504F" text-anchor="start" >1.0 V</text>
<rect x="1232.4" y="455.7" width="425.9" height="313.8" fill="none" stroke="#111" stroke-width="1.8"/>
<line x1="1232.4" y1="769.5" x2="1232.4" y2="776.0" stroke="#111" stroke-width="1.6"/>
<line x1="1317.6" y1="769.5" x2="1317.6" y2="776.0" stroke="#111" stroke-width="1.6"/>
<line x1="1402.8" y1="769.5" x2="1402.8" y2="776.0" stroke="#111" stroke-width="1.6"/>
<line x1="1487.9" y1="769.5" x2="1487.9" y2="776.0" stroke="#111" stroke-width="1.6"/>
<line x1="1573.1" y1="769.5" x2="1573.1" y2="776.0" stroke="#111" stroke-width="1.6"/>
<line x1="1658.3" y1="769.5" x2="1658.3" y2="776.0" stroke="#111" stroke-width="1.6"/>
<line x1="1275.0" y1="769.5" x2="1275.0" y2="773.0" stroke="#111" stroke-width="1.6"/>
<line x1="1360.2" y1="769.5" x2="1360.2" y2="773.0" stroke="#111" stroke-width="1.6"/>
<line x1="1445.3" y1="769.5" x2="1445.3" y2="773.0" stroke="#111" stroke-width="1.6"/>
<line x1="1530.5" y1="769.5" x2="1530.5" y2="773.0" stroke="#111" stroke-width="1.6"/>
<line x1="1615.7" y1="769.5" x2="1615.7" y2="773.0" stroke="#111" stroke-width="1.6"/>
<text x="1232.4" y="800.5" font-size="28" fill="#000" text-anchor="middle" >0</text>
<text x="1317.6" y="800.5" font-size="28" fill="#000" text-anchor="middle" >1</text>
<text x="1402.8" y="800.5" font-size="28" fill="#000" text-anchor="middle" >2</text>
<text x="1487.9" y="800.5" font-size="28" fill="#000" text-anchor="middle" >3</text>
<text x="1573.1" y="800.5" font-size="28" fill="#000" text-anchor="middle" >4</text>
<text x="1658.3" y="800.5" font-size="28" fill="#000" text-anchor="middle" >5</text>
<text x="1440.8" y="828.5" font-size="27.5" fill="#000" text-anchor="middle" >Radial distance (Å)</text>
<text x="0" y="0" font-size="27.5" fill="#000" text-anchor="middle" transform="translate(1220.0,612.0) rotate(-90)">FT|x(R)| (Å<tspan font-size="0.62em" dy="-11">-3</tspan><tspan dy="11">)</tspan></text>
<text x="1239.9" y="486.6" font-size="27.5" fill="#2A7FC4" text-anchor="start" >KMnPO<tspan font-size="0.72em">4</tspan>·H<tspan font-size="0.72em">2</tspan>O</text>
<text x="1147.0" y="455.0" font-size="48" fill="#000" text-anchor="start" >f</text>
<line x1="88.5" y1="865" x2="536.3" y2="865" stroke="#111" stroke-width="1.9"/>
<line x1="88.5" y1="910.2" x2="536.3" y2="910.2" stroke="#111" stroke-width="1.9"/>
<line x1="88.5" y1="1259.3" x2="536.3" y2="1259.3" stroke="#111" stroke-width="1.9"/>
<text x="212.3" y="897.5" font-size="24" fill="#000" text-anchor="start" >KMnPO<tspan font-size="0.68em" baseline-shift="-3">4</tspan></text>
<text x="365.3" y="897.5" font-size="23.8" fill="#000" text-anchor="start" >KMnPO<tspan font-size="0.68em" baseline-shift="-3">4</tspan>•H<tspan font-size="0.68em" baseline-shift="-3">2</tspan>O</text>
<text x="104.8" y="954.6" font-size="23.8" fill="#000" text-anchor="start" >1.0 V</text>
<text x="213.6" y="954.6" font-size="23.8" fill="#000" text-anchor="start" >N=3.967</text>
<text x="393.2" y="954.6" font-size="23.8" fill="#000" text-anchor="start" >N=5.830</text>
<text x="104.8" y="1024.3" font-size="23.8" fill="#000" text-anchor="start" >1.2 V</text>
<text x="213.6" y="1024.3" font-size="23.8" fill="#000" text-anchor="start" >N=5.025</text>
<text x="393.2" y="1024.3" font-size="23.8" fill="#000" text-anchor="start" >N=6.071</text>
<text x="104.8" y="1094.1" font-size="23.8" fill="#000" text-anchor="start" >1.4 V</text>
<text x="213.6" y="1094.1" font-size="23.8" fill="#000" text-anchor="start" >N=5.018</text>
<text x="393.2" y="1094.1" font-size="23.8" fill="#000" text-anchor="start" >N=6.085</text>
<text x="104.8" y="1163.8" font-size="23.8" fill="#000" text-anchor="start" >1.6 V</text>
<text x="213.6" y="1163.8" font-size="23.8" fill="#000" text-anchor="start" >N=4.949</text>
<text x="393.2" y="1163.8" font-size="23.8" fill="#000" text-anchor="start" >N=5.858</text>
<text x="104.8" y="1233.6" font-size="23.8" fill="#000" text-anchor="start" >1.8 V</text>
<text x="213.6" y="1233.6" font-size="23.8" fill="#000" text-anchor="start" >N=4.715</text>
<text x="393.2" y="1233.6" font-size="23.8" fill="#000" text-anchor="start" >N=5.927</text>
<text x="1.5" y="879.5" font-size="48" fill="#000" text-anchor="start" >g</text>
<path d="M670.5,1177.2 L671.2,1177.2 L671.9,1177.2 L672.6,1177.2 L673.3,1177.2 L674.0,1177.2 L674.7,1177.2 L675.4,1177.2 L676.1,1177.2 L676.8,1177.2 L677.5,1177.2 L678.2,1177.2 L678.9,1177.2 L679.6,1177.2 L680.3,1177.2 L681.0,1177.2 L681.7,1177.2 L682.4,1177.2 L683.1,1177.2 L683.8,1177.2 L684.5,1177.2 L685.2,1177.2 L685.9,1177.2 L686.6,1177.2 L687.3,1177.2 L688.0,1177.2 L688.7,1177.2 L689.4,1177.2 L690.1,1177.2 L690.8,1177.2 L691.5,1177.2 L692.2,1177.2 L692.9,1177.2 L693.6,1177.2 L694.3,1177.2 L695.0,1177.2 L695.7,1177.2 L696.4,1177.2 L697.1,1177.2 L697.8,1177.2 L698.5,1177.2 L699.2,1177.2 L699.9,1177.2 L700.6,1177.2 L701.3,1177.2 L702.0,1177.1 L702.7,1177.1 L703.4,1177.1 L704.1,1177.1 L704.8,1177.1 L705.5,1177.1 L706.2,1177.1 L706.9,1177.1 L707.6,1177.1 L708.3,1177.1 L709.0,1177.1 L709.7,1177.1 L710.4,1177.1 L711.1,1177.1 L711.8,1177.1 L712.5,1177.1 L713.2,1177.1 L713.9,1177.1 L714.6,1177.1 L715.3,1177.1 L716.0,1177.1 L716.7,1177.1 L717.4,1177.0 L718.1,1177.0 L718.8,1177.0 L719.5,1177.0 L720.2,1177.0 L720.9,1177.0 L721.6,1177.0 L722.3,1176.9 L723.0,1176.9 L723.7,1176.9 L724.4,1176.9 L725.1,1176.8 L725.8,1176.8 L726.5,1176.8 L727.2,1176.7 L727.9,1176.7 L728.6,1176.6 L729.3,1176.6 L730.0,1176.5 L730.7,1176.4 L731.4,1176.4 L732.1,1176.3 L732.8,1176.2 L733.5,1176.1 L734.2,1176.1 L734.9,1176.0 L735.6,1176.0 L736.3,1176.0 L737.0,1176.0 L737.7,1176.1 L738.4,1176.1 L739.1,1176.2 L739.8,1176.3 L740.5,1176.3 L741.2,1176.4 L741.9,1176.5 L742.6,1176.6 L743.3,1176.6 L744.0,1176.7 L744.7,1176.7 L745.4,1176.8 L746.1,1176.8 L746.8,1176.8 L747.5,1176.9 L748.2,1176.9 L748.9,1176.9 L749.6,1176.9 L750.3,1177.0 L751.0,1177.0 L751.7,1177.0 L752.4,1177.0 L753.1,1177.0 L753.8,1177.0 L754.5,1177.0 L755.2,1177.1 L755.9,1177.1 L756.6,1177.1 L757.3,1177.1 L758.0,1177.1 L758.7,1177.1 L759.4,1177.1 L760.1,1177.1 L760.8,1177.1 L761.5,1177.1 L762.2,1177.1 L762.9,1177.1 L763.6,1177.1 L764.3,1177.1 L765.0,1177.1 L765.7,1177.1 L766.4,1177.1 L767.1,1177.1 L767.8,1177.1 L768.5,1177.1 L769.2,1177.1 L769.9,1177.1 L770.6,1177.1 L771.3,1177.1 L772.0,1177.1 L772.7,1177.2 L773.4,1177.2 L774.1,1177.2 L774.8,1177.2 L775.5,1177.2 L776.2,1177.2 L776.9,1177.2 L777.6,1177.2 L778.3,1177.2 L779.0,1177.2 L779.7,1177.2 L780.4,1177.2 L781.1,1177.2 L781.8,1177.2 L782.5,1177.2 L783.2,1177.2 L783.9,1177.2 L784.6,1177.2 L785.3,1177.2 L786.0,1177.2 L786.7,1177.2 L787.4,1177.2 L788.1,1177.2 L788.8,1177.2 L789.5,1177.2 L790.2,1177.2 L790.9,1177.2 L791.6,1177.2 L792.3,1177.2 L793.0,1177.2 L793.7,1177.2 L794.4,1177.2 L795.1,1177.2 L795.8,1177.2 L796.5,1177.2 L797.2,1177.2 L797.9,1177.2 L798.6,1177.2 L799.3,1177.2 L800.0,1177.2 L800.7,1177.2 L801.4,1177.2 L802.1,1177.2 L802.8,1177.2 L803.5,1177.2 L804.2,1177.2 L804.9,1177.2 L805.6,1177.2 L806.3,1177.2 L807.0,1177.2 L807.7,1177.2 L808.4,1177.2 L809.1,1177.2 L809.8,1177.2 L810.5,1177.2 L811.2,1177.2 L811.9,1177.2 L812.6,1177.2 L813.3,1177.2 L814.0,1177.2 L814.7,1177.2 L815.4,1177.2 L816.1,1177.2 L816.8,1177.2 L817.5,1177.2 L818.2,1177.2 L818.9,1177.2 L819.6,1177.2 L820.3,1177.2 L821.0,1177.2 L821.7,1177.2 L822.4,1177.2 L823.1,1177.2 L823.8,1177.2 L824.5,1177.2 L825.2,1177.2 L825.9,1177.2 L826.6,1177.2 L827.3,1177.2 L828.0,1177.2 L828.7,1177.2 L829.4,1177.2 L830.1,1177.2 L830.8,1177.2 L831.5,1177.2 L832.2,1177.2 L832.9,1177.2 L833.6,1177.2 L834.3,1177.2 L835.0,1177.2 L835.7,1177.2 L836.4,1177.2 L837.1,1177.2 L837.8,1177.2 L838.5,1177.2 L839.2,1177.1 L839.9,1177.1 L840.6,1177.1 L841.3,1177.1 L842.0,1177.1 L842.7,1177.1 L843.4,1177.1 L844.1,1177.1 L844.8,1177.1 L845.5,1177.1 L846.2,1177.1 L846.9,1177.1 L847.6,1177.1 L848.3,1177.1 L849.0,1177.1 L849.7,1177.1 L850.4,1177.1 L851.1,1177.1 L851.8,1177.1 L852.5,1177.1 L853.2,1177.1 L853.9,1177.1 L854.6,1177.1 L855.3,1177.1 L856.0,1177.1 L856.7,1177.0 L857.4,1177.0 L858.1,1177.0 L858.8,1177.0 L859.5,1177.0 L860.2,1177.0 L860.9,1177.0 L861.6,1176.9 L862.3,1176.9 L863.0,1176.9 L863.7,1176.9 L864.4,1176.8 L865.1,1176.8 L865.8,1176.8 L866.5,1176.7 L867.2,1176.7 L867.9,1176.6 L868.6,1176.6 L869.3,1176.5 L870.0,1176.4 L870.7,1176.4 L871.4,1176.3 L872.1,1176.2 L872.8,1176.1 L873.5,1176.1 L874.2,1176.0 L874.9,1176.0 L875.6,1176.0 L876.3,1176.0 L877.0,1176.1 L877.7,1176.1 L878.4,1176.2 L879.1,1176.3 L879.8,1176.3 L880.5,1176.4 L881.2,1176.5 L881.9,1176.6 L882.6,1176.6 L883.3,1176.7 L884.0,1176.7 L884.7,1176.8 L885.4,1176.8 L886.1,1176.8 L886.8,1176.9 L887.5,1176.9 L888.2,1176.9 L888.9,1176.9 L889.6,1177.0 L890.3,1177.0 L891.0,1177.0 L891.7,1177.0 L892.4,1177.0 L893.1,1177.0 L893.8,1177.0 L894.5,1177.1 L895.2,1177.1 L895.9,1177.1 L896.6,1177.1 L897.3,1177.1 L898.0,1177.1 L898.7,1177.1 L899.4,1177.1 L900.1,1177.1 L900.8,1177.1 L901.5,1177.1 L902.2,1177.1 L902.9,1177.1 L903.6,1177.1 L904.3,1177.1 L905.0,1177.1 L905.7,1177.1 L906.4,1177.1 L907.1,1177.1 L907.8,1177.1 L908.5,1177.1 L909.2,1177.1 L909.9,1177.1 L910.6,1177.1 L911.3,1177.1 L912.0,1177.2 L912.7,1177.2 L913.4,1177.2 L914.1,1177.2 L914.8,1177.2 L915.5,1177.2 L916.2,1177.2 L916.9,1177.2 L917.6,1177.2 L918.3,1177.2 L919.0,1177.2 L919.7,1177.2 L920.4,1177.2 L921.1,1177.2 L921.8,1177.2 L922.5,1177.2 L923.2,1177.2 L923.9,1177.2 L924.6,1177.2 L925.3,1177.2 L926.0,1177.2 L926.7,1177.2 L927.4,1177.2 L928.1,1177.2 L928.8,1177.2 L929.5,1177.2 L930.2,1177.2 L930.9,1177.2 L931.6,1177.2 L932.3,1177.2 L933.0,1177.2 L933.7,1177.2 L934.4,1177.2 L935.1,1177.2 L935.8,1177.2 L936.5,1177.2 L937.2,1177.2 L937.9,1177.2 L938.6,1177.2 L939.3,1177.2 L940.0,1177.2 L940.7,1177.2 L941.4,1177.2 L942.1,1177.2 L942.8,1177.2 L943.5,1177.2 L944.2,1177.2 L944.9,1177.2 L945.6,1177.2 L946.3,1177.2 L947.0,1177.2 L947.7,1177.2 L948.4,1177.2 L949.1,1177.2 L949.8,1177.2 L950.5,1177.2 L951.2,1177.2 L951.9,1177.2 L952.6,1177.2 L953.3,1177.2 L954.0,1177.2 L954.7,1177.2 L955.4,1177.2 L956.1,1177.2 L956.8,1177.2 L957.5,1177.2 L958.2,1177.2 L958.9,1177.2 L959.6,1177.2 L960.3,1177.2 L961.0,1177.2 L961.7,1177.2 L962.4,1177.2 L963.1,1177.2 L963.8,1177.2 L964.5,1177.2 L965.2,1177.2 L965.9,1177.2 L966.6,1177.2 L967.3,1177.2 L968.0,1177.2 L968.7,1177.2 L969.4,1177.2 L970.1,1177.2 L970.8,1177.2 L971.5,1177.2 L972.2,1177.2 L972.9,1177.2 L973.6,1177.2 L974.3,1177.2 L975.0,1177.2 L975.7,1177.2 L976.4,1177.2 L977.1,1177.2 L977.8,1177.2 L978.5,1177.2 L979.2,1177.2 L979.9,1177.2 L980.6,1177.1 L981.3,1177.1 L982.0,1177.1 L982.7,1177.1 L983.4,1177.1 L984.1,1177.1 L984.8,1177.1 L985.5,1177.1 L986.2,1177.1 L986.9,1177.1 L987.6,1177.1 L988.3,1177.1 L989.0,1177.1 L989.7,1177.1 L990.4,1177.1 L991.1,1177.1 L991.8,1177.1 L992.5,1177.1 L993.2,1177.1 L993.9,1177.1 L994.6,1177.1 L995.3,1177.1 L996.0,1177.1 L996.7,1177.1 L997.4,1177.1 L998.1,1177.0 L998.8,1177.0 L999.5,1177.0 L1000.2,1177.0 L1000.9,1177.0 L1001.6,1177.0 L1002.3,1177.0 L1003.0,1176.9 L1003.7,1176.9 L1004.4,1176.9 L1005.1,1176.9 L1005.8,1176.8 L1006.5,1176.8 L1007.2,1176.8 L1007.9,1176.7 L1008.6,1176.7 L1009.3,1176.6 L1010.0,1176.6 L1010.7,1176.5 L1011.4,1176.4 L1012.1,1176.3 L1012.8,1176.3 L1013.5,1176.2 L1014.2,1176.1 L1014.9,1176.1 L1015.6,1176.0 L1016.3,1176.0 L1017.0,1176.0 L1017.7,1176.0 L1018.4,1176.1 L1019.1,1176.1 L1019.8,1176.2 L1020.5,1176.3 L1021.2,1176.4 L1021.9,1176.4 L1022.6,1176.5 L1023.3,1176.6 L1024.0,1176.6 L1024.7,1176.7 L1025.4,1176.7 L1026.1,1176.8 L1026.8,1176.8 L1027.5,1176.9 L1028.2,1176.9 L1028.9,1176.9 L1029.6,1176.9 L1030.3,1177.0 L1031.0,1177.0 L1031.7,1177.0 L1032.4,1177.0 L1033.1,1177.0 L1033.8,1177.0 L1034.5,1177.0 L1035.2,1177.0 L1035.9,1177.1 L1036.6,1177.1 L1037.3,1177.1 L1038.0,1177.1 L1038.7,1177.1 L1039.4,1177.1 L1040.1,1177.1 L1040.8,1177.1 L1041.5,1177.1 L1042.2,1177.1 L1042.9,1177.1 L1043.6,1177.1 L1044.3,1177.1 L1045.0,1177.1 L1045.7,1177.1 L1046.4,1177.1 L1047.1,1177.1 L1047.8,1177.1 L1048.5,1177.1 L1049.2,1177.1 L1049.9,1177.1 L1050.6,1177.1 L1051.3,1177.2 L1052.0,1177.2 L1052.7,1177.2 L1053.4,1177.2 L1054.1,1177.2 L1054.8,1177.2 L1055.5,1177.2 L1056.2,1177.2 L1056.9,1177.2 L1057.6,1177.2 L1058.3,1177.2 L1059.0,1177.2 L1059.7,1177.2 L1060.4,1177.2 L1061.1,1177.2 L1061.8,1177.2 L1062.5,1177.2 L1063.2,1177.2 L1063.9,1177.2 L1064.6,1177.2 L1065.3,1177.2 L1066.0,1177.2 L1066.7,1177.2 L1067.4,1177.2 L1068.1,1177.2 L1068.8,1177.2 L1069.5,1177.2 L1070.2,1177.2 L1070.9,1177.2 L1071.6,1177.2 L1072.3,1177.2 L1073.0,1177.2 L1073.7,1177.2 L1074.4,1177.2 L1075.1,1177.2 L1075.8,1177.2 L1076.5,1177.2 L1077.2,1177.2 L1077.9,1177.2 L1078.6,1177.2 L1079.3,1177.2 L1080.0,1177.2 L1080.7,1177.2 L1081.4,1177.2 L1082.1,1177.2 L1082.8,1177.2 L1083.5,1177.2 L1084.2,1177.2 L1084.9,1177.2 L1085.6,1177.2 L1086.3,1177.2 L1087.0,1177.2 L1087.7,1177.2 L1088.4,1177.2 L1089.1,1177.2 L1089.8,1177.2 L1090.5,1177.2 L1091.2,1177.2 L1091.9,1177.2 L1092.6,1177.2 L1093.3,1177.2 L1094.0,1177.2 L1094.7,1177.2" fill="none" stroke="#7C8ED0" stroke-width="2"/>
<path d="M670.5,1179.8 L671.2,1179.8 L671.9,1179.8 L672.6,1179.8 L673.3,1179.8 L674.0,1179.8 L674.7,1179.8 L675.4,1179.8 L676.1,1179.8 L676.8,1179.8 L677.5,1179.8 L678.2,1179.8 L678.9,1179.8 L679.6,1179.8 L680.3,1179.8 L681.0,1179.8 L681.7,1179.8 L682.4,1179.8 L683.1,1179.8 L683.8,1179.8 L684.5,1179.8 L685.2,1179.8 L685.9,1179.8 L686.6,1179.8 L687.3,1179.8 L688.0,1179.8 L688.7,1179.8 L689.4,1179.8 L690.1,1179.8 L690.8,1179.8 L691.5,1179.8 L692.2,1179.8 L692.9,1179.8 L693.6,1179.8 L694.3,1179.8 L695.0,1179.8 L695.7,1179.8 L696.4,1179.8 L697.1,1179.8 L697.8,1179.8 L698.5,1179.8 L699.2,1179.8 L699.9,1179.8 L700.6,1179.8 L701.3,1179.8 L702.0,1179.8 L702.7,1179.8 L703.4,1179.8 L704.1,1179.8 L704.8,1179.8 L705.5,1179.8 L706.2,1179.8 L706.9,1179.8 L707.6,1179.8 L708.3,1179.8 L709.0,1179.8 L709.7,1179.8 L710.4,1179.8 L711.1,1179.8 L711.8,1179.8 L712.5,1179.8 L713.2,1179.8 L713.9,1179.8 L714.6,1179.8 L715.3,1179.8 L716.0,1179.8 L716.7,1179.8 L717.4,1179.8 L718.1,1179.8 L718.8,1179.8 L719.5,1179.8 L720.2,1179.8 L720.9,1179.8 L721.6,1179.8 L722.3,1179.8 L723.0,1179.8 L723.7,1179.8 L724.4,1179.8 L725.1,1179.8 L725.8,1179.8 L726.5,1179.8 L727.2,1179.8 L727.9,1179.8 L728.6,1179.8 L729.3,1179.8 L730.0,1179.8 L730.7,1179.8 L731.4,1179.8 L732.1,1179.8 L732.8,1179.8 L733.5,1179.8 L734.2,1179.8 L734.9,1179.8 L735.6,1179.8 L736.3,1179.8 L737.0,1179.8 L737.7,1179.8 L738.4,1179.8 L739.1,1179.8 L739.8,1179.8 L740.5,1179.8 L741.2,1179.8 L741.9,1179.8 L742.6,1179.8 L743.3,1179.8 L744.0,1179.8 L744.7,1179.8 L745.4,1179.8 L746.1,1179.8 L746.8,1179.8 L747.5,1179.8 L748.2,1179.8 L748.9,1179.8 L749.6,1179.8 L750.3,1179.8 L751.0,1179.8 L751.7,1179.8 L752.4,1179.8 L753.1,1179.8 L753.8,1179.8 L754.5,1179.8 L755.2,1179.8 L755.9,1179.8 L756.6,1179.8 L757.3,1179.8 L758.0,1179.8 L758.7,1179.8 L759.4,1179.8 L760.1,1179.8 L760.8,1179.8 L761.5,1179.8 L762.2,1179.8 L762.9,1179.8 L763.6,1179.8 L764.3,1179.8 L765.0,1179.8 L765.7,1179.8 L766.4,1179.8 L767.1,1179.8 L767.8,1179.8 L768.5,1179.8 L769.2,1179.8 L769.9,1179.8 L770.6,1179.8 L771.3,1179.8 L772.0,1179.8 L772.7,1179.8 L773.4,1179.8 L774.1,1179.8 L774.8,1179.8 L775.5,1179.8 L776.2,1179.8 L776.9,1179.8 L777.6,1179.8 L778.3,1179.8 L779.0,1179.8 L779.7,1179.8 L780.4,1179.8 L781.1,1179.8 L781.8,1179.8 L782.5,1179.8 L783.2,1179.8 L783.9,1179.8 L784.6,1179.8 L785.3,1179.8 L786.0,1179.8 L786.7,1179.8 L787.4,1179.8 L788.1,1179.8 L788.8,1179.8 L789.5,1179.8 L790.2,1179.8 L790.9,1179.8 L791.6,1179.8 L792.3,1179.8 L793.0,1179.8 L793.7,1179.8 L794.4,1179.8 L795.1,1179.8 L795.8,1179.8 L796.5,1179.8 L797.2,1179.8 L797.9,1179.8 L798.6,1179.8 L799.3,1179.8 L800.0,1179.8 L800.7,1179.8 L801.4,1179.8 L802.1,1179.8 L802.8,1179.8 L803.5,1179.8 L804.2,1179.8 L804.9,1179.8 L805.6,1179.8 L806.3,1179.8 L807.0,1179.8 L807.7,1179.8 L808.4,1179.8 L809.1,1179.8 L809.8,1179.8 L810.5,1179.8 L811.2,1179.8 L811.9,1179.8 L812.6,1179.8 L813.3,1179.8 L814.0,1179.8 L814.7,1179.8 L815.4,1179.8 L816.1,1179.8 L816.8,1179.8 L817.5,1179.8 L818.2,1179.8 L818.9,1179.8 L819.6,1179.8 L820.3,1179.8 L821.0,1179.8 L821.7,1179.8 L822.4,1179.8 L823.1,1179.8 L823.8,1179.8 L824.5,1179.8 L825.2,1179.8 L825.9,1179.8 L826.6,1179.8 L827.3,1179.8 L828.0,1179.8 L828.7,1179.8 L829.4,1179.8 L830.1,1179.8 L830.8,1179.8 L831.5,1179.8 L832.2,1179.8 L832.9,1179.8 L833.6,1179.8 L834.3,1179.8 L835.0,1179.8 L835.7,1179.8 L836.4,1179.8 L837.1,1179.8 L837.8,1179.8 L838.5,1179.8 L839.2,1179.8 L839.9,1179.8 L840.6,1179.8 L841.3,1179.8 L842.0,1179.8 L842.7,1179.8 L843.4,1179.8 L844.1,1179.8 L844.8,1179.8 L845.5,1179.8 L846.2,1179.8 L846.9,1179.8 L847.6,1179.8 L848.3,1179.8 L849.0,1179.8 L849.7,1179.8 L850.4,1179.8 L851.1,1179.8 L851.8,1179.8 L852.5,1179.8 L853.2,1179.8 L853.9,1179.8 L854.6,1179.8 L855.3,1179.8 L856.0,1179.8 L856.7,1179.8 L857.4,1179.8 L858.1,1179.8 L858.8,1179.8 L859.5,1179.8 L860.2,1179.8 L860.9,1179.8 L861.6,1179.8 L862.3,1179.8 L863.0,1179.8 L863.7,1179.8 L864.4,1179.8 L865.1,1179.8 L865.8,1179.8 L866.5,1179.8 L867.2,1179.8 L867.9,1179.8 L868.6,1179.8 L869.3,1179.8 L870.0,1179.8 L870.7,1179.8 L871.4,1179.8 L872.1,1179.8 L872.8,1179.8 L873.5,1179.8 L874.2,1179.8 L874.9,1179.8 L875.6,1179.8 L876.3,1179.8 L877.0,1179.8 L877.7,1179.8 L878.4,1179.8 L879.1,1179.8 L879.8,1179.8 L880.5,1179.8 L881.2,1179.8 L881.9,1179.8 L882.6,1179.8 L883.3,1179.8 L884.0,1179.8 L884.7,1179.8 L885.4,1179.8 L886.1,1179.8 L886.8,1179.8 L887.5,1179.8 L888.2,1179.8 L888.9,1179.8 L889.6,1179.8 L890.3,1179.8 L891.0,1179.8 L891.7,1179.8 L892.4,1179.8 L893.1,1179.8 L893.8,1179.8 L894.5,1179.8 L895.2,1179.8 L895.9,1179.8 L896.6,1179.8 L897.3,1179.8 L898.0,1179.8 L898.7,1179.8 L899.4,1179.8 L900.1,1179.8 L900.8,1179.8 L901.5,1179.8 L902.2,1179.8 L902.9,1179.8 L903.6,1179.8 L904.3,1179.8 L905.0,1179.8 L905.7,1179.8 L906.4,1179.8 L907.1,1179.8 L907.8,1179.8 L908.5,1179.8 L909.2,1179.8 L909.9,1179.8 L910.6,1179.8 L911.3,1179.8 L912.0,1179.8 L912.7,1179.8 L913.4,1179.8 L914.1,1179.8 L914.8,1179.8 L915.5,1179.8 L916.2,1179.8 L916.9,1179.8 L917.6,1179.8 L918.3,1179.8 L919.0,1179.8 L919.7,1179.8 L920.4,1179.8 L921.1,1179.8 L921.8,1179.8 L922.5,1179.8 L923.2,1179.8 L923.9,1179.8 L924.6,1179.8 L925.3,1179.8 L926.0,1179.8 L926.7,1179.8 L927.4,1179.8 L928.1,1179.8 L928.8,1179.8 L929.5,1179.8 L930.2,1179.8 L930.9,1179.8 L931.6,1179.8 L932.3,1179.8 L933.0,1179.8 L933.7,1179.8 L934.4,1179.8 L935.1,1179.8 L935.8,1179.8 L936.5,1179.8 L937.2,1179.8 L937.9,1179.8 L938.6,1179.8 L939.3,1179.8 L940.0,1179.8 L940.7,1179.8 L941.4,1179.8 L942.1,1179.8 L942.8,1179.8 L943.5,1179.8 L944.2,1179.8 L944.9,1179.8 L945.6,1179.8 L946.3,1179.8 L947.0,1179.8 L947.7,1179.8 L948.4,1179.8 L949.1,1179.8 L949.8,1179.8 L950.5,1179.8 L951.2,1179.8 L951.9,1179.8 L952.6,1179.8 L953.3,1179.8 L954.0,1179.8 L954.7,1179.8 L955.4,1179.8 L956.1,1179.8 L956.8,1179.8 L957.5,1179.8 L958.2,1179.8 L958.9,1179.8 L959.6,1179.8 L960.3,1179.8 L961.0,1179.8 L961.7,1179.8 L962.4,1179.8 L963.1,1179.8 L963.8,1179.8 L964.5,1179.8 L965.2,1179.8 L965.9,1179.8 L966.6,1179.8 L967.3,1179.8 L968.0,1179.8 L968.7,1179.8 L969.4,1179.8 L970.1,1179.8 L970.8,1179.8 L971.5,1179.8 L972.2,1179.8 L972.9,1179.8 L973.6,1179.8 L974.3,1179.8 L975.0,1179.8 L975.7,1179.8 L976.4,1179.8 L977.1,1179.8 L977.8,1179.8 L978.5,1179.8 L979.2,1179.8 L979.9,1179.8 L980.6,1179.8 L981.3,1179.8 L982.0,1179.8 L982.7,1179.8 L983.4,1179.8 L984.1,1179.8 L984.8,1179.8 L985.5,1179.8 L986.2,1179.8 L986.9,1179.8 L987.6,1179.8 L988.3,1179.8 L989.0,1179.8 L989.7,1179.8 L990.4,1179.8 L991.1,1179.8 L991.8,1179.8 L992.5,1179.8 L993.2,1179.8 L993.9,1179.8 L994.6,1179.8 L995.3,1179.8 L996.0,1179.8 L996.7,1179.8 L997.4,1179.8 L998.1,1179.8 L998.8,1179.8 L999.5,1179.8 L1000.2,1179.8 L1000.9,1179.8 L1001.6,1179.8 L1002.3,1179.8 L1003.0,1179.8 L1003.7,1179.8 L1004.4,1179.8 L1005.1,1179.8 L1005.8,1179.8 L1006.5,1179.8 L1007.2,1179.8 L1007.9,1179.8 L1008.6,1179.8 L1009.3,1179.8 L1010.0,1179.8 L1010.7,1179.8 L1011.4,1179.8 L1012.1,1179.8 L1012.8,1179.8 L1013.5,1179.8 L1014.2,1179.8 L1014.9,1179.8 L1015.6,1179.8 L1016.3,1179.8 L1017.0,1179.8 L1017.7,1179.8 L1018.4,1179.8 L1019.1,1179.8 L1019.8,1179.8 L1020.5,1179.8 L1021.2,1179.8 L1021.9,1179.8 L1022.6,1179.8 L1023.3,1179.8 L1024.0,1179.8 L1024.7,1179.8 L1025.4,1179.8 L1026.1,1179.8 L1026.8,1179.8 L1027.5,1179.8 L1028.2,1179.8 L1028.9,1179.8 L1029.6,1179.8 L1030.3,1179.8 L1031.0,1179.8 L1031.7,1179.8 L1032.4,1179.8 L1033.1,1179.8 L1033.8,1179.8 L1034.5,1179.8 L1035.2,1179.8 L1035.9,1179.8 L1036.6,1179.8 L1037.3,1179.8 L1038.0,1179.8 L1038.7,1179.8 L1039.4,1179.8 L1040.1,1179.8 L1040.8,1179.8 L1041.5,1179.8 L1042.2,1179.8 L1042.9,1179.8 L1043.6,1179.8 L1044.3,1179.8 L1045.0,1179.8 L1045.7,1179.8 L1046.4,1179.8 L1047.1,1179.8 L1047.8,1179.8 L1048.5,1179.8 L1049.2,1179.8 L1049.9,1179.8 L1050.6,1179.8 L1051.3,1179.8 L1052.0,1179.8 L1052.7,1179.8 L1053.4,1179.8 L1054.1,1179.8 L1054.8,1179.8 L1055.5,1179.8 L1056.2,1179.8 L1056.9,1179.8 L1057.6,1179.8 L1058.3,1179.8 L1059.0,1179.8 L1059.7,1179.8 L1060.4,1179.8 L1061.1,1179.8 L1061.8,1179.8 L1062.5,1179.8 L1063.2,1179.8 L1063.9,1179.8 L1064.6,1179.8 L1065.3,1179.8 L1066.0,1179.8 L1066.7,1179.8 L1067.4,1179.8 L1068.1,1179.8 L1068.8,1179.8 L1069.5,1179.8 L1070.2,1179.8 L1070.9,1179.8 L1071.6,1179.8 L1072.3,1179.8 L1073.0,1179.8 L1073.7,1179.8 L1074.4,1179.8 L1075.1,1179.8 L1075.8,1179.8 L1076.5,1179.8 L1077.2,1179.8 L1077.9,1179.8 L1078.6,1179.8 L1079.3,1179.8 L1080.0,1179.8 L1080.7,1179.8 L1081.4,1179.8 L1082.1,1179.8 L1082.8,1179.8 L1083.5,1179.8 L1084.2,1179.8 L1084.9,1179.8 L1085.6,1179.8 L1086.3,1179.8 L1087.0,1179.8 L1087.7,1179.8 L1088.4,1179.8 L1089.1,1179.8 L1089.8,1179.8 L1090.5,1179.8 L1091.2,1179.8 L1091.9,1179.8 L1092.6,1179.8 L1093.3,1179.8 L1094.0,1179.8 L1094.7,1179.8" fill="none" stroke="#FF7E52" stroke-width="2.2"/>
<path d="M670.5,1164.7 L671.2,1165.1 L671.9,1164.7 L672.6,1165.1 L673.3,1164.9 L674.0,1165.0 L674.7,1165.1 L675.4,1165.0 L676.1,1164.9 L676.8,1164.8 L677.5,1164.8 L678.2,1165.2 L678.9,1165.0 L679.6,1164.8 L680.3,1165.3 L681.0,1164.9 L681.7,1165.0 L682.4,1165.0 L683.1,1165.2 L683.8,1165.2 L684.5,1165.2 L685.2,1165.0 L685.9,1165.0 L686.6,1165.0 L687.3,1165.1 L688.0,1164.9 L688.7,1165.0 L689.4,1165.4 L690.1,1165.4 L690.8,1165.0 L691.5,1164.9 L692.2,1165.0 L692.9,1165.3 L693.6,1165.3 L694.3,1164.9 L695.0,1165.2 L695.7,1164.8 L696.4,1165.1 L697.1,1165.2 L697.8,1165.3 L698.5,1164.9 L699.2,1165.2 L699.9,1165.2 L700.6,1165.2 L701.3,1164.6 L702.0,1164.8 L702.7,1165.1 L703.4,1164.7 L704.1,1164.8 L704.8,1164.6 L705.5,1164.7 L706.2,1164.4 L706.9,1164.0 L707.6,1163.9 L708.3,1163.8 L709.0,1163.8 L709.7,1164.0 L710.4,1163.7 L711.1,1163.6 L711.8,1163.2 L712.5,1163.0 L713.2,1162.8 L713.9,1162.5 L714.6,1162.2 L715.3,1161.7 L716.0,1160.8 L716.7,1160.4 L717.4,1159.6 L718.1,1159.3 L718.8,1158.6 L719.5,1157.3 L720.2,1156.3 L720.9,1155.2 L721.6,1153.8 L722.3,1152.5 L723.0,1150.3 L723.7,1148.2 L724.4,1145.5 L725.1,1142.5 L725.8,1139.0 L726.5,1134.7 L727.2,1129.0 L727.9,1123.4 L728.6,1115.8 L729.3,1107.2 L730.0,1097.5 L730.7,1086.2 L731.4,1073.7 L732.1,1059.4 L732.8,1044.7 L733.5,1031.1 L734.2,1018.0 L734.9,1008.6 L735.6,1003.4 L736.3,1002.9 L737.0,1008.3 L737.7,1019.0 L738.4,1032.6 L739.1,1048.5 L739.8,1064.1 L740.5,1079.1 L741.2,1092.2 L741.9,1103.1 L742.6,1112.9 L743.3,1121.2 L744.0,1128.1 L744.7,1133.6 L745.4,1138.3 L746.1,1142.5 L746.8,1145.8 L747.5,1148.2 L748.2,1150.8 L748.9,1152.4 L749.6,1153.9 L750.3,1155.6 L751.0,1156.9 L751.7,1158.1 L752.4,1159.0 L753.1,1159.7 L753.8,1160.4 L754.5,1161.0 L755.2,1161.5 L755.9,1162.0 L756.6,1162.6 L757.3,1162.6 L758.0,1162.8 L758.7,1163.2 L759.4,1163.5 L760.1,1163.9 L760.8,1164.4 L761.5,1164.1 L762.2,1164.6 L762.9,1165.0 L763.6,1164.8 L764.3,1164.9 L765.0,1165.1 L765.7,1165.2 L766.4,1165.8 L767.1,1165.5 L767.8,1165.7 L768.5,1166.1 L769.2,1166.2 L769.9,1166.2 L770.6,1166.5 L771.3,1166.1 L772.0,1166.7 L772.7,1166.6 L773.4,1166.5 L774.1,1166.9 L774.8,1166.9 L775.5,1167.2 L776.2,1166.7 L776.9,1167.1 L777.6,1167.1 L778.3,1167.3 L779.0,1167.1 L779.7,1167.0 L780.4,1167.4 L781.1,1167.3 L781.8,1167.7 L782.5,1167.5 L783.2,1167.5 L783.9,1167.7 L784.6,1167.7 L785.3,1168.0 L786.0,1168.0 L786.7,1167.9 L787.4,1167.7 L788.1,1168.0 L788.8,1168.2 L789.5,1168.2 L790.2,1168.4 L790.9,1168.0 L791.6,1168.2 L792.3,1168.2 L793.0,1168.2 L793.7,1168.3 L794.4,1168.4 L795.1,1168.5 L795.8,1168.3 L796.5,1168.3 L797.2,1168.4 L797.9,1168.4 L798.6,1168.5 L799.3,1168.8 L800.0,1168.8 L800.7,1169.1 L801.4,1168.8 L802.1,1168.9 L802.8,1169.0 L803.5,1169.0 L804.2,1169.0 L804.9,1169.0 L805.6,1169.1 L806.3,1169.0 L807.0,1169.2 L807.7,1169.2 L808.4,1169.0 L809.1,1169.0 L809.8,1169.0 L810.5,1169.2 L811.2,1169.0 L811.9,1169.1 L812.6,1169.1 L813.3,1169.2 L814.0,1169.3 L814.7,1169.5 L815.4,1169.6 L816.1,1169.6 L816.8,1169.3 L817.5,1169.8 L818.2,1169.7 L818.9,1169.6 L819.6,1169.7 L820.3,1169.6 L821.0,1169.5 L821.7,1169.8 L822.4,1170.0 L823.1,1169.9 L823.8,1169.5 L824.5,1169.5 L825.2,1170.0 L825.9,1170.0 L826.6,1170.0 L827.3,1170.0 L828.0,1169.6 L828.7,1170.0 L829.4,1169.7 L830.1,1169.7 L830.8,1169.8 L831.5,1169.6 L832.2,1170.1 L832.9,1169.7 L833.6,1170.0 L834.3,1169.9 L835.0,1170.0 L835.7,1169.9 L836.4,1170.1 L837.1,1169.8 L837.8,1169.8 L838.5,1169.7 L839.2,1169.9 L839.9,1169.6 L840.6,1169.9 L841.3,1169.4 L842.0,1169.4 L842.7,1169.5 L843.4,1169.3 L844.1,1169.2 L844.8,1169.5 L845.5,1169.2 L846.2,1169.0 L846.9,1169.2 L847.6,1169.0 L848.3,1168.8 L849.0,1168.8 L849.7,1168.6 L850.4,1168.1 L851.1,1167.7 L851.8,1167.7 L852.5,1167.5 L853.2,1167.3 L853.9,1166.5 L854.6,1166.3 L855.3,1166.0 L856.0,1165.1 L856.7,1164.5 L857.4,1163.8 L858.1,1163.1 L858.8,1162.4 L859.5,1161.1 L860.2,1160.0 L860.9,1158.5 L861.6,1156.7 L862.3,1154.6 L863.0,1152.3 L863.7,1149.9 L864.4,1146.3 L865.1,1142.5 L865.8,1138.1 L866.5,1133.0 L867.2,1126.6 L867.9,1119.0 L868.6,1110.4 L869.3,1100.0 L870.0,1088.5 L870.7,1075.6 L871.4,1061.1 L872.1,1046.2 L872.8,1031.3 L873.5,1018.5 L874.2,1008.5 L874.9,1002.9 L875.6,1003.0 L876.3,1008.5 L877.0,1019.4 L877.7,1033.4 L878.4,1049.6 L879.1,1066.0 L879.8,1080.8 L880.5,1094.6 L881.2,1106.4 L881.9,1115.8 L882.6,1124.4 L883.3,1131.4 L884.0,1137.1 L884.7,1141.9 L885.4,1145.9 L886.1,1149.2 L886.8,1151.8 L887.5,1154.6 L888.2,1156.8 L888.9,1157.9 L889.6,1159.8 L890.3,1160.8 L891.0,1161.6 L891.7,1162.5 L892.4,1163.6 L893.1,1164.1 L893.8,1164.8 L894.5,1165.3 L895.2,1166.2 L895.9,1166.4 L896.6,1166.6 L897.3,1167.4 L898.0,1167.7 L898.7,1167.9 L899.4,1167.8 L900.1,1168.5 L900.8,1168.4 L901.5,1168.8 L902.2,1169.0 L902.9,1169.1 L903.6,1169.3 L904.3,1169.5 L905.0,1169.4 L905.7,1169.6 L906.4,1169.4 L907.1,1169.7 L907.8,1170.1 L908.5,1169.8 L909.2,1170.3 L909.9,1170.4 L910.6,1170.1 L911.3,1170.5 L912.0,1170.5 L912.7,1170.8 L913.4,1170.5 L914.1,1170.8 L914.8,1170.9 L915.5,1170.7 L916.2,1170.7 L916.9,1170.8 L917.6,1171.1 L918.3,1170.9 L919.0,1171.3 L919.7,1171.0 L920.4,1171.3 L921.1,1171.1 L921.8,1171.3 L922.5,1171.6 L923.2,1171.4 L923.9,1171.5 L924.6,1171.4 L925.3,1171.5 L926.0,1171.3 L926.7,1171.6 L927.4,1171.6 L928.1,1171.5 L928.8,1171.5 L929.5,1171.6 L930.2,1171.7 L930.9,1171.7 L931.6,1172.0 L932.3,1172.1 L933.0,1172.2 L933.7,1171.9 L934.4,1172.2 L935.1,1172.1 L935.8,1172.3 L936.5,1171.8 L937.2,1172.2 L937.9,1172.2 L938.6,1172.2 L939.3,1172.3 L940.0,1172.4 L940.7,1172.4 L941.4,1172.2 L942.1,1172.2 L942.8,1172.4 L943.5,1172.1 L944.2,1172.5 L944.9,1172.4 L945.6,1172.4 L946.3,1172.5 L947.0,1172.7 L947.7,1172.7 L948.4,1172.6 L949.1,1172.3 L949.8,1172.8 L950.5,1172.5 L951.2,1172.8 L951.9,1172.6 L952.6,1172.7 L953.3,1172.9 L954.0,1172.4 L954.7,1172.5 L955.4,1172.5 L956.1,1172.4 L956.8,1172.6 L957.5,1173.0 L958.2,1172.6 L958.9,1172.5 L959.6,1173.0 L960.3,1172.8 L961.0,1172.8 L961.7,1172.9 L962.4,1173.0 L963.1,1172.7 L963.8,1172.6 L964.5,1172.8 L965.2,1173.0 L965.9,1173.1 L966.6,1172.7 L967.3,1173.0 L968.0,1172.8 L968.7,1173.1 L969.4,1172.7 L970.1,1172.7 L970.8,1172.6 L971.5,1173.1 L972.2,1172.6 L972.9,1172.7 L973.6,1172.7 L974.3,1173.1 L975.0,1172.5 L975.7,1172.7 L976.4,1172.9 L977.1,1172.5 L977.8,1172.8 L978.5,1172.6 L979.2,1172.3 L979.9,1172.7 L980.6,1172.5 L981.3,1172.3 L982.0,1172.8 L982.7,1172.6 L983.4,1172.3 L984.1,1172.2 L984.8,1171.9 L985.5,1172.2 L986.2,1171.9 L986.9,1171.9 L987.6,1171.9 L988.3,1171.8 L989.0,1171.3 L989.7,1171.1 L990.4,1171.3 L991.1,1170.7 L991.8,1170.7 L992.5,1170.2 L993.2,1170.0 L993.9,1169.7 L994.6,1169.7 L995.3,1169.3 L996.0,1168.5 L996.7,1168.2 L997.4,1167.6 L998.1,1166.7 L998.8,1166.1 L999.5,1165.5 L1000.2,1164.1 L1000.9,1163.0 L1001.6,1161.8 L1002.3,1160.1 L1003.0,1158.7 L1003.7,1156.4 L1004.4,1154.1 L1005.1,1151.2 L1005.8,1148.0 L1006.5,1143.9 L1007.2,1139.0 L1007.9,1133.2 L1008.6,1126.7 L1009.3,1118.6 L1010.0,1109.4 L1010.7,1099.1 L1011.4,1086.7 L1012.1,1073.3 L1012.8,1058.5 L1013.5,1043.4 L1014.2,1029.1 L1014.9,1016.9 L1015.6,1008.0 L1016.3,1003.4 L1017.0,1005.1 L1017.7,1012.1 L1018.4,1024.1 L1019.1,1039.4 L1019.8,1055.8 L1020.5,1072.0 L1021.2,1086.8 L1021.9,1099.8 L1022.6,1111.2 L1023.3,1120.6 L1024.0,1128.4 L1024.7,1135.2 L1025.4,1140.9 L1026.1,1145.6 L1026.8,1149.3 L1027.5,1152.1 L1028.2,1155.2 L1028.9,1157.6 L1029.6,1159.1 L1030.3,1161.0 L1031.0,1162.1 L1031.7,1163.6 L1032.4,1164.7 L1033.1,1165.2 L1033.8,1166.3 L1034.5,1166.7 L1035.2,1167.6 L1035.9,1167.7 L1036.6,1168.6 L1037.3,1168.7 L1038.0,1169.1 L1038.7,1169.3 L1039.4,1170.0 L1040.1,1169.9 L1040.8,1170.3 L1041.5,1170.5 L1042.2,1170.7 L1042.9,1170.8 L1043.6,1171.3 L1044.3,1171.4 L1045.0,1171.7 L1045.7,1171.4 L1046.4,1171.8 L1047.1,1171.6 L1047.8,1171.8 L1048.5,1172.1 L1049.2,1172.3 L1049.9,1172.5 L1050.6,1172.5 L1051.3,1172.2 L1052.0,1172.5 L1052.7,1172.8 L1053.4,1173.0 L1054.1,1173.1 L1054.8,1172.9 L1055.5,1173.2 L1056.2,1172.9 L1056.9,1173.1 L1057.6,1173.3 L1058.3,1172.9 L1059.0,1173.0 L1059.7,1173.2 L1060.4,1173.2 L1061.1,1173.2 L1061.8,1173.5 L1062.5,1173.6 L1063.2,1173.5 L1063.9,1173.7 L1064.6,1173.5 L1065.3,1173.6 L1066.0,1173.5 L1066.7,1173.6 L1067.4,1173.8 L1068.1,1174.0 L1068.8,1173.8 L1069.5,1174.1 L1070.2,1174.2 L1070.9,1174.1 L1071.6,1174.1 L1072.3,1173.7 L1073.0,1174.2 L1073.7,1173.8 L1074.4,1174.3 L1075.1,1174.1 L1075.8,1173.9 L1076.5,1174.5 L1077.2,1174.0 L1077.9,1174.5 L1078.6,1174.4 L1079.3,1174.6 L1080.0,1174.4 L1080.7,1174.3 L1081.4,1174.5 L1082.1,1174.4 L1082.8,1174.6 L1083.5,1174.7 L1084.2,1174.2 L1084.9,1174.3 L1085.6,1174.5 L1086.3,1174.3 L1087.0,1174.5 L1087.7,1174.6 L1088.4,1174.4 L1089.1,1174.4 L1089.8,1174.7 L1090.5,1174.5 L1091.2,1174.8 L1091.9,1174.7 L1092.6,1175.0 L1093.3,1174.7 L1094.0,1174.8 L1094.7,1174.7" fill="none" stroke="#5CBF98" stroke-width="2.3" stroke-linejoin="round"/>
<rect x="669.5" y="878.7" width="425.8" height="313.6" fill="none" stroke="#111" stroke-width="1.8"/>
<text x="734.1" y="1218.5" font-size="28" fill="#000" text-anchor="middle" >1</text>
<text x="877.6" y="1218.5" font-size="28" fill="#000" text-anchor="middle" >2</text>
<text x="1022.4" y="1218.5" font-size="28" fill="#000" text-anchor="middle" >3</text>
<text x="877.0" y="1243.8" font-size="27.4" fill="#000" text-anchor="middle" >Cycle number</text>
<text x="0" y="0" font-size="27.5" fill="#000" text-anchor="middle" transform="translate(655.5,1035.3) rotate(-90)">Mass signal (a.u.)</text>
<text x="684.5" y="918.8" font-size="27.5" fill="#FF8470" text-anchor="start" >KMnPO<tspan font-size="0.72em">4</tspan></text>
<line x1="980" y1="909.7" x2="1019.8" y2="909.7" stroke="#5CBF98" stroke-width="2.2"/>
<text x="1023.3" y="915.2" fill="#333" font-size="26"><tspan font-size="18.8" dy="-11">32</tspan><tspan dy="11">O</tspan><tspan font-size="19.8">2</tspan></text>
<line x1="980" y1="947.0" x2="1019.8" y2="947.0" stroke="#7C8ED0" stroke-width="2.2"/>
<text x="1023.3" y="952.5" fill="#333" font-size="26"><tspan font-size="18.8" dy="-11">34</tspan><tspan dy="11">O</tspan><tspan font-size="19.8">2</tspan></text>
<line x1="980" y1="984.0" x2="1019.8" y2="984.0" stroke="#FF7E52" stroke-width="2.2"/>
<text x="1023.3" y="989.5" fill="#333" font-size="26"><tspan font-size="18.8" dy="-11">36</tspan><tspan dy="11">O</tspan><tspan font-size="19.8">2</tspan></text>
<text x="588.0" y="880.0" font-size="48" fill="#000" text-anchor="start" >h</text>
<path d="M1240.8,1172.7 L1241.5,1172.7 L1242.2,1172.7 L1242.9,1172.7 L1243.6,1172.7 L1244.3,1172.7 L1245.0,1172.7 L1245.7,1172.7 L1246.4,1172.7 L1247.1,1172.7 L1247.8,1172.7 L1248.5,1172.7 L1249.2,1172.7 L1249.9,1172.7 L1250.6,1172.7 L1251.3,1172.7 L1252.0,1172.7 L1252.7,1172.7 L1253.4,1172.7 L1254.1,1172.7 L1254.8,1172.7 L1255.5,1172.7 L1256.2,1172.7 L1256.9,1172.7 L1257.6,1172.7 L1258.3,1172.7 L1259.0,1172.7 L1259.7,1172.7 L1260.4,1172.6 L1261.1,1172.6 L1261.8,1172.6 L1262.5,1172.6 L1263.2,1172.6 L1263.9,1172.6 L1264.6,1172.6 L1265.3,1172.6 L1266.0,1172.6 L1266.7,1172.6 L1267.4,1172.6 L1268.1,1172.6 L1268.8,1172.6 L1269.5,1172.6 L1270.2,1172.6 L1270.9,1172.6 L1271.6,1172.6 L1272.3,1172.6 L1273.0,1172.6 L1273.7,1172.6 L1274.4,1172.6 L1275.1,1172.6 L1275.8,1172.6 L1276.5,1172.5 L1277.2,1172.5 L1277.9,1172.5 L1278.6,1172.5 L1279.3,1172.5 L1280.0,1172.5 L1280.7,1172.5 L1281.4,1172.4 L1282.1,1172.4 L1282.8,1172.4 L1283.5,1172.4 L1284.2,1172.3 L1284.9,1172.3 L1285.6,1172.2 L1286.3,1172.2 L1287.0,1172.1 L1287.7,1172.1 L1288.4,1172.0 L1289.1,1172.0 L1289.8,1171.9 L1290.5,1171.8 L1291.2,1171.7 L1291.9,1171.7 L1292.6,1171.6 L1293.3,1171.5 L1294.0,1171.5 L1294.7,1171.5 L1295.4,1171.5 L1296.1,1171.5 L1296.8,1171.6 L1297.5,1171.7 L1298.2,1171.7 L1298.9,1171.8 L1299.6,1171.9 L1300.3,1172.0 L1301.0,1172.0 L1301.7,1172.1 L1302.4,1172.2 L1303.1,1172.2 L1303.8,1172.3 L1304.5,1172.3 L1305.2,1172.3 L1305.9,1172.4 L1306.6,1172.4 L1307.3,1172.4 L1308.0,1172.4 L1308.7,1172.5 L1309.4,1172.5 L1310.1,1172.5 L1310.8,1172.5 L1311.5,1172.5 L1312.2,1172.5 L1312.9,1172.5 L1313.6,1172.6 L1314.3,1172.6 L1315.0,1172.6 L1315.7,1172.6 L1316.4,1172.6 L1317.1,1172.6 L1317.8,1172.6 L1318.5,1172.6 L1319.2,1172.6 L1319.9,1172.6 L1320.6,1172.6 L1321.3,1172.6 L1322.0,1172.6 L1322.7,1172.6 L1323.4,1172.6 L1324.1,1172.6 L1324.8,1172.6 L1325.5,1172.6 L1326.2,1172.6 L1326.9,1172.6 L1327.6,1172.6 L1328.3,1172.6 L1329.0,1172.6 L1329.7,1172.6 L1330.4,1172.6 L1331.1,1172.7 L1331.8,1172.7 L1332.5,1172.7 L1333.2,1172.7 L1333.9,1172.7 L1334.6,1172.7 L1335.3,1172.7 L1336.0,1172.7 L1336.7,1172.7 L1337.4,1172.7 L1338.1,1172.7 L1338.8,1172.7 L1339.5,1172.7 L1340.2,1172.7 L1340.9,1172.7 L1341.6,1172.7 L1342.3,1172.7 L1343.0,1172.7 L1343.7,1172.7 L1344.4,1172.7 L1345.1,1172.7 L1345.8,1172.7 L1346.5,1172.7 L1347.2,1172.7 L1347.9,1172.7 L1348.6,1172.7 L1349.3,1172.7 L1350.0,1172.7 L1350.7,1172.7 L1351.4,1172.7 L1352.1,1172.7 L1352.8,1172.7 L1353.5,1172.7 L1354.2,1172.7 L1354.9,1172.7 L1355.6,1172.7 L1356.3,1172.7 L1357.0,1172.7 L1357.7,1172.7 L1358.4,1172.7 L1359.1,1172.7 L1359.8,1172.7 L1360.5,1172.7 L1361.2,1172.7 L1361.9,1172.7 L1362.6,1172.7 L1363.3,1172.7 L1364.0,1172.7 L1364.7,1172.7 L1365.4,1172.7 L1366.1,1172.7 L1366.8,1172.7 L1367.5,1172.7 L1368.2,1172.7 L1368.9,1172.7 L1369.6,1172.7 L1370.3,1172.7 L1371.0,1172.7 L1371.7,1172.7 L1372.4,1172.7 L1373.1,1172.7 L1373.8,1172.7 L1374.5,1172.7 L1375.2,1172.7 L1375.9,1172.7 L1376.6,1172.7 L1377.3,1172.7 L1378.0,1172.7 L1378.7,1172.7 L1379.4,1172.7 L1380.1,1172.7 L1380.8,1172.7 L1381.5,1172.7 L1382.2,1172.7 L1382.9,1172.7 L1383.6,1172.7 L1384.3,1172.7 L1385.0,1172.7 L1385.7,1172.7 L1386.4,1172.7 L1387.1,1172.7 L1387.8,1172.7 L1388.5,1172.7 L1389.2,1172.7 L1389.9,1172.7 L1390.6,1172.7 L1391.3,1172.7 L1392.0,1172.7 L1392.7,1172.7 L1393.4,1172.7 L1394.1,1172.7 L1394.8,1172.7 L1395.5,1172.7 L1396.2,1172.6 L1396.9,1172.6 L1397.6,1172.6 L1398.3,1172.6 L1399.0,1172.6 L1399.7,1172.6 L1400.4,1172.6 L1401.1,1172.6 L1401.8,1172.6 L1402.5,1172.6 L1403.2,1172.6 L1403.9,1172.6 L1404.6,1172.6 L1405.3,1172.6 L1406.0,1172.6 L1406.7,1172.6 L1407.4,1172.6 L1408.1,1172.6 L1408.8,1172.6 L1409.5,1172.6 L1410.2,1172.6 L1410.9,1172.6 L1411.6,1172.6 L1412.3,1172.6 L1413.0,1172.6 L1413.7,1172.5 L1414.4,1172.5 L1415.1,1172.5 L1415.8,1172.5 L1416.5,1172.5 L1417.2,1172.5 L1417.9,1172.5 L1418.6,1172.4 L1419.3,1172.4 L1420.0,1172.4 L1420.7,1172.4 L1421.4,1172.3 L1422.1,1172.3 L1422.8,1172.3 L1423.5,1172.2 L1424.2,1172.2 L1424.9,1172.1 L1425.6,1172.1 L1426.3,1172.0 L1427.0,1171.9 L1427.7,1171.9 L1428.4,1171.8 L1429.1,1171.7 L1429.8,1171.6 L1430.5,1171.6 L1431.2,1171.5 L1431.9,1171.5 L1432.6,1171.5 L1433.3,1171.5 L1434.0,1171.6 L1434.7,1171.6 L1435.4,1171.7 L1436.1,1171.8 L1436.8,1171.8 L1437.5,1171.9 L1438.2,1172.0 L1438.9,1172.1 L1439.6,1172.1 L1440.3,1172.2 L1441.0,1172.2 L1441.7,1172.3 L1442.4,1172.3 L1443.1,1172.3 L1443.8,1172.4 L1444.5,1172.4 L1445.2,1172.4 L1445.9,1172.4 L1446.6,1172.5 L1447.3,1172.5 L1448.0,1172.5 L1448.7,1172.5 L1449.4,1172.5 L1450.1,1172.5 L1450.8,1172.5 L1451.5,1172.6 L1452.2,1172.6 L1452.9,1172.6 L1453.6,1172.6 L1454.3,1172.6 L1455.0,1172.6 L1455.7,1172.6 L1456.4,1172.6 L1457.1,1172.6 L1457.8,1172.6 L1458.5,1172.6 L1459.2,1172.6 L1459.9,1172.6 L1460.6,1172.6 L1461.3,1172.6 L1462.0,1172.6 L1462.7,1172.6 L1463.4,1172.6 L1464.1,1172.6 L1464.8,1172.6 L1465.5,1172.6 L1466.2,1172.6 L1466.9,1172.6 L1467.6,1172.6 L1468.3,1172.6 L1469.0,1172.7 L1469.7,1172.7 L1470.4,1172.7 L1471.1,1172.7 L1471.8,1172.7 L1472.5,1172.7 L1473.2,1172.7 L1473.9,1172.7 L1474.6,1172.7 L1475.3,1172.7 L1476.0,1172.7 L1476.7,1172.7 L1477.4,1172.7 L1478.1,1172.7 L1478.8,1172.7 L1479.5,1172.7 L1480.2,1172.7 L1480.9,1172.7 L1481.6,1172.7 L1482.3,1172.7 L1483.0,1172.7 L1483.7,1172.7 L1484.4,1172.7 L1485.1,1172.7 L1485.8,1172.7 L1486.5,1172.7 L1487.2,1172.7 L1487.9,1172.7 L1488.6,1172.7 L1489.3,1172.7 L1490.0,1172.7 L1490.7,1172.7 L1491.4,1172.7 L1492.1,1172.7 L1492.8,1172.7 L1493.5,1172.7 L1494.2,1172.7 L1494.9,1172.7 L1495.6,1172.7 L1496.3,1172.7 L1497.0,1172.7 L1497.7,1172.7 L1498.4,1172.7 L1499.1,1172.7 L1499.8,1172.7 L1500.5,1172.7 L1501.2,1172.7 L1501.9,1172.7 L1502.6,1172.7 L1503.3,1172.7 L1504.0,1172.7 L1504.7,1172.7 L1505.4,1172.7 L1506.1,1172.7 L1506.8,1172.7 L1507.5,1172.7 L1508.2,1172.7 L1508.9,1172.7 L1509.6,1172.7 L1510.3,1172.7 L1511.0,1172.7 L1511.7,1172.7 L1512.4,1172.7 L1513.1,1172.7 L1513.8,1172.7 L1514.5,1172.7 L1515.2,1172.7 L1515.9,1172.7 L1516.6,1172.7 L1517.3,1172.7 L1518.0,1172.7 L1518.7,1172.7 L1519.4,1172.7 L1520.1,1172.7 L1520.8,1172.7 L1521.5,1172.7 L1522.2,1172.7 L1522.9,1172.7 L1523.6,1172.7 L1524.3,1172.7 L1525.0,1172.7 L1525.7,1172.7 L1526.4,1172.7 L1527.1,1172.7 L1527.8,1172.7 L1528.5,1172.7 L1529.2,1172.7 L1529.9,1172.7 L1530.6,1172.7 L1531.3,1172.7 L1532.0,1172.7 L1532.7,1172.7 L1533.4,1172.7 L1534.1,1172.7 L1534.8,1172.7 L1535.5,1172.7 L1536.2,1172.7 L1536.9,1172.7 L1537.6,1172.7 L1538.3,1172.7 L1539.0,1172.7 L1539.7,1172.7 L1540.4,1172.7 L1541.1,1172.7 L1541.8,1172.7 L1542.5,1172.7 L1543.2,1172.7 L1543.9,1172.7 L1544.6,1172.7 L1545.3,1172.7 L1546.0,1172.7 L1546.7,1172.7 L1547.4,1172.7 L1548.1,1172.7 L1548.8,1172.6 L1549.5,1172.6 L1550.2,1172.6 L1550.9,1172.6 L1551.6,1172.6 L1552.3,1172.6 L1553.0,1172.6 L1553.7,1172.6 L1554.4,1172.6 L1555.1,1172.6 L1555.8,1172.6 L1556.5,1172.6 L1557.2,1172.6 L1557.9,1172.6 L1558.6,1172.6 L1559.3,1172.6 L1560.0,1172.6 L1560.7,1172.6 L1561.4,1172.6 L1562.1,1172.6 L1562.8,1172.6 L1563.5,1172.6 L1564.2,1172.6 L1564.9,1172.6 L1565.6,1172.5 L1566.3,1172.5 L1567.0,1172.5 L1567.7,1172.5 L1568.4,1172.5 L1569.1,1172.5 L1569.8,1172.5 L1570.5,1172.4 L1571.2,1172.4 L1571.9,1172.4 L1572.6,1172.4 L1573.3,1172.3 L1574.0,1172.3 L1574.7,1172.3 L1575.4,1172.2 L1576.1,1172.2 L1576.8,1172.1 L1577.5,1172.0 L1578.2,1172.0 L1578.9,1171.9 L1579.6,1171.8 L1580.3,1171.7 L1581.0,1171.7 L1581.7,1171.6 L1582.4,1171.5 L1583.1,1171.5 L1583.8,1171.5 L1584.5,1171.5 L1585.2,1171.5 L1585.9,1171.6 L1586.6,1171.7 L1587.3,1171.7 L1588.0,1171.8 L1588.7,1171.9 L1589.4,1172.0 L1590.1,1172.0 L1590.8,1172.1 L1591.5,1172.2 L1592.2,1172.2 L1592.9,1172.3 L1593.6,1172.3 L1594.3,1172.3 L1595.0,1172.4 L1595.7,1172.4 L1596.4,1172.4 L1597.1,1172.4 L1597.8,1172.5 L1598.5,1172.5 L1599.2,1172.5 L1599.9,1172.5 L1600.6,1172.5 L1601.3,1172.5 L1602.0,1172.5 L1602.7,1172.6 L1603.4,1172.6 L1604.1,1172.6 L1604.8,1172.6 L1605.5,1172.6 L1606.2,1172.6 L1606.9,1172.6 L1607.6,1172.6 L1608.3,1172.6 L1609.0,1172.6 L1609.7,1172.6 L1610.4,1172.6 L1611.1,1172.6 L1611.8,1172.6 L1612.5,1172.6 L1613.2,1172.6 L1613.9,1172.6 L1614.6,1172.6 L1615.3,1172.6 L1616.0,1172.6 L1616.7,1172.6 L1617.4,1172.6 L1618.1,1172.6 L1618.8,1172.7 L1619.5,1172.7 L1620.2,1172.7 L1620.9,1172.7 L1621.6,1172.7 L1622.3,1172.7 L1623.0,1172.7 L1623.7,1172.7 L1624.4,1172.7 L1625.1,1172.7 L1625.8,1172.7 L1626.5,1172.7 L1627.2,1172.7 L1627.9,1172.7 L1628.6,1172.7 L1629.3,1172.7 L1630.0,1172.7 L1630.7,1172.7 L1631.4,1172.7 L1632.1,1172.7 L1632.8,1172.7 L1633.5,1172.7 L1634.2,1172.7 L1634.9,1172.7 L1635.6,1172.7 L1636.3,1172.7 L1637.0,1172.7 L1637.7,1172.7 L1638.4,1172.7 L1639.1,1172.7 L1639.8,1172.7 L1640.5,1172.7 L1641.2,1172.7 L1641.9,1172.7 L1642.6,1172.7 L1643.3,1172.7 L1644.0,1172.7 L1644.7,1172.7 L1645.4,1172.7 L1646.1,1172.7 L1646.8,1172.7 L1647.5,1172.7 L1648.2,1172.7 L1648.9,1172.7 L1649.6,1172.7 L1650.3,1172.7 L1651.0,1172.7 L1651.7,1172.7 L1652.4,1172.7 L1653.1,1172.7 L1653.8,1172.7 L1654.5,1172.7 L1655.2,1172.7 L1655.9,1172.7 L1656.6,1172.7 L1657.3,1172.7 L1658.0,1172.7 L1658.7,1172.7 L1659.4,1172.7 L1660.1,1172.7 L1660.8,1172.7 L1661.5,1172.7 L1662.2,1172.7 L1662.9,1172.7 L1663.6,1172.7 L1664.3,1172.7 L1665.0,1172.7" fill="none" stroke="#7C8ED0" stroke-width="2"/>
<path d="M1240.8,1174.9 L1241.5,1174.9 L1242.2,1174.9 L1242.9,1174.9 L1243.6,1174.9 L1244.3,1174.9 L1245.0,1174.9 L1245.7,1174.9 L1246.4,1174.9 L1247.1,1174.9 L1247.8,1174.9 L1248.5,1174.9 L1249.2,1174.9 L1249.9,1174.9 L1250.6,1174.9 L1251.3,1174.9 L1252.0,1174.9 L1252.7,1174.9 L1253.4,1174.9 L1254.1,1174.9 L1254.8,1174.9 L1255.5,1174.9 L1256.2,1174.9 L1256.9,1174.9 L1257.6,1174.9 L1258.3,1174.9 L1259.0,1174.9 L1259.7,1174.9 L1260.4,1174.9 L1261.1,1174.9 L1261.8,1174.9 L1262.5,1174.9 L1263.2,1174.9 L1263.9,1174.9 L1264.6,1174.9 L1265.3,1174.9 L1266.0,1174.9 L1266.7,1174.9 L1267.4,1174.9 L1268.1,1174.9 L1268.8,1174.9 L1269.5,1174.9 L1270.2,1174.9 L1270.9,1174.9 L1271.6,1174.9 L1272.3,1174.9 L1273.0,1174.9 L1273.7,1174.9 L1274.4,1174.9 L1275.1,1174.9 L1275.8,1174.9 L1276.5,1174.9 L1277.2,1174.9 L1277.9,1174.9 L1278.6,1174.9 L1279.3,1174.9 L1280.0,1174.9 L1280.7,1174.9 L1281.4,1174.9 L1282.1,1174.9 L1282.8,1174.9 L1283.5,1174.9 L1284.2,1174.9 L1284.9,1174.9 L1285.6,1174.9 L1286.3,1174.9 L1287.0,1174.9 L1287.7,1174.9 L1288.4,1174.9 L1289.1,1174.9 L1289.8,1174.9 L1290.5,1174.9 L1291.2,1174.9 L1291.9,1174.9 L1292.6,1174.9 L1293.3,1174.9 L1294.0,1174.9 L1294.7,1174.9 L1295.4,1174.9 L1296.1,1174.9 L1296.8,1174.9 L1297.5,1174.9 L1298.2,1174.9 L1298.9,1174.9 L1299.6,1174.9 L1300.3,1174.9 L1301.0,1174.9 L1301.7,1174.9 L1302.4,1174.9 L1303.1,1174.9 L1303.8,1174.9 L1304.5,1174.9 L1305.2,1174.9 L1305.9,1174.9 L1306.6,1174.9 L1307.3,1174.9 L1308.0,1174.9 L1308.7,1174.9 L1309.4,1174.9 L1310.1,1174.9 L1310.8,1174.9 L1311.5,1174.9 L1312.2,1174.9 L1312.9,1174.9 L1313.6,1174.9 L1314.3,1174.9 L1315.0,1174.9 L1315.7,1174.9 L1316.4,1174.9 L1317.1,1174.9 L1317.8,1174.9 L1318.5,1174.9 L1319.2,1174.9 L1319.9,1174.9 L1320.6,1174.9 L1321.3,1174.9 L1322.0,1174.9 L1322.7,1174.9 L1323.4,1174.9 L1324.1,1174.9 L1324.8,1174.9 L1325.5,1174.9 L1326.2,1174.9 L1326.9,1174.9 L1327.6,1174.9 L1328.3,1174.9 L1329.0,1174.9 L1329.7,1174.9 L1330.4,1174.9 L1331.1,1174.9 L1331.8,1174.9 L1332.5,1174.9 L1333.2,1174.9 L1333.9,1174.9 L1334.6,1174.9 L1335.3,1174.9 L1336.0,1174.9 L1336.7,1174.9 L1337.4,1174.9 L1338.1,1174.9 L1338.8,1174.9 L1339.5,1174.9 L1340.2,1174.9 L1340.9,1174.9 L1341.6,1174.9 L1342.3,1174.9 L1343.0,1174.9 L1343.7,1174.9 L1344.4,1174.9 L1345.1,1174.9 L1345.8,1174.9 L1346.5,1174.9 L1347.2,1174.9 L1347.9,1174.9 L1348.6,1174.9 L1349.3,1174.9 L1350.0,1174.9 L1350.7,1174.9 L1351.4,1174.9 L1352.1,1174.9 L1352.8,1174.9 L1353.5,1174.9 L1354.2,1174.9 L1354.9,1174.9 L1355.6,1174.9 L1356.3,1174.9 L1357.0,1174.9 L1357.7,1174.9 L1358.4,1174.9 L1359.1,1174.9 L1359.8,1174.9 L1360.5,1174.9 L1361.2,1174.9 L1361.9,1174.9 L1362.6,1174.9 L1363.3,1174.9 L1364.0,1174.9 L1364.7,1174.9 L1365.4,1174.9 L1366.1,1174.9 L1366.8,1174.9 L1367.5,1174.9 L1368.2,1174.9 L1368.9,1174.9 L1369.6,1174.9 L1370.3,1174.9 L1371.0,1174.9 L1371.7,1174.9 L1372.4,1174.9 L1373.1,1174.9 L1373.8,1174.9 L1374.5,1174.9 L1375.2,1174.9 L1375.9,1174.9 L1376.6,1174.9 L1377.3,1174.9 L1378.0,1174.9 L1378.7,1174.9 L1379.4,1174.9 L1380.1,1174.9 L1380.8,1174.9 L1381.5,1174.9 L1382.2,1174.9 L1382.9,1174.9 L1383.6,1174.9 L1384.3,1174.9 L1385.0,1174.9 L1385.7,1174.9 L1386.4,1174.9 L1387.1,1174.9 L1387.8,1174.9 L1388.5,1174.9 L1389.2,1174.9 L1389.9,1174.9 L1390.6,1174.9 L1391.3,1174.9 L1392.0,1174.9 L1392.7,1174.9 L1393.4,1174.9 L1394.1,1174.9 L1394.8,1174.9 L1395.5,1174.9 L1396.2,1174.9 L1396.9,1174.9 L1397.6,1174.9 L1398.3,1174.9 L1399.0,1174.9 L1399.7,1174.9 L1400.4,1174.9 L1401.1,1174.9 L1401.8,1174.9 L1402.5,1174.9 L1403.2,1174.9 L1403.9,1174.9 L1404.6,1174.9 L1405.3,1174.9 L1406.0,1174.9 L1406.7,1174.9 L1407.4,1174.9 L1408.1,1174.9 L1408.8,1174.9 L1409.5,1174.9 L1410.2,1174.9 L1410.9,1174.9 L1411.6,1174.9 L1412.3,1174.9 L1413.0,1174.9 L1413.7,1174.9 L1414.4,1174.9 L1415.1,1174.9 L1415.8,1174.9 L1416.5,1174.9 L1417.2,1174.9 L1417.9,1174.9 L1418.6,1174.9 L1419.3,1174.9 L1420.0,1174.9 L1420.7,1174.9 L1421.4,1174.9 L1422.1,1174.9 L1422.8,1174.9 L1423.5,1174.9 L1424.2,1174.9 L1424.9,1174.9 L1425.6,1174.9 L1426.3,1174.9 L1427.0,1174.9 L1427.7,1174.9 L1428.4,1174.9 L1429.1,1174.9 L1429.8,1174.9 L1430.5,1174.9 L1431.2,1174.9 L1431.9,1174.9 L1432.6,1174.9 L1433.3,1174.9 L1434.0,1174.9 L1434.7,1174.9 L1435.4,1174.9 L1436.1,1174.9 L1436.8,1174.9 L1437.5,1174.9 L1438.2,1174.9 L1438.9,1174.9 L1439.6,1174.9 L1440.3,1174.9 L1441.0,1174.9 L1441.7,1174.9 L1442.4,1174.9 L1443.1,1174.9 L1443.8,1174.9 L1444.5,1174.9 L1445.2,1174.9 L1445.9,1174.9 L1446.6,1174.9 L1447.3,1174.9 L1448.0,1174.9 L1448.7,1174.9 L1449.4,1174.9 L1450.1,1174.9 L1450.8,1174.9 L1451.5,1174.9 L1452.2,1174.9 L1452.9,1174.9 L1453.6,1174.9 L1454.3,1174.9 L1455.0,1174.9 L1455.7,1174.9 L1456.4,1174.9 L1457.1,1174.9 L1457.8,1174.9 L1458.5,1174.9 L1459.2,1174.9 L1459.9,1174.9 L1460.6,1174.9 L1461.3,1174.9 L1462.0,1174.9 L1462.7,1174.9 L1463.4,1174.9 L1464.1,1174.9 L1464.8,1174.9 L1465.5,1174.9 L1466.2,1174.9 L1466.9,1174.9 L1467.6,1174.9 L1468.3,1174.9 L1469.0,1174.9 L1469.7,1174.9 L1470.4,1174.9 L1471.1,1174.9 L1471.8,1174.9 L1472.5,1174.9 L1473.2,1174.9 L1473.9,1174.9 L1474.6,1174.9 L1475.3,1174.9 L1476.0,1174.9 L1476.7,1174.9 L1477.4,1174.9 L1478.1,1174.9 L1478.8,1174.9 L1479.5,1174.9 L1480.2,1174.9 L1480.9,1174.9 L1481.6,1174.9 L1482.3,1174.9 L1483.0,1174.9 L1483.7,1174.9 L1484.4,1174.9 L1485.1,1174.9 L1485.8,1174.9 L1486.5,1174.9 L1487.2,1174.9 L1487.9,1174.9 L1488.6,1174.9 L1489.3,1174.9 L1490.0,1174.9 L1490.7,1174.9 L1491.4,1174.9 L1492.1,1174.9 L1492.8,1174.9 L1493.5,1174.9 L1494.2,1174.9 L1494.9,1174.9 L1495.6,1174.9 L1496.3,1174.9 L1497.0,1174.9 L1497.7,1174.9 L1498.4,1174.9 L1499.1,1174.9 L1499.8,1174.9 L1500.5,1174.9 L1501.2,1174.9 L1501.9,1174.9 L1502.6,1174.9 L1503.3,1174.9 L1504.0,1174.9 L1504.7,1174.9 L1505.4,1174.9 L1506.1,1174.9 L1506.8,1174.9 L1507.5,1174.9 L1508.2,1174.9 L1508.9,1174.9 L1509.6,1174.9 L1510.3,1174.9 L1511.0,1174.9 L1511.7,1174.9 L1512.4,1174.9 L1513.1,1174.9 L1513.8,1174.9 L1514.5,1174.9 L1515.2,1174.9 L1515.9,1174.9 L1516.6,1174.9 L1517.3,1174.9 L1518.0,1174.9 L1518.7,1174.9 L1519.4,1174.9 L1520.1,1174.9 L1520.8,1174.9 L1521.5,1174.9 L1522.2,1174.9 L1522.9,1174.9 L1523.6,1174.9 L1524.3,1174.9 L1525.0,1174.9 L1525.7,1174.9 L1526.4,1174.9 L1527.1,1174.9 L1527.8,1174.9 L1528.5,1174.9 L1529.2,1174.9 L1529.9,1174.9 L1530.6,1174.9 L1531.3,1174.9 L1532.0,1174.9 L1532.7,1174.9 L1533.4,1174.9 L1534.1,1174.9 L1534.8,1174.9 L1535.5,1174.9 L1536.2,1174.9 L1536.9,1174.9 L1537.6,1174.9 L1538.3,1174.9 L1539.0,1174.9 L1539.7,1174.9 L1540.4,1174.9 L1541.1,1174.9 L1541.8,1174.9 L1542.5,1174.9 L1543.2,1174.9 L1543.9,1174.9 L1544.6,1174.9 L1545.3,1174.9 L1546.0,1174.9 L1546.7,1174.9 L1547.4,1174.9 L1548.1,1174.9 L1548.8,1174.9 L1549.5,1174.9 L1550.2,1174.9 L1550.9,1174.9 L1551.6,1174.9 L1552.3,1174.9 L1553.0,1174.9 L1553.7,1174.9 L1554.4,1174.9 L1555.1,1174.9 L1555.8,1174.9 L1556.5,1174.9 L1557.2,1174.9 L1557.9,1174.9 L1558.6,1174.9 L1559.3,1174.9 L1560.0,1174.9 L1560.7,1174.9 L1561.4,1174.9 L1562.1,1174.9 L1562.8,1174.9 L1563.5,1174.9 L1564.2,1174.9 L1564.9,1174.9 L1565.6,1174.9 L1566.3,1174.9 L1567.0,1174.9 L1567.7,1174.9 L1568.4,1174.9 L1569.1,1174.9 L1569.8,1174.9 L1570.5,1174.9 L1571.2,1174.9 L1571.9,1174.9 L1572.6,1174.9 L1573.3,1174.9 L1574.0,1174.9 L1574.7,1174.9 L1575.4,1174.9 L1576.1,1174.9 L1576.8,1174.9 L1577.5,1174.9 L1578.2,1174.9 L1578.9,1174.9 L1579.6,1174.9 L1580.3,1174.9 L1581.0,1174.9 L1581.7,1174.9 L1582.4,1174.9 L1583.1,1174.9 L1583.8,1174.9 L1584.5,1174.9 L1585.2,1174.9 L1585.9,1174.9 L1586.6,1174.9 L1587.3,1174.9 L1588.0,1174.9 L1588.7,1174.9 L1589.4,1174.9 L1590.1,1174.9 L1590.8,1174.9 L1591.5,1174.9 L1592.2,1174.9 L1592.9,1174.9 L1593.6,1174.9 L1594.3,1174.9 L1595.0,1174.9 L1595.7,1174.9 L1596.4,1174.9 L1597.1,1174.9 L1597.8,1174.9 L1598.5,1174.9 L1599.2,1174.9 L1599.9,1174.9 L1600.6,1174.9 L1601.3,1174.9 L1602.0,1174.9 L1602.7,1174.9 L1603.4,1174.9 L1604.1,1174.9 L1604.8,1174.9 L1605.5,1174.9 L1606.2,1174.9 L1606.9,1174.9 L1607.6,1174.9 L1608.3,1174.9 L1609.0,1174.9 L1609.7,1174.9 L1610.4,1174.9 L1611.1,1174.9 L1611.8,1174.9 L1612.5,1174.9 L1613.2,1174.9 L1613.9,1174.9 L1614.6,1174.9 L1615.3,1174.9 L1616.0,1174.9 L1616.7,1174.9 L1617.4,1174.9 L1618.1,1174.9 L1618.8,1174.9 L1619.5,1174.9 L1620.2,1174.9 L1620.9,1174.9 L1621.6,1174.9 L1622.3,1174.9 L1623.0,1174.9 L1623.7,1174.9 L1624.4,1174.9 L1625.1,1174.9 L1625.8,1174.9 L1626.5,1174.9 L1627.2,1174.9 L1627.9,1174.9 L1628.6,1174.9 L1629.3,1174.9 L1630.0,1174.9 L1630.7,1174.9 L1631.4,1174.9 L1632.1,1174.9 L1632.8,1174.9 L1633.5,1174.9 L1634.2,1174.9 L1634.9,1174.9 L1635.6,1174.9 L1636.3,1174.9 L1637.0,1174.9 L1637.7,1174.9 L1638.4,1174.9 L1639.1,1174.9 L1639.8,1174.9 L1640.5,1174.9 L1641.2,1174.9 L1641.9,1174.9 L1642.6,1174.9 L1643.3,1174.9 L1644.0,1174.9 L1644.7,1174.9 L1645.4,1174.9 L1646.1,1174.9 L1646.8,1174.9 L1647.5,1174.9 L1648.2,1174.9 L1648.9,1174.9 L1649.6,1174.9 L1650.3,1174.9 L1651.0,1174.9 L1651.7,1174.9 L1652.4,1174.9 L1653.1,1174.9 L1653.8,1174.9 L1654.5,1174.9 L1655.2,1174.9 L1655.9,1174.9 L1656.6,1174.9 L1657.3,1174.9 L1658.0,1174.9 L1658.7,1174.9 L1659.4,1174.9 L1660.1,1174.9 L1660.8,1174.9 L1661.5,1174.9 L1662.2,1174.9 L1662.9,1174.9 L1663.6,1174.9 L1664.3,1174.9 L1665.0,1174.9" fill="none" stroke="#FF7E52" stroke-width="2.2"/>
<path d="M1240.8,1161.5 L1241.5,1162.9 L1242.2,1162.2 L1242.9,1162.8 L1243.6,1163.3 L1244.3,1162.4 L1245.0,1162.3 L1245.7,1161.4 L1246.4,1161.8 L1247.1,1162.3 L1247.8,1162.7 L1248.5,1162.9 L1249.2,1162.0 L1249.9,1161.4 L1250.6,1161.8 L1251.3,1163.1 L1252.0,1161.7 L1252.7,1162.1 L1253.4,1163.1 L1254.1,1161.2 L1254.8,1162.4 L1255.5,1163.0 L1256.2,1161.6 L1256.9,1162.2 L1257.6,1162.9 L1258.3,1161.3 L1259.0,1162.0 L1259.7,1162.4 L1260.4,1162.2 L1261.1,1161.7 L1261.8,1161.2 L1262.5,1161.7 L1263.2,1161.3 L1263.9,1161.5 L1264.6,1161.1 L1265.3,1162.0 L1266.0,1161.7 L1266.7,1160.7 L1267.4,1161.1 L1268.1,1160.3 L1268.8,1160.5 L1269.5,1160.1 L1270.2,1160.5 L1270.9,1159.7 L1271.6,1159.6 L1272.3,1159.8 L1273.0,1158.8 L1273.7,1159.4 L1274.4,1157.5 L1275.1,1158.1 L1275.8,1156.9 L1276.5,1156.3 L1277.2,1156.0 L1277.9,1154.9 L1278.6,1153.7 L1279.3,1151.8 L1280.0,1150.6 L1280.7,1150.4 L1281.4,1148.3 L1282.1,1146.5 L1282.8,1144.7 L1283.5,1141.3 L1284.2,1136.6 L1284.9,1133.1 L1285.6,1129.0 L1286.3,1122.6 L1287.0,1117.4 L1287.7,1109.5 L1288.4,1100.1 L1289.1,1088.8 L1289.8,1077.5 L1290.5,1062.9 L1291.2,1049.3 L1291.9,1035.7 L1292.6,1023.5 L1293.3,1012.7 L1294.0,1005.5 L1294.7,1004.1 L1295.4,1007.7 L1296.1,1016.6 L1296.8,1029.2 L1297.5,1044.6 L1298.2,1060.0 L1298.9,1075.2 L1299.6,1088.5 L1300.3,1099.5 L1301.0,1109.3 L1301.7,1118.2 L1302.4,1125.4 L1303.1,1130.8 L1303.8,1135.9 L1304.5,1140.1 L1305.2,1141.7 L1305.9,1146.2 L1306.6,1147.3 L1307.3,1149.7 L1308.0,1152.0 L1308.7,1153.3 L1309.4,1153.4 L1310.1,1155.5 L1310.8,1155.3 L1311.5,1156.7 L1312.2,1158.3 L1312.9,1158.2 L1313.6,1159.1 L1314.3,1159.9 L1315.0,1160.5 L1315.7,1160.8 L1316.4,1159.6 L1317.1,1160.8 L1317.8,1161.2 L1318.5,1160.7 L1319.2,1161.9 L1319.9,1162.3 L1320.6,1162.9 L1321.3,1163.4 L1322.0,1161.9 L1322.7,1162.3 L1323.4,1163.4 L1324.1,1162.5 L1324.8,1162.8 L1325.5,1163.7 L1326.2,1163.0 L1326.9,1164.3 L1327.6,1164.6 L1328.3,1163.1 L1329.0,1164.2 L1329.7,1164.9 L1330.4,1165.3 L1331.1,1164.0 L1331.8,1163.9 L1332.5,1165.4 L1333.2,1165.6 L1333.9,1164.3 L1334.6,1164.9 L1335.3,1165.5 L1336.0,1165.8 L1336.7,1164.6 L1337.4,1165.7 L1338.1,1166.0 L1338.8,1165.6 L1339.5,1164.9 L1340.2,1164.7 L1340.9,1165.3 L1341.6,1166.4 L1342.3,1165.0 L1343.0,1165.0 L1343.7,1165.7 L1344.4,1165.2 L1345.1,1165.5 L1345.8,1165.3 L1346.5,1166.4 L1347.2,1166.8 L1347.9,1166.3 L1348.6,1165.8 L1349.3,1166.2 L1350.0,1166.8 L1350.7,1167.6 L1351.4,1167.7 L1352.1,1166.3 L1352.8,1165.9 L1353.5,1167.6 L1354.2,1167.9 L1354.9,1167.0 L1355.6,1167.7 L1356.3,1167.9 L1357.0,1167.5 L1357.7,1168.0 L1358.4,1166.4 L1359.1,1167.0 L1359.8,1167.0 L1360.5,1166.7 L1361.2,1168.3 L1361.9,1166.6 L1362.6,1167.9 L1363.3,1166.7 L1364.0,1167.3 L1364.7,1167.5 L1365.4,1167.0 L1366.1,1167.7 L1366.8,1167.7 L1367.5,1167.3 L1368.2,1168.2 L1368.9,1167.0 L1369.6,1167.1 L1370.3,1167.5 L1371.0,1167.5 L1371.7,1167.2 L1372.4,1168.6 L1373.1,1168.5 L1373.8,1167.0 L1374.5,1167.6 L1375.2,1167.3 L1375.9,1167.7 L1376.6,1167.4 L1377.3,1167.9 L1378.0,1168.7 L1378.7,1167.6 L1379.4,1168.2 L1380.1,1168.1 L1380.8,1168.4 L1381.5,1167.0 L1382.2,1168.4 L1382.9,1168.8 L1383.6,1168.1 L1384.3,1167.5 L1385.0,1168.2 L1385.7,1168.3 L1386.4,1168.2 L1387.1,1167.2 L1387.8,1168.8 L1388.5,1168.8 L1389.2,1167.7 L1389.9,1168.0 L1390.6,1166.9 L1391.3,1168.8 L1392.0,1168.4 L1392.7,1168.1 L1393.4,1168.3 L1394.1,1167.1 L1394.8,1167.3 L1395.5,1167.2 L1396.2,1167.8 L1396.9,1166.8 L1397.6,1168.3 L1398.3,1167.4 L1399.0,1167.3 L1399.7,1166.6 L1400.4,1167.7 L1401.1,1167.9 L1401.8,1167.4 L1402.5,1166.5 L1403.2,1167.5 L1403.9,1166.1 L1404.6,1167.4 L1405.3,1166.7 L1406.0,1166.0 L1406.7,1166.3 L1407.4,1166.3 L1408.1,1165.4 L1408.8,1166.3 L1409.5,1165.2 L1410.2,1165.8 L1410.9,1165.4 L1411.6,1163.5 L1412.3,1164.2 L1413.0,1163.0 L1413.7,1163.3 L1414.4,1162.3 L1415.1,1161.4 L1415.8,1161.4 L1416.5,1158.8 L1417.2,1158.7 L1417.9,1156.9 L1418.6,1154.8 L1419.3,1154.5 L1420.0,1152.1 L1420.7,1150.3 L1421.4,1146.9 L1422.1,1143.0 L1422.8,1140.3 L1423.5,1133.8 L1424.2,1128.1 L1424.9,1122.8 L1425.6,1114.3 L1426.3,1105.2 L1427.0,1095.9 L1427.7,1083.1 L1428.4,1071.4 L1429.1,1057.7 L1429.8,1044.1 L1430.5,1032.0 L1431.2,1023.5 L1431.9,1020.0 L1432.6,1018.5 L1433.3,1023.0 L1434.0,1032.9 L1434.7,1046.9 L1435.4,1059.7 L1436.1,1075.2 L1436.8,1087.3 L1437.5,1101.0 L1438.2,1110.6 L1438.9,1118.4 L1439.6,1127.7 L1440.3,1132.7 L1441.0,1138.6 L1441.7,1142.5 L1442.4,1145.2 L1443.1,1148.1 L1443.8,1150.7 L1444.5,1152.8 L1445.2,1154.4 L1445.9,1155.9 L1446.6,1158.9 L1447.3,1158.3 L1448.0,1160.1 L1448.7,1160.1 L1449.4,1161.0 L1450.1,1162.8 L1450.8,1163.7 L1451.5,1163.2 L1452.2,1162.7 L1452.9,1165.1 L1453.6,1163.5 L1454.3,1164.5 L1455.0,1165.1 L1455.7,1166.1 L1456.4,1166.2 L1457.1,1165.9 L1457.8,1165.7 L1458.5,1166.8 L1459.2,1167.0 L1459.9,1167.1 L1460.6,1167.0 L1461.3,1165.9 L1462.0,1166.4 L1462.7,1166.9 L1463.4,1167.0 L1464.1,1167.8 L1464.8,1166.7 L1465.5,1167.6 L1466.2,1167.1 L1466.9,1168.0 L1467.6,1166.9 L1468.3,1167.6 L1469.0,1166.9 L1469.7,1167.2 L1470.4,1168.7 L1471.1,1167.5 L1471.8,1168.7 L1472.5,1168.1 L1473.2,1167.1 L1473.9,1168.7 L1474.6,1167.3 L1475.3,1168.9 L1476.0,1167.3 L1476.7,1168.7 L1477.4,1167.7 L1478.1,1168.1 L1478.8,1169.4 L1479.5,1168.5 L1480.2,1168.8 L1480.9,1169.0 L1481.6,1167.8 L1482.3,1169.3 L1483.0,1169.5 L1483.7,1168.0 L1484.4,1168.8 L1485.1,1168.4 L1485.8,1169.3 L1486.5,1167.9 L1487.2,1168.9 L1487.9,1169.5 L1488.6,1169.4 L1489.3,1168.2 L1490.0,1169.7 L1490.7,1168.5 L1491.4,1169.7 L1492.1,1169.1 L1492.8,1168.4 L1493.5,1169.6 L1494.2,1169.8 L1494.9,1169.6 L1495.6,1170.1 L1496.3,1168.8 L1497.0,1168.7 L1497.7,1168.6 L1498.4,1169.4 L1499.1,1169.1 L1499.8,1169.1 L1500.5,1169.3 L1501.2,1168.9 L1501.9,1168.4 L1502.6,1169.4 L1503.3,1169.0 L1504.0,1169.4 L1504.7,1170.3 L1505.4,1168.8 L1506.1,1169.8 L1506.8,1169.8 L1507.5,1169.1 L1508.2,1169.5 L1508.9,1170.5 L1509.6,1169.2 L1510.3,1170.0 L1511.0,1170.3 L1511.7,1169.3 L1512.4,1170.6 L1513.1,1169.9 L1513.8,1169.6 L1514.5,1170.1 L1515.2,1169.5 L1515.9,1170.1 L1516.6,1169.2 L1517.3,1170.5 L1518.0,1169.8 L1518.7,1169.2 L1519.4,1169.6 L1520.1,1170.5 L1520.8,1170.3 L1521.5,1169.7 L1522.2,1169.4 L1522.9,1169.5 L1523.6,1170.7 L1524.3,1168.9 L1525.0,1170.5 L1525.7,1170.4 L1526.4,1169.2 L1527.1,1169.4 L1527.8,1169.9 L1528.5,1170.3 L1529.2,1170.6 L1529.9,1170.7 L1530.6,1169.3 L1531.3,1169.1 L1532.0,1169.7 L1532.7,1169.8 L1533.4,1170.0 L1534.1,1168.9 L1534.8,1170.0 L1535.5,1170.5 L1536.2,1170.5 L1536.9,1170.6 L1537.6,1170.5 L1538.3,1170.6 L1539.0,1168.8 L1539.7,1170.5 L1540.4,1169.2 L1541.1,1169.2 L1541.8,1169.5 L1542.5,1170.5 L1543.2,1169.8 L1543.9,1169.2 L1544.6,1169.2 L1545.3,1170.3 L1546.0,1170.1 L1546.7,1168.7 L1547.4,1168.9 L1548.1,1169.1 L1548.8,1168.7 L1549.5,1169.3 L1550.2,1168.6 L1550.9,1169.3 L1551.6,1169.9 L1552.3,1169.7 L1553.0,1168.1 L1553.7,1168.2 L1554.4,1168.5 L1555.1,1168.9 L1555.8,1168.3 L1556.5,1167.9 L1557.2,1167.9 L1557.9,1167.5 L1558.6,1168.6 L1559.3,1168.1 L1560.0,1167.3 L1560.7,1167.6 L1561.4,1167.0 L1562.1,1166.7 L1562.8,1166.1 L1563.5,1165.9 L1564.2,1166.5 L1564.9,1165.6 L1565.6,1165.1 L1566.3,1163.1 L1567.0,1163.1 L1567.7,1162.0 L1568.4,1160.5 L1569.1,1160.0 L1569.8,1158.1 L1570.5,1156.9 L1571.2,1156.2 L1571.9,1154.0 L1572.6,1151.5 L1573.3,1147.4 L1574.0,1144.2 L1574.7,1139.9 L1575.4,1135.3 L1576.1,1129.6 L1576.8,1124.7 L1577.5,1116.8 L1578.2,1106.4 L1578.9,1096.3 L1579.6,1086.4 L1580.3,1073.6 L1581.0,1061.1 L1581.7,1050.0 L1582.4,1040.3 L1583.1,1034.8 L1583.8,1032.9 L1584.5,1034.8 L1585.2,1042.5 L1585.9,1051.8 L1586.6,1065.4 L1587.3,1079.3 L1588.0,1090.3 L1588.7,1102.6 L1589.4,1113.0 L1590.1,1121.1 L1590.8,1129.7 L1591.5,1134.8 L1592.2,1139.9 L1592.9,1145.0 L1593.6,1146.7 L1594.3,1151.3 L1595.0,1152.3 L1595.7,1154.8 L1596.4,1156.8 L1597.1,1158.2 L1597.8,1158.6 L1598.5,1160.2 L1599.2,1161.2 L1599.9,1163.2 L1600.6,1163.8 L1601.3,1163.7 L1602.0,1165.0 L1602.7,1165.3 L1603.4,1164.7 L1604.1,1164.6 L1604.8,1165.9 L1605.5,1165.6 L1606.2,1165.2 L1606.9,1167.4 L1607.6,1167.6 L1608.3,1166.9 L1609.0,1167.3 L1609.7,1167.6 L1610.4,1168.2 L1611.1,1167.4 L1611.8,1167.8 L1612.5,1167.2 L1613.2,1167.4 L1613.9,1168.0 L1614.6,1167.5 L1615.3,1167.2 L1616.0,1168.0 L1616.7,1168.8 L1617.4,1168.0 L1618.1,1169.2 L1618.8,1169.0 L1619.5,1168.9 L1620.2,1169.5 L1620.9,1167.9 L1621.6,1168.2 L1622.3,1169.7 L1623.0,1169.7 L1623.7,1168.1 L1624.4,1169.6 L1625.1,1168.1 L1625.8,1168.4 L1626.5,1168.4 L1627.2,1168.8 L1627.9,1169.0 L1628.6,1170.1 L1629.3,1169.2 L1630.0,1168.6 L1630.7,1168.9 L1631.4,1168.4 L1632.1,1168.5 L1632.8,1169.3 L1633.5,1169.5 L1634.2,1169.0 L1634.9,1169.3 L1635.6,1168.8 L1636.3,1169.9 L1637.0,1169.4 L1637.7,1169.0 L1638.4,1169.7 L1639.1,1169.1 L1639.8,1169.3 L1640.5,1169.0 L1641.2,1170.4 L1641.9,1169.4 L1642.6,1170.8 L1643.3,1169.7 L1644.0,1169.2 L1644.7,1170.3 L1645.4,1170.4 L1646.1,1170.7 L1646.8,1169.2 L1647.5,1170.6 L1648.2,1170.7 L1648.9,1169.6 L1649.6,1170.0 L1650.3,1170.3 L1651.0,1169.6 L1651.7,1170.8 L1652.4,1170.5 L1653.1,1170.8 L1653.8,1170.1 L1654.5,1170.2 L1655.2,1169.6 L1655.9,1169.8 L1656.6,1170.7 L1657.3,1171.2 L1658.0,1169.6 L1658.7,1169.4 L1659.4,1169.4 L1660.1,1170.2 L1660.8,1170.9 L1661.5,1169.8 L1662.2,1170.3 L1662.9,1170.4 L1663.6,1171.0 L1664.3,1169.7 L1665.0,1169.4" fill="none" stroke="#5CBF98" stroke-width="2.3" stroke-linejoin="round"/>
<rect x="1239.8" y="879.7" width="425.5" height="313.4" fill="none" stroke="#111" stroke-width="1.8"/>
<text x="1291.8" y="1218.8" font-size="28" fill="#000" text-anchor="middle" >1</text>
<text x="1433.7" y="1218.8" font-size="28" fill="#000" text-anchor="middle" >2</text>
<text x="1588.0" y="1218.8" font-size="28" fill="#000" text-anchor="middle" >3</text>
<text x="1433.4" y="1244.0" font-size="27.4" fill="#000" text-anchor="middle" >Cycle number</text>
<text x="0" y="0" font-size="27.5" fill="#000" text-anchor="middle" transform="translate(1228.5,1036.8) rotate(-90)">Mass signal (a.u.)</text>
<text x="1252.2" y="916.6" font-size="27.5" fill="#2A7FC4" text-anchor="start" >KMnPO<tspan font-size="0.72em">4</tspan>·H<tspan font-size="0.72em">2</tspan>O</text>
<line x1="1545.8" y1="908.5" x2="1584.5" y2="908.5" stroke="#5CBF98" stroke-width="2.2"/>
<text x="1588.0" y="914.0" fill="#333" font-size="26"><tspan font-size="18.8" dy="-11">32</tspan><tspan dy="11">O</tspan><tspan font-size="19.8">2</tspan></text>
<line x1="1545.8" y1="946.1" x2="1584.5" y2="946.1" stroke="#7C8ED0" stroke-width="2.2"/>
<text x="1588.0" y="951.6" fill="#333" font-size="26"><tspan font-size="18.8" dy="-11">34</tspan><tspan dy="11">O</tspan><tspan font-size="19.8">2</tspan></text>
<line x1="1545.8" y1="983.4" x2="1584.5" y2="983.4" stroke="#FF7E52" stroke-width="2.2"/>
<text x="1588.0" y="988.9" fill="#333" font-size="26"><tspan font-size="18.8" dy="-11">36</tspan><tspan dy="11">O</tspan><tspan font-size="19.8">2</tspan></text>
<text x="1150.0" y="879.4" font-size="48" fill="#000" text-anchor="start" >i</text>
<linearGradient id="ba1" gradientUnits="userSpaceOnUse" x1="132.0" y1="1748.0" x2="174.9" y2="1560.1"><stop offset="0" stop-color="#f4e4fb" stop-opacity="0.25"/><stop offset="0.45" stop-color="#f8c0f6"/><stop offset="0.75" stop-color="#ff90f8"/><stop offset="1" stop-color="#ff88f8"/></linearGradient>
<path d="M132.5,1748.1 L180.4,1580.8 L190.4,1586.6 L174.9,1560.1 L149.4,1577.3 L160.9,1576.4 L131.5,1747.9 Z" fill="url(#ba1)" opacity="1.0"/>
<linearGradient id="ca2" gradientUnits="userSpaceOnUse" x1="86.0" y1="1697.0" x2="100.0" y2="1562.6"><stop offset="0" stop-color="#f6e6fa" stop-opacity="0.4"/><stop offset="0.5" stop-color="#fbb8f6"/><stop offset="1" stop-color="#FF86F8"/></linearGradient>
<path d="M86.0,1697.0 C130.0,1650.0 140.0,1610.0 107.1,1571.0" fill="none" stroke="url(#ca2)" stroke-width="4.0" stroke-linecap="round"/>
<path d="M100.0,1562.6 L120.5,1571.4 L107.1,1571.0 L105.3,1584.3 Z" fill="#FF86F8"/>
<linearGradient id="ba3" gradientUnits="userSpaceOnUse" x1="609.0" y1="1585.0" x2="672.6" y2="1714.3"><stop offset="0" stop-color="#f4e4fb" stop-opacity="0.25"/><stop offset="0.45" stop-color="#f8c0f6"/><stop offset="0.75" stop-color="#ff90f8"/><stop offset="1" stop-color="#ff88f8"/></linearGradient>
<path d="M608.6,1585.2 L655.2,1701.7 L643.9,1703.5 L672.6,1714.3 L681.5,1684.9 L673.2,1692.8 L609.4,1584.8 Z" fill="url(#ba3)" opacity="1.0"/>
<linearGradient id="ca4" gradientUnits="userSpaceOnUse" x1="654.0" y1="1550.0" x2="724.4" y2="1665.8"><stop offset="0" stop-color="#f6e6fa" stop-opacity="0.4"/><stop offset="0.5" stop-color="#fbb8f6"/><stop offset="1" stop-color="#FF86F8"/></linearGradient>
<path d="M654.0,1550.0 C650.0,1620.0 680.0,1650.0 714.0,1662.1" fill="none" stroke="url(#ca4)" stroke-width="4.0" stroke-linecap="round"/>
<path d="M724.4,1665.8 L702.2,1668.5 L714.0,1662.1 L708.9,1649.7 Z" fill="#FF86F8"/>
<linearGradient id="ba5" gradientUnits="userSpaceOnUse" x1="630.6" y1="1873.9" x2="471.0" y2="1978.7"><stop offset="0" stop-color="#f4e4fb" stop-opacity="0.25"/><stop offset="0.45" stop-color="#f8c0f6"/><stop offset="0.75" stop-color="#ff90f8"/><stop offset="1" stop-color="#ff88f8"/></linearGradient>
<path d="M630.3,1873.5 L481.4,1959.9 L478.2,1948.8 L471.0,1978.7 L501.3,1983.9 L492.4,1976.6 L630.9,1874.3 Z" fill="url(#ba5)" opacity="1.0"/>
<linearGradient id="ca6" gradientUnits="userSpaceOnUse" x1="659.7" y1="1918.0" x2="556.5" y2="2001.3"><stop offset="0" stop-color="#f6e6fa" stop-opacity="0.4"/><stop offset="0.5" stop-color="#fbb8f6"/><stop offset="1" stop-color="#FF86F8"/></linearGradient>
<path d="M659.7,1918.0 C600.0,1915.0 565.0,1950.0 558.3,1990.4" fill="none" stroke="url(#ca6)" stroke-width="4.0" stroke-linecap="round"/>
<path d="M556.5,2001.3 L549.9,1979.9 L558.3,1990.4 L569.6,1983.2 Z" fill="#FF86F8"/>
<linearGradient id="ba7" gradientUnits="userSpaceOnUse" x1="332.0" y1="1979.4" x2="163.5" y2="1886.9"><stop offset="0" stop-color="#f4e4fb" stop-opacity="0.25"/><stop offset="0.45" stop-color="#f8c0f6"/><stop offset="0.75" stop-color="#ff90f8"/><stop offset="1" stop-color="#ff88f8"/></linearGradient>
<path d="M332.2,1979.0 L185.0,1887.3 L193.3,1879.3 L163.5,1886.9 L173.0,1916.1 L175.3,1904.8 L331.8,1979.8 Z" fill="url(#ba7)" opacity="1.0"/>
<linearGradient id="ca8" gradientUnits="userSpaceOnUse" x1="291.5" y1="2026.3" x2="173.6" y2="1961.6"><stop offset="0" stop-color="#f6e6fa" stop-opacity="0.4"/><stop offset="0.5" stop-color="#fbb8f6"/><stop offset="1" stop-color="#FF86F8"/></linearGradient>
<path d="M291.5,2026.3 C265.0,1970.0 230.0,1950.0 184.4,1959.4" fill="none" stroke="url(#ca8)" stroke-width="4.0" stroke-linecap="round"/>
<path d="M173.6,1961.6 L191.2,1947.8 L184.4,1959.4 L195.2,1967.4 Z" fill="#FF86F8"/>
<rect x="230.7" y="1538.2" width="117.4" height="80.1" rx="9" fill="#fdf0e7" stroke="#fcc6f6" stroke-width="2" stroke-dasharray="2 2.6"/>
<text x="289.4" y="1574.5" font-size="33" fill="#000" text-anchor="middle" >Mn–O</text>
<text x="289.4" y="1609.7" font-size="33" fill="#000" text-anchor="middle" >~1.5 Å</text>
<rect x="359.3" y="1522.5" width="117.3" height="80.1" rx="10" fill="#dde8f5" stroke="#3e72cc" stroke-width="2.4" stroke-dasharray="2.4 2.6"/>
<text x="418.0" y="1552.4" font-size="33" fill="#000" text-anchor="middle" >Mn–O<tspan font-size="0.68em" baseline-shift="-4">w</tspan></text>
<text x="418.0" y="1590.6" font-size="33" fill="#000" text-anchor="middle" >~1.8 Å</text>
<rect x="487.2" y="1590.7" width="111.8" height="80.2" rx="9" fill="#fdf0e7" stroke="#fcc6f6" stroke-width="2" stroke-dasharray="2 2.6"/>
<text x="543.1" y="1626.0" font-size="33" fill="#000" text-anchor="middle" >Mn–O</text>
<text x="543.1" y="1662.0" font-size="33" fill="#000" text-anchor="middle" >~1.5 Å</text>
<rect x="154.6" y="1667.6" width="188.9" height="77.3" rx="10" fill="#dde8f5" stroke="#3e72cc" stroke-width="2.4" stroke-dasharray="2.4 2.6"/>
<text x="249.1" y="1700.6" font-size="33" fill="#000" text-anchor="middle" >Mn(III)–OOH</text>
<text x="249.1" y="1736.0" font-size="33" fill="#000" text-anchor="middle" >~1.3 Å</text>
<rect x="466.1" y="1696.5" width="158.1" height="76.4" rx="10" fill="#dde8f5" stroke="#3e72cc" stroke-width="2.4" stroke-dasharray="2.4 2.6"/>
<text x="545.2" y="1732.0" font-size="33" fill="#000" text-anchor="middle" >Mn(IV)<tspan dx="1.5" baseline-shift="-1.5">=</tspan><tspan dx="1.5">O</tspan></text>
<text x="545.2" y="1765.8" font-size="33" fill="#000" text-anchor="middle" >~1.2 Å</text>
<rect x="304.8" y="1765.8" width="158.1" height="76.8" rx="10" fill="#dde8f5" stroke="#3e72cc" stroke-width="2.4" stroke-dasharray="2.4 2.6"/>
<text x="383.9" y="1802.9" font-size="33" fill="#000" text-anchor="middle" >Mn(V)<tspan dx="1.5" baseline-shift="-1.5">=</tspan><tspan dx="1.5">O</tspan></text>
<text x="383.9" y="1836.1" font-size="33" fill="#000" text-anchor="middle" >~1.2 Å</text>
<rect x="244.6" y="1847.6" width="106.5" height="79.8" rx="9" fill="#fdf0e7" stroke="#fcc6f6" stroke-width="2" stroke-dasharray="2 2.6"/>
<text x="297.9" y="1882.0" font-size="33" fill="#000" text-anchor="middle" >Mn–O</text>
<text x="297.9" y="1918.0" font-size="33" fill="#000" text-anchor="middle" >~1.5 Å</text>
<rect x="487.1" y="1807.7" width="106.4" height="80.7" rx="9" fill="#fdf0e7" stroke="#fcc6f6" stroke-width="2" stroke-dasharray="2 2.6"/>
<text x="540.3" y="1841.6" font-size="33" fill="#000" text-anchor="middle" >Mn–O</text>
<text x="540.3" y="1878.0" font-size="33" fill="#000" text-anchor="middle" >~1.5 Å</text>
<line x1="233.9" y1="1491.3" x2="232.4" y2="1449.4" stroke="#a414a4" stroke-width="7.5"/><line x1="232.4" y1="1449.4" x2="231.2" y2="1415.1" stroke="#e60a0a" stroke-width="7.5"/><line x1="233.9" y1="1491.3" x2="231.2" y2="1415.1" stroke="#ffffff" stroke-opacity="0.18" stroke-width="2.6"/>
<line x1="233.9" y1="1491.3" x2="192.8" y2="1497.5" stroke="#a414a4" stroke-width="7.5"/><line x1="192.8" y1="1497.5" x2="159.2" y2="1502.6" stroke="#e60a0a" stroke-width="7.5"/><line x1="233.9" y1="1491.3" x2="159.2" y2="1502.6" stroke="#ffffff" stroke-opacity="0.18" stroke-width="2.6"/>
<line x1="233.9" y1="1491.3" x2="279.6" y2="1498.9" stroke="#a414a4" stroke-width="7.5"/><line x1="279.6" y1="1498.9" x2="316.9" y2="1505.1" stroke="#e60a0a" stroke-width="7.5"/><line x1="233.9" y1="1491.3" x2="316.9" y2="1505.1" stroke="#ffffff" stroke-opacity="0.18" stroke-width="2.6"/>
<line x1="233.9" y1="1491.3" x2="224.2" y2="1521.1" stroke="#a414a4" stroke-width="7.5"/><line x1="224.2" y1="1521.1" x2="216.2" y2="1545.4" stroke="#e60a0a" stroke-width="7.5"/><line x1="233.9" y1="1491.3" x2="216.2" y2="1545.4" stroke="#ffffff" stroke-opacity="0.18" stroke-width="2.6"/>
<circle cx="231.2" cy="1415.1" r="12.7" fill="url(#gO)"/>
<circle cx="159.2" cy="1502.6" r="12.7" fill="url(#gO)"/>
<circle cx="316.9" cy="1505.1" r="12.7" fill="url(#gO)"/>
<circle cx="216.2" cy="1545.4" r="12.7" fill="url(#gO)"/>
<circle cx="233.9" cy="1491.3" r="23.5" fill="url(#gMj)"/>
<circle cx="234.7" cy="1488.0" r="43.8" fill="none" stroke="#f7c8a2" stroke-width="2.2" stroke-dasharray="7 4.5"/>
<line x1="265.0" y1="1520.0" x2="275.2" y2="1513.4" stroke="#f6c39c" stroke-width="2.6"/><path d="M282.3,1508.8 L274.6,1522.7 L275.2,1513.4 L266.5,1510.1 Z" fill="#f6c39c"/>
<line x1="265.0" y1="1519.0" x2="271.5" y2="1530.0" stroke="#f6c39c" stroke-width="2.6"/><path d="M275.7,1537.3 L262.2,1529.0 L271.5,1530.0 L275.1,1521.4 Z" fill="#f6c39c"/>
<line x1="248.0" y1="1530.0" x2="256.3" y2="1526.4" stroke="#f6c39c" stroke-width="2.6"/><path d="M264.0,1523.0 L254.2,1535.5 L256.3,1526.4 L248.2,1521.7 Z" fill="#f6c39c"/>
<line x1="416.3" y1="1460.4" x2="409.7" y2="1430.0" stroke="#a414a4" stroke-width="5.2"/><line x1="409.7" y1="1430.0" x2="404.3" y2="1405.2" stroke="#e60a0a" stroke-width="5.2"/><line x1="416.3" y1="1460.4" x2="404.3" y2="1405.2" stroke="#ffffff" stroke-opacity="0.18" stroke-width="1.8"/>
<line x1="416.3" y1="1460.4" x2="390.6" y2="1472.3" stroke="#a414a4" stroke-width="5.2"/><line x1="390.6" y1="1472.3" x2="369.5" y2="1482.0" stroke="#e60a0a" stroke-width="5.2"/><line x1="416.3" y1="1460.4" x2="369.5" y2="1482.0" stroke="#ffffff" stroke-opacity="0.18" stroke-width="1.8"/>
<line x1="416.3" y1="1460.4" x2="431.0" y2="1484.3" stroke="#a414a4" stroke-width="5.2"/><line x1="431.0" y1="1484.3" x2="443.0" y2="1503.8" stroke="#e60a0a" stroke-width="5.2"/><line x1="416.3" y1="1460.4" x2="443.0" y2="1503.8" stroke="#ffffff" stroke-opacity="0.18" stroke-width="1.8"/>
<line x1="416.3" y1="1460.4" x2="438.4" y2="1458.5" stroke="#a414a4" stroke-width="5.2"/><line x1="438.4" y1="1458.5" x2="456.4" y2="1457.0" stroke="#e60a0a" stroke-width="5.2"/><line x1="416.3" y1="1460.4" x2="456.4" y2="1457.0" stroke="#ffffff" stroke-opacity="0.18" stroke-width="1.8"/>
<circle cx="404.3" cy="1405.2" r="8.5" fill="url(#gO)"/>
<circle cx="369.5" cy="1482.0" r="8.2" fill="url(#gO)"/>
<circle cx="443.0" cy="1503.8" r="8.2" fill="url(#gO)"/>
<circle cx="456.4" cy="1457.0" r="9.0" fill="url(#gO)"/>
<circle cx="416.3" cy="1460.4" r="15.0" fill="url(#gMj)"/>
<linearGradient id="ba9" gradientUnits="userSpaceOnUse" x1="292.0" y1="1459.0" x2="487.7" y2="1457.0"><stop offset="0" stop-color="#f4e4fb" stop-opacity="0.25"/><stop offset="0.45" stop-color="#f8c0f6"/><stop offset="0.75" stop-color="#ff90f8"/><stop offset="1" stop-color="#ff88f8"/></linearGradient>
<path d="M292.0,1459.5 L465.8,1467.2 L462.0,1478.3 L487.7,1457.0 L461.5,1436.3 L465.6,1447.2 L292.0,1458.5 Z" fill="url(#ba9)" opacity="0.85"/>
<line x1="366.2" y1="1447.0" x2="358.7" y2="1426.6" stroke="#f04040" stroke-width="5.5"/><line x1="358.7" y1="1426.6" x2="351.2" y2="1406.2" stroke="#f4e0e0" stroke-width="5.5"/><line x1="366.2" y1="1447.0" x2="351.2" y2="1406.2" stroke="#ffffff" stroke-opacity="0.18" stroke-width="1.9"/>
<line x1="366.2" y1="1447.0" x2="349.9" y2="1460.3" stroke="#f04040" stroke-width="5.5"/><line x1="349.9" y1="1460.3" x2="333.5" y2="1473.7" stroke="#f4e0e0" stroke-width="5.5"/><line x1="366.2" y1="1447.0" x2="333.5" y2="1473.7" stroke="#ffffff" stroke-opacity="0.18" stroke-width="1.9"/>
<circle cx="351.2" cy="1406.2" r="6.8" fill="url(#gHj)"/>
<circle cx="333.5" cy="1473.7" r="6.8" fill="url(#gHj)"/>
<circle cx="366.2" cy="1447.0" r="11.7" fill="url(#gOw)"/>
<line x1="378" y1="1450" x2="402" y2="1455" stroke="#3f6fc8" stroke-width="3" stroke-dasharray="3.5 2.5"/>
<line x1="387.0" y1="1453.0" x2="387.0" y2="1513.2" stroke="#a9bfe3" stroke-width="2.4"/><path d="M387.0,1521.0 L380.0,1508.0 L387.0,1513.2 L394.0,1508.0 Z" fill="#a9bfe3"/>
<linearGradient id="ca10" gradientUnits="userSpaceOnUse" x1="322.6" y1="1401.0" x2="459.3" y2="1397.9"><stop offset="0" stop-color="#f6e6fa" stop-opacity="0.4"/><stop offset="0.5" stop-color="#fbb8f6"/><stop offset="1" stop-color="#FF86F8"/></linearGradient>
<path d="M322.6,1401.0 C355.0,1444.5 420.0,1454.5 453.0,1406.9" fill="none" stroke="url(#ca10)" stroke-width="4.0" stroke-linecap="round"/>
<path d="M459.3,1397.9 L456.1,1420.0 L453.0,1406.9 L439.7,1408.6 Z" fill="#FF86F8"/>
<line x1="555.6" y1="1562.3" x2="533.0" y2="1569.8" stroke="#ee1010" stroke-width="6.5"/><line x1="533.0" y1="1569.8" x2="510.5" y2="1577.3" stroke="#f8dcdc" stroke-width="6.5"/><line x1="555.6" y1="1562.3" x2="510.5" y2="1577.3" stroke="#ffffff" stroke-opacity="0.18" stroke-width="2.3"/>
<circle cx="510.5" cy="1577.3" r="7.2" fill="url(#gH)"/>
<line x1="579.0" y1="1497.1" x2="591.9" y2="1455.8" stroke="#a414a4" stroke-width="7.5"/><line x1="591.9" y1="1455.8" x2="602.4" y2="1422.0" stroke="#e60a0a" stroke-width="7.5"/><line x1="579.0" y1="1497.1" x2="602.4" y2="1422.0" stroke="#ffffff" stroke-opacity="0.18" stroke-width="2.6"/>
<line x1="579.0" y1="1497.1" x2="528.8" y2="1487.0" stroke="#a414a4" stroke-width="7.5"/><line x1="528.8" y1="1487.0" x2="487.8" y2="1478.7" stroke="#e60a0a" stroke-width="7.5"/><line x1="579.0" y1="1497.1" x2="487.8" y2="1478.7" stroke="#ffffff" stroke-opacity="0.18" stroke-width="2.6"/>
<line x1="579.0" y1="1497.1" x2="609.7" y2="1485.7" stroke="#a414a4" stroke-width="7.5"/><line x1="609.7" y1="1485.7" x2="634.8" y2="1476.4" stroke="#e60a0a" stroke-width="7.5"/><line x1="579.0" y1="1497.1" x2="634.8" y2="1476.4" stroke="#ffffff" stroke-opacity="0.18" stroke-width="2.6"/>
<line x1="579.0" y1="1497.1" x2="566.1" y2="1533.0" stroke="#a414a4" stroke-width="7.5"/><line x1="566.1" y1="1533.0" x2="555.6" y2="1562.3" stroke="#e60a0a" stroke-width="7.5"/><line x1="579.0" y1="1497.1" x2="555.6" y2="1562.3" stroke="#ffffff" stroke-opacity="0.18" stroke-width="2.6"/>
<line x1="579.0" y1="1497.1" x2="596.5" y2="1539.0" stroke="#a414a4" stroke-width="7.5"/><line x1="596.5" y1="1539.0" x2="610.8" y2="1573.3" stroke="#e60a0a" stroke-width="7.5"/><line x1="579.0" y1="1497.1" x2="610.8" y2="1573.3" stroke="#ffffff" stroke-opacity="0.18" stroke-width="2.6"/>
<circle cx="602.4" cy="1422.0" r="13.0" fill="url(#gO)"/>
<circle cx="487.8" cy="1478.7" r="13.0" fill="url(#gO)"/>
<circle cx="634.8" cy="1476.4" r="13.0" fill="url(#gO)"/>
<circle cx="555.6" cy="1562.3" r="13.0" fill="url(#gO)"/>
<circle cx="610.8" cy="1573.3" r="13.0" fill="url(#gO)"/>
<circle cx="579.0" cy="1497.1" r="25.0" fill="url(#gMj)"/>
<circle cx="579.7" cy="1497.0" r="43.4" fill="none" stroke="#f7c8a2" stroke-width="2.2" stroke-dasharray="7 4.5"/>
<line x1="581.0" y1="1538.0" x2="581.0" y2="1582.2" stroke="#f6c39c" stroke-width="2.6"/><path d="M581.0,1590.0 L574.0,1577.0 L581.0,1582.2 L588.0,1577.0 Z" fill="#f6c39c"/>
<line x1="565.0" y1="1535.0" x2="572.2" y2="1537.9" stroke="#f6c39c" stroke-width="2.6"/><path d="M580.0,1541.0 L564.2,1542.8 L572.2,1537.9 L569.8,1528.8 Z" fill="#f6c39c"/>
<line x1="598.0" y1="1533.0" x2="594.6" y2="1535.8" stroke="#f6c39c" stroke-width="2.6"/><path d="M588.0,1541.0 L594.2,1526.4 L594.6,1535.8 L603.6,1538.1 Z" fill="#f6c39c"/>
<line x1="675.8" y1="1807.7" x2="654.5" y2="1778.4" stroke="#a414a4" stroke-width="7.5"/><line x1="654.5" y1="1778.4" x2="637.1" y2="1754.5" stroke="#e60a0a" stroke-width="7.5"/><line x1="675.8" y1="1807.7" x2="637.1" y2="1754.5" stroke="#ffffff" stroke-opacity="0.18" stroke-width="2.6"/>
<line x1="675.8" y1="1807.7" x2="711.3" y2="1771.9" stroke="#a414a4" stroke-width="7.5"/><line x1="711.3" y1="1771.9" x2="740.3" y2="1742.6" stroke="#e60a0a" stroke-width="7.5"/><line x1="675.8" y1="1807.7" x2="740.3" y2="1742.6" stroke="#ffffff" stroke-opacity="0.18" stroke-width="2.6"/>
<line x1="675.8" y1="1807.7" x2="630.9" y2="1800.6" stroke="#a414a4" stroke-width="7.5"/><line x1="630.9" y1="1800.6" x2="594.2" y2="1794.8" stroke="#e60a0a" stroke-width="7.5"/><line x1="675.8" y1="1807.7" x2="594.2" y2="1794.8" stroke="#ffffff" stroke-opacity="0.18" stroke-width="2.6"/>
<line x1="675.8" y1="1807.7" x2="670.5" y2="1840.2" stroke="#a414a4" stroke-width="7.5"/><line x1="670.5" y1="1840.2" x2="666.1" y2="1866.8" stroke="#e60a0a" stroke-width="7.5"/><line x1="675.8" y1="1807.7" x2="666.1" y2="1866.8" stroke="#ffffff" stroke-opacity="0.18" stroke-width="2.6"/>
<line x1="675.8" y1="1807.7" x2="703.0" y2="1841.4" stroke="#a414a4" stroke-width="7.5"/><line x1="703.0" y1="1841.4" x2="725.2" y2="1869.0" stroke="#e60a0a" stroke-width="7.5"/><line x1="675.8" y1="1807.7" x2="725.2" y2="1869.0" stroke="#ffffff" stroke-opacity="0.18" stroke-width="2.6"/>
<circle cx="637.1" cy="1754.5" r="13.0" fill="url(#gO)"/>
<circle cx="740.3" cy="1742.6" r="13.0" fill="url(#gO)"/>
<circle cx="594.2" cy="1794.8" r="13.0" fill="url(#gO)"/>
<circle cx="666.1" cy="1866.8" r="13.0" fill="url(#gO)"/>
<circle cx="725.2" cy="1869.0" r="13.0" fill="url(#gO)"/>
<circle cx="675.8" cy="1807.7" r="24.0" fill="url(#gMj)"/>
<circle cx="680.0" cy="1805.0" r="44.0" fill="none" stroke="#f7c8a2" stroke-width="2.2" stroke-dasharray="7 4.5"/>
<line x1="647.0" y1="1775.5" x2="624.9" y2="1774.3" stroke="#a9bfe3" stroke-width="2.4"/><path d="M617.7,1773.9 L630.0,1768.1 L624.9,1774.3 L629.3,1781.0 Z" fill="#a9bfe3"/>
<line x1="638.7" y1="1823.9" x2="602.1" y2="1842.9" stroke="#f6c39c" stroke-width="2.6"/><path d="M595.2,1846.5 L603.5,1834.3 L602.1,1842.9 L610.0,1846.7 Z" fill="#f6c39c"/>
<line x1="636.0" y1="1797.0" x2="637.5" y2="1792.0" stroke="#f6c39c" stroke-width="2.6"/><path d="M640.0,1784.0 L643.1,1799.6 L637.5,1792.0 L628.7,1795.2 Z" fill="#f6c39c"/>
<line x1="712.0" y1="1775.0" x2="714.2" y2="1770.5" stroke="#f6c39c" stroke-width="2.6"/><path d="M718.0,1763.0 L718.4,1778.9 L714.2,1770.5 L705.0,1772.2 Z" fill="#f6c39c"/>
<line x1="405.8" y1="1994.8" x2="386.3" y2="1953.1" stroke="#a414a4" stroke-width="7.5"/><line x1="386.3" y1="1953.1" x2="370.3" y2="1919.0" stroke="#e60a0a" stroke-width="7.5"/><line x1="405.8" y1="1994.8" x2="370.3" y2="1919.0" stroke="#ffffff" stroke-opacity="0.18" stroke-width="2.6"/>
<line x1="405.8" y1="1994.8" x2="418.2" y2="1960.3" stroke="#a414a4" stroke-width="7.5"/><line x1="418.2" y1="1960.3" x2="428.4" y2="1932.0" stroke="#e60a0a" stroke-width="7.5"/><line x1="405.8" y1="1994.8" x2="428.4" y2="1932.0" stroke="#ffffff" stroke-opacity="0.18" stroke-width="2.6"/>
<line x1="405.8" y1="1994.8" x2="375.1" y2="2008.7" stroke="#a414a4" stroke-width="7.5"/><line x1="375.1" y1="2008.7" x2="350.0" y2="2020.0" stroke="#e60a0a" stroke-width="7.5"/><line x1="405.8" y1="1994.8" x2="350.0" y2="2020.0" stroke="#ffffff" stroke-opacity="0.18" stroke-width="2.6"/>
<line x1="405.8" y1="1994.8" x2="457.1" y2="2004.6" stroke="#a414a4" stroke-width="7.5"/><line x1="457.1" y1="2004.6" x2="499.0" y2="2012.6" stroke="#e60a0a" stroke-width="7.5"/><line x1="405.8" y1="1994.8" x2="499.0" y2="2012.6" stroke="#ffffff" stroke-opacity="0.18" stroke-width="2.6"/>
<line x1="405.8" y1="1994.8" x2="392.9" y2="2037.4" stroke="#a414a4" stroke-width="7.5"/><line x1="392.9" y1="2037.4" x2="382.3" y2="2072.3" stroke="#e60a0a" stroke-width="7.5"/><line x1="405.8" y1="1994.8" x2="382.3" y2="2072.3" stroke="#ffffff" stroke-opacity="0.18" stroke-width="2.6"/>
<circle cx="370.3" cy="1919.0" r="13.0" fill="url(#gO)"/>
<circle cx="428.4" cy="1932.0" r="13.0" fill="url(#gO)"/>
<circle cx="350.0" cy="2020.0" r="13.0" fill="url(#gO)"/>
<circle cx="499.0" cy="2012.6" r="13.0" fill="url(#gO)"/>
<circle cx="382.3" cy="2072.3" r="13.0" fill="url(#gO)"/>
<circle cx="405.8" cy="1994.8" r="25.0" fill="url(#gMj)"/>
<circle cx="402.0" cy="1996.0" r="45.0" fill="none" stroke="#f7c8a2" stroke-width="2.2" stroke-dasharray="7 4.5"/>
<line x1="416.0" y1="1944.8" x2="382.6" y2="1852.1" stroke="#a9bfe3" stroke-width="2.4"/><path d="M380.0,1844.8 L391.0,1854.7 L382.6,1852.1 L377.8,1859.4 Z" fill="#a9bfe3"/>
<line x1="361.3" y1="1975.5" x2="330.7" y2="1938.0" stroke="#f6c39c" stroke-width="2.6"/><path d="M325.8,1932.0 L339.4,1937.6 L330.7,1938.0 L328.6,1946.5 Z" fill="#f6c39c"/>
<line x1="386.0" y1="1951.0" x2="393.9" y2="1949.0" stroke="#f6c39c" stroke-width="2.6"/><path d="M402.0,1947.0 L390.2,1957.7 L393.9,1949.0 L386.6,1943.1 Z" fill="#f6c39c"/>
<line x1="445.0" y1="1998.0" x2="446.7" y2="1992.1" stroke="#f6c39c" stroke-width="2.6"/><path d="M449.0,1984.0 L452.4,1999.5 L446.7,1992.1 L437.9,1995.4 Z" fill="#f6c39c"/>
<line x1="161.5" y1="1771.5" x2="180.9" y2="1781.0" stroke="#ee1010" stroke-width="7"/><line x1="180.9" y1="1781.0" x2="200.3" y2="1790.5" stroke="#d00a0a" stroke-width="7"/><line x1="161.5" y1="1771.5" x2="200.3" y2="1790.5" stroke="#ffffff" stroke-opacity="0.18" stroke-width="2.4"/>
<line x1="200.3" y1="1790.5" x2="217.4" y2="1777.2" stroke="#ee1010" stroke-width="6.5"/><line x1="217.4" y1="1777.2" x2="234.5" y2="1764.0" stroke="#f8dcdc" stroke-width="6.5"/><line x1="200.3" y1="1790.5" x2="234.5" y2="1764.0" stroke="#ffffff" stroke-opacity="0.18" stroke-width="2.3"/>
<line x1="122.9" y1="1823.5" x2="117.3" y2="1778.9" stroke="#a414a4" stroke-width="7.5"/><line x1="117.3" y1="1778.9" x2="112.8" y2="1742.4" stroke="#e60a0a" stroke-width="7.5"/><line x1="122.9" y1="1823.5" x2="112.8" y2="1742.4" stroke="#ffffff" stroke-opacity="0.18" stroke-width="2.6"/>
<line x1="122.9" y1="1823.5" x2="144.1" y2="1794.9" stroke="#a414a4" stroke-width="7.5"/><line x1="144.1" y1="1794.9" x2="161.5" y2="1771.5" stroke="#e60a0a" stroke-width="7.5"/><line x1="122.9" y1="1823.5" x2="161.5" y2="1771.5" stroke="#ffffff" stroke-opacity="0.18" stroke-width="2.6"/>
<line x1="122.9" y1="1823.5" x2="91.6" y2="1827.2" stroke="#a414a4" stroke-width="7.5"/><line x1="91.6" y1="1827.2" x2="65.9" y2="1830.3" stroke="#e60a0a" stroke-width="7.5"/><line x1="122.9" y1="1823.5" x2="65.9" y2="1830.3" stroke="#ffffff" stroke-opacity="0.18" stroke-width="2.6"/>
<line x1="122.9" y1="1823.5" x2="99.9" y2="1858.4" stroke="#a414a4" stroke-width="7.5"/><line x1="99.9" y1="1858.4" x2="81.1" y2="1886.9" stroke="#e60a0a" stroke-width="7.5"/><line x1="122.9" y1="1823.5" x2="81.1" y2="1886.9" stroke="#ffffff" stroke-opacity="0.18" stroke-width="2.6"/>
<line x1="122.9" y1="1823.5" x2="166.8" y2="1846.2" stroke="#a414a4" stroke-width="7.5"/><line x1="166.8" y1="1846.2" x2="202.8" y2="1864.8" stroke="#e60a0a" stroke-width="7.5"/><line x1="122.9" y1="1823.5" x2="202.8" y2="1864.8" stroke="#ffffff" stroke-opacity="0.18" stroke-width="2.6"/>
<circle cx="112.8" cy="1742.4" r="12.7" fill="url(#gO)"/>
<circle cx="161.5" cy="1771.5" r="12.7" fill="url(#gO)"/>
<circle cx="65.9" cy="1830.3" r="12.7" fill="url(#gO)"/>
<circle cx="81.1" cy="1886.9" r="12.7" fill="url(#gO)"/>
<circle cx="202.8" cy="1864.8" r="12.7" fill="url(#gO)"/>
<circle cx="200.3" cy="1790.5" r="12.7" fill="url(#gOd)"/>
<circle cx="234.5" cy="1764.0" r="7.5" fill="url(#gH)"/>
<circle cx="122.9" cy="1823.5" r="24.0" fill="url(#gMj)"/>
<line x1="152.0" y1="1791.8" x2="212.6" y2="1755.3" stroke="#a9bfe3" stroke-width="2.4"/><path d="M219.3,1751.3 L211.8,1764.0 L212.6,1755.3 L204.6,1752.0 Z" fill="#a9bfe3"/>
<text x="125.5" y="1442.2" font-size="33" fill="#000" text-anchor="start" >Mn(II)</text>
<text x="301.7" y="1384.2" font-size="33" fill="#000" text-anchor="start" >H<tspan font-size="0.68em" baseline-shift="-4">2</tspan>O</text>
<text x="408.6" y="1385.2" font-size="33" fill="#000" text-anchor="start" >H<tspan font-size="0.65em" baseline-shift="11">+</tspan> + e<tspan font-size="0.65em" baseline-shift="11">-</tspan></text>
<text x="629.1" y="1454.4" font-size="33" fill="#000" text-anchor="start" >Mn(III)</text>
<text x="729.0" y="1832.0" font-size="33" fill="#000" text-anchor="start" >Mn(IV)</text>
<text x="417.7" y="2069.0" font-size="33" fill="#000" text-anchor="start" >Mn(V)</text>
<text x="6.3" y="1790.5" font-size="33" fill="#000" text-anchor="start" >Mn(III)</text>
<text x="546.8" y="2028.7" font-size="33" fill="#000" text-anchor="start" >e<tspan font-size="0.65em" baseline-shift="11">-</tspan></text>
<text x="348.4" y="1722.3" font-size="54" fill="#8c1a8c" text-anchor="start" >OER</text>
<text x="0" y="0" font-size="33" text-anchor="middle" transform="translate(92.7,1561.0) rotate(-78)">O<tspan font-size="0.68em" baseline-shift="-4">2</tspan> +H<tspan font-size="0.65em" baseline-shift="11">+</tspan>+e<tspan font-size="0.65em" baseline-shift="11">-</tspan></text>
<text x="0" y="0" font-size="33" text-anchor="middle" transform="translate(734.0,1656.0) rotate(66)">H<tspan font-size="0.65em" baseline-shift="11">+</tspan> + e<tspan font-size="0.65em" baseline-shift="11">-</tspan></text>
<text x="0" y="0" font-size="33" text-anchor="middle" transform="translate(153.6,1991.8) rotate(40)">H<tspan font-size="0.65em" baseline-shift="11">+</tspan></text>
<text x="0" y="0" font-size="33" text-anchor="middle" transform="translate(267.5,2067.0) rotate(40)">H<tspan font-size="0.68em" baseline-shift="-4">2</tspan>O</text>
<text x="4.0" y="1348.0" font-size="46" fill="#000" text-anchor="start" >j</text>
<linearGradient id="ba11" gradientUnits="userSpaceOnUse" x1="1040.2" y1="1711.3" x2="1080.0" y2="1525.8"><stop offset="0" stop-color="#f4e4fb" stop-opacity="0.25"/><stop offset="0.45" stop-color="#f8c0f6"/><stop offset="0.75" stop-color="#ff90f8"/><stop offset="1" stop-color="#ff88f8"/></linearGradient>
<path d="M1040.7,1711.4 L1085.8,1546.5 L1095.8,1552.1 L1080.0,1525.8 L1054.8,1543.3 L1066.2,1542.3 L1039.7,1711.2 Z" fill="url(#ba11)" opacity="1.0"/>
<linearGradient id="ca12" gradientUnits="userSpaceOnUse" x1="989.8" y1="1674.2" x2="1003.1" y2="1540.4"><stop offset="0" stop-color="#f6e6fa" stop-opacity="0.4"/><stop offset="0.5" stop-color="#fbb8f6"/><stop offset="1" stop-color="#FF86F8"/></linearGradient>
<path d="M989.8,1674.2 C1030.0,1630.0 1040.0,1590.0 1009.7,1549.2" fill="none" stroke="url(#ca12)" stroke-width="4.0" stroke-linecap="round"/>
<path d="M1003.1,1540.4 L1023.1,1550.5 L1009.7,1549.2 L1007.0,1562.4 Z" fill="#FF86F8"/>
<linearGradient id="ba13" gradientUnits="userSpaceOnUse" x1="1201.8" y1="1426.0" x2="1394.2" y2="1424.0"><stop offset="0" stop-color="#f4e4fb" stop-opacity="0.25"/><stop offset="0.45" stop-color="#f8c0f6"/><stop offset="0.75" stop-color="#ff90f8"/><stop offset="1" stop-color="#ff88f8"/></linearGradient>
<path d="M1201.8,1426.5 L1372.3,1434.2 L1368.5,1445.3 L1394.2,1424.0 L1368.0,1403.3 L1372.1,1414.2 L1201.8,1425.5 Z" fill="url(#ba13)" opacity="1.0"/>
<linearGradient id="ca14" gradientUnits="userSpaceOnUse" x1="1229.6" y1="1366.8" x2="1364.9" y2="1363.7"><stop offset="0" stop-color="#f6e6fa" stop-opacity="0.4"/><stop offset="0.5" stop-color="#fbb8f6"/><stop offset="1" stop-color="#FF86F8"/></linearGradient>
<path d="M1229.6,1366.8 C1270.0,1400.0 1320.0,1410.0 1357.2,1371.6" fill="none" stroke="url(#ca14)" stroke-width="4.0" stroke-linecap="round"/>
<path d="M1364.9,1363.7 L1358.2,1385.0 L1357.2,1371.6 L1343.8,1371.1 Z" fill="#FF86F8"/>
<linearGradient id="ba15" gradientUnits="userSpaceOnUse" x1="1495.6" y1="1506.2" x2="1574.9" y2="1681.0"><stop offset="0" stop-color="#f4e4fb" stop-opacity="0.25"/><stop offset="0.45" stop-color="#f8c0f6"/><stop offset="0.75" stop-color="#ff90f8"/><stop offset="1" stop-color="#ff88f8"/></linearGradient>
<path d="M1495.1,1506.4 L1557.9,1667.8 L1546.5,1669.3 L1574.9,1681.0 L1584.8,1651.9 L1576.2,1659.6 L1496.1,1506.0 Z" fill="url(#ba15)" opacity="1.0"/>
<linearGradient id="ca16" gradientUnits="userSpaceOnUse" x1="1561.7" y1="1516.5" x2="1630.7" y2="1632.5"><stop offset="0" stop-color="#f6e6fa" stop-opacity="0.4"/><stop offset="0.5" stop-color="#fbb8f6"/><stop offset="1" stop-color="#FF86F8"/></linearGradient>
<path d="M1561.7,1516.5 C1555.0,1590.0 1580.0,1620.0 1620.0,1629.9" fill="none" stroke="url(#ca16)" stroke-width="4.0" stroke-linecap="round"/>
<path d="M1630.7,1632.5 L1608.9,1637.4 L1620.0,1629.9 L1613.7,1618.0 Z" fill="#FF86F8"/>
<linearGradient id="ba17" gradientUnits="userSpaceOnUse" x1="1535.2" y1="1841.2" x2="1376.6" y2="1947.0"><stop offset="0" stop-color="#f4e4fb" stop-opacity="0.25"/><stop offset="0.45" stop-color="#f8c0f6"/><stop offset="0.75" stop-color="#ff90f8"/><stop offset="1" stop-color="#ff88f8"/></linearGradient>
<path d="M1534.9,1840.8 L1386.9,1928.1 L1383.6,1917.1 L1376.6,1947.0 L1406.9,1952.0 L1398.0,1944.8 L1535.5,1841.6 Z" fill="url(#ba17)" opacity="1.0"/>
<linearGradient id="ca18" gradientUnits="userSpaceOnUse" x1="1561.7" y1="1888.2" x2="1457.4" y2="1973.4"><stop offset="0" stop-color="#f6e6fa" stop-opacity="0.4"/><stop offset="0.5" stop-color="#fbb8f6"/><stop offset="1" stop-color="#FF86F8"/></linearGradient>
<path d="M1561.7,1888.2 C1500.0,1888.0 1462.0,1920.0 1458.3,1962.4" fill="none" stroke="url(#ca18)" stroke-width="4.0" stroke-linecap="round"/>
<path d="M1457.4,1973.4 L1449.2,1952.6 L1458.3,1962.4 L1469.1,1954.3 Z" fill="#FF86F8"/>
<linearGradient id="ba19" gradientUnits="userSpaceOnUse" x1="1237.6" y1="1946.0" x2="1069.3" y2="1854.6"><stop offset="0" stop-color="#f4e4fb" stop-opacity="0.25"/><stop offset="0.45" stop-color="#f8c0f6"/><stop offset="0.75" stop-color="#ff90f8"/><stop offset="1" stop-color="#ff88f8"/></linearGradient>
<path d="M1237.8,1945.6 L1090.8,1854.9 L1099.0,1846.8 L1069.3,1854.6 L1079.0,1883.8 L1081.2,1872.5 L1237.4,1946.4 Z" fill="url(#ba19)" opacity="1.0"/>
<linearGradient id="ca20" gradientUnits="userSpaceOnUse" x1="1197.8" y1="1992.4" x2="1080.0" y2="1927.5"><stop offset="0" stop-color="#f6e6fa" stop-opacity="0.4"/><stop offset="0.5" stop-color="#fbb8f6"/><stop offset="1" stop-color="#FF86F8"/></linearGradient>
<path d="M1197.8,1992.4 C1170.0,1930.0 1130.0,1915.0 1090.7,1924.8" fill="none" stroke="url(#ca20)" stroke-width="4.0" stroke-linecap="round"/>
<path d="M1080.0,1927.5 L1097.0,1912.9 L1090.7,1924.8 L1101.8,1932.4 Z" fill="#FF86F8"/>
<rect x="1140.3" y="1499.3" width="127.7" height="80.8" rx="9" fill="#fdf0e7" stroke="#fcc6f6" stroke-width="2" stroke-dasharray="2 2.6"/>
<text x="1204.2" y="1532.4" font-size="33" fill="#000" text-anchor="middle" >Mn–O</text>
<text x="1204.2" y="1568.2" font-size="33" fill="#000" text-anchor="middle" >~1.7 Å</text>
<rect x="1360.4" y="1482.7" width="113.7" height="79.3" rx="9" fill="#fdf0e7" stroke="#fcc6f6" stroke-width="2" stroke-dasharray="2 2.6"/>
<text x="1417.2" y="1516.5" font-size="33" fill="#000" text-anchor="middle" >Mn–O</text>
<text x="1417.2" y="1551.7" font-size="33" fill="#000" text-anchor="middle" >~1.7 Å</text>
<rect x="1121.0" y="1673.1" width="106.0" height="79.5" rx="9" fill="#fdf0e7" stroke="#fcc6f6" stroke-width="2" stroke-dasharray="2 2.6"/>
<text x="1174.0" y="1708.9" font-size="33" fill="#000" text-anchor="middle" >Mn–O</text>
<text x="1174.0" y="1744.7" font-size="33" fill="#000" text-anchor="middle" >~1.7 Å</text>
<rect x="1377.5" y="1635.5" width="169.5" height="76.3" rx="10" fill="#dde8f5" stroke="#3e72cc" stroke-width="2.4" stroke-dasharray="2.4 2.6"/>
<text x="1462.2" y="1664.8" font-size="33" fill="#000" text-anchor="middle" >Mn(IV)<tspan dx="1.5" baseline-shift="-1.5">=</tspan><tspan dx="1.5">O</tspan></text>
<text x="1462.2" y="1704.5" font-size="33" fill="#000" text-anchor="middle" >~1.3 Å</text>
<rect x="1408.0" y="1735.5" width="105.2" height="80.8" rx="9" fill="#fdf0e7" stroke="#fcc6f6" stroke-width="2" stroke-dasharray="2 2.6"/>
<text x="1460.6" y="1773.7" font-size="33" fill="#000" text-anchor="middle" >Mn–O</text>
<text x="1460.6" y="1806.0" font-size="33" fill="#000" text-anchor="middle" >~1.7 Å</text>
<rect x="1136.9" y="1808.3" width="156.3" height="74.9" rx="10" fill="#dde8f5" stroke="#3e72cc" stroke-width="2.4" stroke-dasharray="2.4 2.6"/>
<text x="1215.1" y="1840.0" font-size="33" fill="#000" text-anchor="middle" >Mn(V)<tspan dx="1.5" baseline-shift="-1.5">=</tspan><tspan dx="1.5">O</tspan></text>
<text x="1215.1" y="1873.2" font-size="33" fill="#000" text-anchor="middle" >~1.3 Å</text>
<rect x="1307.0" y="1811.9" width="106.3" height="79.3" rx="9" fill="#fdf0e7" stroke="#fcc6f6" stroke-width="2" stroke-dasharray="2 2.6"/>
<text x="1360.2" y="1842.7" font-size="33" fill="#000" text-anchor="middle" >Mn–O</text>
<text x="1360.2" y="1875.0" font-size="33" fill="#000" text-anchor="middle" >~1.7 Å</text>
<line x1="1099.3" y1="1360.2" x2="1082.3" y2="1363.5" stroke="#e00a0a" stroke-width="7"/><line x1="1082.3" y1="1363.5" x2="1065.4" y2="1366.8" stroke="#d8b8b8" stroke-width="7"/><line x1="1099.3" y1="1360.2" x2="1065.4" y2="1366.8" stroke="#ffffff" stroke-opacity="0.18" stroke-width="2.4"/>
<line x1="1099.3" y1="1360.2" x2="1115.4" y2="1362.8" stroke="#e00a0a" stroke-width="7"/><line x1="1115.4" y1="1362.8" x2="1131.6" y2="1365.5" stroke="#d8b8b8" stroke-width="7"/><line x1="1099.3" y1="1360.2" x2="1131.6" y2="1365.5" stroke="#ffffff" stroke-opacity="0.18" stroke-width="2.4"/>
<line x1="1101.7" y1="1434.4" x2="1100.4" y2="1393.6" stroke="#8a148a" stroke-width="8.8"/><line x1="1100.4" y1="1393.6" x2="1099.3" y2="1360.2" stroke="#d80a0a" stroke-width="8.8"/><line x1="1101.7" y1="1434.4" x2="1099.3" y2="1360.2" stroke="#ffffff" stroke-opacity="0.18" stroke-width="3.1"/>
<line x1="1101.7" y1="1434.4" x2="1063.8" y2="1413.3" stroke="#8a148a" stroke-width="8.8"/><line x1="1063.8" y1="1413.3" x2="1032.8" y2="1396.0" stroke="#d80a0a" stroke-width="8.8"/><line x1="1101.7" y1="1434.4" x2="1032.8" y2="1396.0" stroke="#ffffff" stroke-opacity="0.18" stroke-width="3.1"/>
<line x1="1101.7" y1="1434.4" x2="1139.3" y2="1411.5" stroke="#8a148a" stroke-width="8.8"/><line x1="1139.3" y1="1411.5" x2="1170.0" y2="1392.8" stroke="#d80a0a" stroke-width="8.8"/><line x1="1101.7" y1="1434.4" x2="1170.0" y2="1392.8" stroke="#ffffff" stroke-opacity="0.18" stroke-width="3.1"/>
<line x1="1101.7" y1="1434.4" x2="1072.2" y2="1463.6" stroke="#8a148a" stroke-width="8.8"/><line x1="1072.2" y1="1463.6" x2="1048.1" y2="1487.4" stroke="#d80a0a" stroke-width="8.8"/><line x1="1101.7" y1="1434.4" x2="1048.1" y2="1487.4" stroke="#ffffff" stroke-opacity="0.18" stroke-width="3.1"/>
<line x1="1101.7" y1="1434.4" x2="1103.3" y2="1475.7" stroke="#8a148a" stroke-width="8.8"/><line x1="1103.3" y1="1475.7" x2="1104.6" y2="1509.4" stroke="#d80a0a" stroke-width="8.8"/><line x1="1101.7" y1="1434.4" x2="1104.6" y2="1509.4" stroke="#ffffff" stroke-opacity="0.18" stroke-width="3.1"/>
<line x1="1101.7" y1="1434.4" x2="1131.7" y2="1462.5" stroke="#8a148a" stroke-width="8.8"/><line x1="1131.7" y1="1462.5" x2="1156.2" y2="1485.5" stroke="#d80a0a" stroke-width="8.8"/><line x1="1101.7" y1="1434.4" x2="1156.2" y2="1485.5" stroke="#ffffff" stroke-opacity="0.18" stroke-width="3.1"/>
<circle cx="1099.3" cy="1360.2" r="12.5" fill="url(#gO)"/>
<circle cx="1032.8" cy="1396.0" r="12.5" fill="url(#gO)"/>
<circle cx="1170.0" cy="1392.8" r="12.5" fill="url(#gO)"/>
<circle cx="1048.1" cy="1487.4" r="12.5" fill="url(#gO)"/>
<circle cx="1104.6" cy="1509.4" r="12.5" fill="url(#gO)"/>
<circle cx="1156.2" cy="1485.5" r="12.5" fill="url(#gO)"/>
<circle cx="1065.4" cy="1366.8" r="7.2" fill="url(#gH)"/>
<circle cx="1131.6" cy="1365.5" r="7.2" fill="url(#gH)"/>
<circle cx="1101.7" cy="1434.4" r="23.3" fill="url(#gMk)"/>
<circle cx="1102.4" cy="1433.1" r="46.9" fill="none" stroke="#f7c8a2" stroke-width="2.2" stroke-dasharray="7 4.5"/>
<line x1="1120.0" y1="1480.0" x2="1127.6" y2="1476.0" stroke="#f6c39c" stroke-width="2.6"/><path d="M1135.0,1472.0 L1126.2,1485.2 L1127.6,1476.0 L1119.1,1472.0 Z" fill="#f6c39c"/>
<line x1="1122.0" y1="1480.0" x2="1140.1" y2="1499.7" stroke="#f6c39c" stroke-width="2.6"/><path d="M1145.0,1505.0 L1132.1,1500.6 L1140.1,1499.7 L1141.7,1491.8 Z" fill="#f6c39c"/>
<line x1="1105.0" y1="1481.0" x2="1110.0" y2="1479.5" stroke="#f6c39c" stroke-width="2.6"/><path d="M1118.0,1477.0 L1106.8,1488.3 L1110.0,1479.5 L1102.4,1473.9 Z" fill="#f6c39c"/>
<line x1="1491.2" y1="1332.9" x2="1473.6" y2="1336.6" stroke="#e00a0a" stroke-width="7"/><line x1="1473.6" y1="1336.6" x2="1455.9" y2="1340.2" stroke="#d8b8b8" stroke-width="7"/><line x1="1491.2" y1="1332.9" x2="1455.9" y2="1340.2" stroke="#ffffff" stroke-opacity="0.18" stroke-width="2.4"/>
<line x1="1495.6" y1="1402.8" x2="1493.2" y2="1364.4" stroke="#8a148a" stroke-width="8.8"/><line x1="1493.2" y1="1364.4" x2="1491.2" y2="1332.9" stroke="#d80a0a" stroke-width="8.8"/><line x1="1495.6" y1="1402.8" x2="1491.2" y2="1332.9" stroke="#ffffff" stroke-opacity="0.18" stroke-width="3.1"/>
<line x1="1495.6" y1="1402.8" x2="1458.8" y2="1379.7" stroke="#8a148a" stroke-width="8.8"/><line x1="1458.8" y1="1379.7" x2="1428.6" y2="1360.8" stroke="#d80a0a" stroke-width="8.8"/><line x1="1495.6" y1="1402.8" x2="1428.6" y2="1360.8" stroke="#ffffff" stroke-opacity="0.18" stroke-width="3.1"/>
<line x1="1495.6" y1="1402.8" x2="1534.7" y2="1378.0" stroke="#8a148a" stroke-width="8.8"/><line x1="1534.7" y1="1378.0" x2="1566.7" y2="1357.8" stroke="#d80a0a" stroke-width="8.8"/><line x1="1495.6" y1="1402.8" x2="1566.7" y2="1357.8" stroke="#ffffff" stroke-opacity="0.18" stroke-width="3.1"/>
<line x1="1495.6" y1="1402.8" x2="1464.1" y2="1434.1" stroke="#8a148a" stroke-width="8.8"/><line x1="1464.1" y1="1434.1" x2="1438.3" y2="1459.8" stroke="#d80a0a" stroke-width="8.8"/><line x1="1495.6" y1="1402.8" x2="1438.3" y2="1459.8" stroke="#ffffff" stroke-opacity="0.18" stroke-width="3.1"/>
<line x1="1495.6" y1="1402.8" x2="1498.0" y2="1442.7" stroke="#8a148a" stroke-width="8.8"/><line x1="1498.0" y1="1442.7" x2="1500.0" y2="1475.4" stroke="#d80a0a" stroke-width="8.8"/><line x1="1495.6" y1="1402.8" x2="1500.0" y2="1475.4" stroke="#ffffff" stroke-opacity="0.18" stroke-width="3.1"/>
<line x1="1495.6" y1="1402.8" x2="1524.4" y2="1433.0" stroke="#8a148a" stroke-width="8.8"/><line x1="1524.4" y1="1433.0" x2="1547.9" y2="1457.7" stroke="#d80a0a" stroke-width="8.8"/><line x1="1495.6" y1="1402.8" x2="1547.9" y2="1457.7" stroke="#ffffff" stroke-opacity="0.18" stroke-width="3.1"/>
<circle cx="1491.2" cy="1332.9" r="12.6" fill="url(#gO)"/>
<circle cx="1428.6" cy="1360.8" r="12.6" fill="url(#gO)"/>
<circle cx="1566.7" cy="1357.8" r="12.6" fill="url(#gO)"/>
<circle cx="1438.3" cy="1459.8" r="12.6" fill="url(#gO)"/>
<circle cx="1500.0" cy="1475.4" r="12.6" fill="url(#gO)"/>
<circle cx="1547.9" cy="1457.7" r="12.6" fill="url(#gO)"/>
<circle cx="1455.9" cy="1340.2" r="7.2" fill="url(#gH)"/>
<circle cx="1495.6" cy="1402.8" r="23.5" fill="url(#gMk)"/>
<circle cx="1494.1" cy="1402.8" r="47.0" fill="none" stroke="#f7c8a2" stroke-width="2.2" stroke-dasharray="7 4.5"/>
<line x1="1478.0" y1="1448.0" x2="1469.2" y2="1475.1" stroke="#f6c39c" stroke-width="2.6"/><path d="M1467.0,1482.0 L1464.5,1468.6 L1469.2,1475.1 L1476.9,1472.6 Z" fill="#f6c39c"/>
<line x1="1465.0" y1="1440.0" x2="1470.4" y2="1442.5" stroke="#f6c39c" stroke-width="2.6"/><path d="M1478.0,1446.0 L1462.1,1446.9 L1470.4,1442.5 L1468.4,1433.3 Z" fill="#f6c39c"/>
<line x1="1495.0" y1="1444.0" x2="1491.9" y2="1445.1" stroke="#f6c39c" stroke-width="2.6"/><path d="M1484.0,1448.0 L1494.6,1436.2 L1491.9,1445.1 L1499.7,1450.3 Z" fill="#f6c39c"/>
<line x1="1596.0" y1="1773.7" x2="1593.2" y2="1730.0" stroke="#8a148a" stroke-width="8.8"/><line x1="1593.2" y1="1730.0" x2="1591.0" y2="1694.3" stroke="#d80a0a" stroke-width="8.8"/><line x1="1596.0" y1="1773.7" x2="1591.0" y2="1694.3" stroke="#ffffff" stroke-opacity="0.18" stroke-width="3.1"/>
<line x1="1596.0" y1="1773.7" x2="1559.4" y2="1751.0" stroke="#8a148a" stroke-width="8.8"/><line x1="1559.4" y1="1751.0" x2="1529.4" y2="1732.5" stroke="#d80a0a" stroke-width="8.8"/><line x1="1596.0" y1="1773.7" x2="1529.4" y2="1732.5" stroke="#ffffff" stroke-opacity="0.18" stroke-width="3.1"/>
<line x1="1596.0" y1="1773.7" x2="1636.9" y2="1751.5" stroke="#8a148a" stroke-width="8.8"/><line x1="1636.9" y1="1751.5" x2="1670.4" y2="1733.4" stroke="#d80a0a" stroke-width="8.8"/><line x1="1596.0" y1="1773.7" x2="1670.4" y2="1733.4" stroke="#ffffff" stroke-opacity="0.18" stroke-width="3.1"/>
<line x1="1596.0" y1="1773.7" x2="1562.3" y2="1801.9" stroke="#8a148a" stroke-width="8.8"/><line x1="1562.3" y1="1801.9" x2="1534.7" y2="1825.0" stroke="#d80a0a" stroke-width="8.8"/><line x1="1596.0" y1="1773.7" x2="1534.7" y2="1825.0" stroke="#ffffff" stroke-opacity="0.18" stroke-width="3.1"/>
<line x1="1596.0" y1="1773.7" x2="1598.1" y2="1817.3" stroke="#8a148a" stroke-width="8.8"/><line x1="1598.1" y1="1817.3" x2="1599.9" y2="1853.0" stroke="#d80a0a" stroke-width="8.8"/><line x1="1596.0" y1="1773.7" x2="1599.9" y2="1853.0" stroke="#ffffff" stroke-opacity="0.18" stroke-width="3.1"/>
<line x1="1596.0" y1="1773.7" x2="1624.0" y2="1802.3" stroke="#8a148a" stroke-width="8.8"/><line x1="1624.0" y1="1802.3" x2="1646.9" y2="1825.7" stroke="#d80a0a" stroke-width="8.8"/><line x1="1596.0" y1="1773.7" x2="1646.9" y2="1825.7" stroke="#ffffff" stroke-opacity="0.18" stroke-width="3.1"/>
<circle cx="1591.0" cy="1694.3" r="13.0" fill="url(#gO)"/>
<circle cx="1529.4" cy="1732.5" r="13.0" fill="url(#gO)"/>
<circle cx="1670.4" cy="1733.4" r="13.0" fill="url(#gO)"/>
<circle cx="1534.7" cy="1825.0" r="13.0" fill="url(#gO)"/>
<circle cx="1599.9" cy="1853.0" r="13.0" fill="url(#gO)"/>
<circle cx="1646.9" cy="1825.7" r="13.0" fill="url(#gO)"/>
<circle cx="1596.0" cy="1773.7" r="24.0" fill="url(#gMk)"/>
<circle cx="1597.8" cy="1771.6" r="48.5" fill="none" stroke="#f7c8a2" stroke-width="2.2" stroke-dasharray="7 4.5"/>
<line x1="1588.1" y1="1735.5" x2="1552.5" y2="1699.8" stroke="#a9bfe3" stroke-width="2.4"/><path d="M1547.0,1694.3 L1561.1,1698.6 L1552.5,1699.8 L1551.2,1708.4 Z" fill="#a9bfe3"/>
<line x1="1550.0" y1="1776.0" x2="1521.8" y2="1776.8" stroke="#f6c39c" stroke-width="2.6"/><path d="M1514.0,1777.0 L1526.8,1769.6 L1521.8,1776.8 L1527.2,1783.6 Z" fill="#f6c39c"/>
<line x1="1553.0" y1="1748.0" x2="1555.5" y2="1744.1" stroke="#f6c39c" stroke-width="2.6"/><path d="M1560.0,1737.0 L1558.8,1752.8 L1555.5,1744.1 L1546.2,1744.8 Z" fill="#f6c39c"/>
<line x1="1640.0" y1="1750.0" x2="1641.5" y2="1745.0" stroke="#f6c39c" stroke-width="2.6"/><path d="M1644.0,1737.0 L1647.1,1752.6 L1641.5,1745.0 L1632.7,1748.2 Z" fill="#f6c39c"/>
<line x1="1332.5" y1="1986.0" x2="1342.2" y2="1940.3" stroke="#8a148a" stroke-width="8.8"/><line x1="1342.2" y1="1940.3" x2="1350.2" y2="1903.0" stroke="#d80a0a" stroke-width="8.8"/><line x1="1332.5" y1="1986.0" x2="1350.2" y2="1903.0" stroke="#ffffff" stroke-opacity="0.18" stroke-width="3.1"/>
<line x1="1332.5" y1="1986.0" x2="1297.8" y2="1960.2" stroke="#8a148a" stroke-width="8.8"/><line x1="1297.8" y1="1960.2" x2="1269.4" y2="1939.0" stroke="#d80a0a" stroke-width="8.8"/><line x1="1332.5" y1="1986.0" x2="1269.4" y2="1939.0" stroke="#ffffff" stroke-opacity="0.18" stroke-width="3.1"/>
<line x1="1332.5" y1="1986.0" x2="1372.9" y2="1983.1" stroke="#8a148a" stroke-width="8.8"/><line x1="1372.9" y1="1983.1" x2="1406.0" y2="1980.8" stroke="#d80a0a" stroke-width="8.8"/><line x1="1332.5" y1="1986.0" x2="1406.0" y2="1980.8" stroke="#ffffff" stroke-opacity="0.18" stroke-width="3.1"/>
<line x1="1332.5" y1="1986.0" x2="1291.6" y2="1999.6" stroke="#8a148a" stroke-width="8.8"/><line x1="1291.6" y1="1999.6" x2="1258.2" y2="2010.7" stroke="#d80a0a" stroke-width="8.8"/><line x1="1332.5" y1="1986.0" x2="1258.2" y2="2010.7" stroke="#ffffff" stroke-opacity="0.18" stroke-width="3.1"/>
<line x1="1332.5" y1="1986.0" x2="1367.3" y2="2012.2" stroke="#8a148a" stroke-width="8.8"/><line x1="1367.3" y1="2012.2" x2="1395.7" y2="2033.7" stroke="#d80a0a" stroke-width="8.8"/><line x1="1332.5" y1="1986.0" x2="1395.7" y2="2033.7" stroke="#ffffff" stroke-opacity="0.18" stroke-width="3.1"/>
<line x1="1332.5" y1="1986.0" x2="1333.0" y2="2030.0" stroke="#8a148a" stroke-width="8.8"/><line x1="1333.0" y1="2030.0" x2="1333.4" y2="2066.0" stroke="#d80a0a" stroke-width="8.8"/><line x1="1332.5" y1="1986.0" x2="1333.4" y2="2066.0" stroke="#ffffff" stroke-opacity="0.18" stroke-width="3.1"/>
<circle cx="1350.2" cy="1903.0" r="13.0" fill="url(#gO)"/>
<circle cx="1269.4" cy="1939.0" r="13.0" fill="url(#gO)"/>
<circle cx="1406.0" cy="1980.8" r="13.0" fill="url(#gO)"/>
<circle cx="1258.2" cy="2010.7" r="13.0" fill="url(#gO)"/>
<circle cx="1395.7" cy="2033.7" r="13.0" fill="url(#gO)"/>
<circle cx="1333.4" cy="2066.0" r="13.0" fill="url(#gO)"/>
<circle cx="1332.5" cy="1986.0" r="24.0" fill="url(#gMk)"/>
<circle cx="1333.4" cy="1983.7" r="49.4" fill="none" stroke="#f7c8a2" stroke-width="2.2" stroke-dasharray="7 4.5"/>
<line x1="1338.4" y1="1939.6" x2="1289.6" y2="1892.2" stroke="#a9bfe3" stroke-width="2.4"/><path d="M1284.0,1886.8 L1298.2,1890.8 L1289.6,1892.2 L1288.5,1900.9 Z" fill="#a9bfe3"/>
<line x1="1372.2" y1="1958.7" x2="1369.6" y2="1896.0" stroke="#f6c39c" stroke-width="2.6"/><path d="M1369.3,1888.2 L1376.8,1900.9 L1369.6,1896.0 L1362.8,1901.5 Z" fill="#f6c39c"/>
<line x1="1290.0" y1="1955.0" x2="1294.1" y2="1950.9" stroke="#f6c39c" stroke-width="2.6"/><path d="M1300.0,1945.0 L1295.4,1960.2 L1294.1,1950.9 L1284.8,1949.6 Z" fill="#f6c39c"/>
<line x1="1380.0" y1="1982.0" x2="1381.2" y2="1976.2" stroke="#f6c39c" stroke-width="2.6"/><path d="M1383.0,1968.0 L1387.4,1983.3 L1381.2,1976.2 L1372.7,1980.1 Z" fill="#f6c39c"/>
<line x1="1032.2" y1="1773.8" x2="1055.8" y2="1770.5" stroke="#ee1010" stroke-width="8"/><line x1="1055.8" y1="1770.5" x2="1079.4" y2="1767.2" stroke="#e00a0a" stroke-width="8"/><line x1="1032.2" y1="1773.8" x2="1079.4" y2="1767.2" stroke="#ffffff" stroke-opacity="0.18" stroke-width="2.8"/>
<line x1="1079.4" y1="1767.2" x2="1084.7" y2="1745.0" stroke="#ee1010" stroke-width="7"/><line x1="1084.7" y1="1745.0" x2="1090.0" y2="1722.7" stroke="#d8b8b8" stroke-width="7"/><line x1="1079.4" y1="1767.2" x2="1090.0" y2="1722.7" stroke="#ffffff" stroke-opacity="0.18" stroke-width="2.4"/>
<line x1="1008.4" y1="1840.0" x2="1021.5" y2="1803.6" stroke="#8a148a" stroke-width="8.8"/><line x1="1021.5" y1="1803.6" x2="1032.2" y2="1773.8" stroke="#d80a0a" stroke-width="8.8"/><line x1="1008.4" y1="1840.0" x2="1032.2" y2="1773.8" stroke="#ffffff" stroke-opacity="0.18" stroke-width="3.1"/>
<line x1="1008.4" y1="1840.0" x2="981.4" y2="1799.7" stroke="#8a148a" stroke-width="8.8"/><line x1="981.4" y1="1799.7" x2="959.4" y2="1766.7" stroke="#d80a0a" stroke-width="8.8"/><line x1="1008.4" y1="1840.0" x2="959.4" y2="1766.7" stroke="#ffffff" stroke-opacity="0.18" stroke-width="3.1"/>
<line x1="1008.4" y1="1840.0" x2="1057.7" y2="1830.5" stroke="#8a148a" stroke-width="8.8"/><line x1="1057.7" y1="1830.5" x2="1098.0" y2="1822.8" stroke="#d80a0a" stroke-width="8.8"/><line x1="1008.4" y1="1840.0" x2="1098.0" y2="1822.8" stroke="#ffffff" stroke-opacity="0.18" stroke-width="3.1"/>
<line x1="1008.4" y1="1840.0" x2="963.5" y2="1860.8" stroke="#8a148a" stroke-width="8.8"/><line x1="963.5" y1="1860.8" x2="926.8" y2="1877.9" stroke="#d80a0a" stroke-width="8.8"/><line x1="1008.4" y1="1840.0" x2="926.8" y2="1877.9" stroke="#ffffff" stroke-opacity="0.18" stroke-width="3.1"/>
<line x1="1008.4" y1="1840.0" x2="994.1" y2="1878.7" stroke="#8a148a" stroke-width="8.8"/><line x1="994.1" y1="1878.7" x2="982.4" y2="1910.3" stroke="#d80a0a" stroke-width="8.8"/><line x1="1008.4" y1="1840.0" x2="982.4" y2="1910.3" stroke="#ffffff" stroke-opacity="0.18" stroke-width="3.1"/>
<line x1="1008.4" y1="1840.0" x2="1023.7" y2="1885.7" stroke="#8a148a" stroke-width="8.8"/><line x1="1023.7" y1="1885.7" x2="1036.2" y2="1923.0" stroke="#d80a0a" stroke-width="8.8"/><line x1="1008.4" y1="1840.0" x2="1036.2" y2="1923.0" stroke="#ffffff" stroke-opacity="0.18" stroke-width="3.1"/>
<circle cx="1032.2" cy="1773.8" r="13.2" fill="url(#gO)"/>
<circle cx="959.4" cy="1766.7" r="13.2" fill="url(#gO)"/>
<circle cx="1098.0" cy="1822.8" r="13.2" fill="url(#gO)"/>
<circle cx="926.8" cy="1877.9" r="13.2" fill="url(#gO)"/>
<circle cx="982.4" cy="1910.3" r="13.2" fill="url(#gO)"/>
<circle cx="1036.2" cy="1923.0" r="13.2" fill="url(#gO)"/>
<circle cx="1079.4" cy="1767.2" r="13.2" fill="url(#gO)"/>
<circle cx="1090.0" cy="1722.7" r="7.5" fill="url(#gH)"/>
<circle cx="1008.4" cy="1840.0" r="25.2" fill="url(#gMk)"/>
<circle cx="1008.4" cy="1838.7" r="47.2" fill="none" stroke="#f7c8a2" stroke-width="2.2" stroke-dasharray="7 4.5"/>
<line x1="1045.5" y1="1807.5" x2="1122.5" y2="1757.6" stroke="#f6c39c" stroke-width="2.6"/><path d="M1129.0,1753.4 L1121.9,1766.3 L1122.5,1757.6 L1114.3,1754.6 Z" fill="#f6c39c"/>
<line x1="1030.0" y1="1800.0" x2="1036.5" y2="1803.2" stroke="#f6c39c" stroke-width="2.6"/><path d="M1044.0,1807.0 L1028.1,1807.4 L1036.5,1803.2 L1034.8,1794.0 Z" fill="#f6c39c"/>
<line x1="1052.0" y1="1822.0" x2="1053.3" y2="1818.0" stroke="#f6c39c" stroke-width="2.6"/><path d="M1056.0,1810.0 L1058.7,1825.7 L1053.3,1818.0 L1044.5,1820.9 Z" fill="#f6c39c"/>
<text x="1060.0" y="1341.7" font-size="33" fill="#000" text-anchor="start" >Mn(II)</text>
<text x="1450.9" y="1315.3" font-size="33" fill="#000" text-anchor="start" >Mn(III)</text>
<text x="1312.0" y="1349.0" font-size="33" fill="#000" text-anchor="start" >H<tspan font-size="0.65em" baseline-shift="11">+</tspan> + e<tspan font-size="0.65em" baseline-shift="11">-</tspan></text>
<text x="1652.7" y="1806.0" font-size="33" fill="#000" text-anchor="start" >Mn(IV)</text>
<text x="1295.8" y="2107.1" font-size="33" fill="#000" text-anchor="start" >Mn(V)</text>
<text x="870.0" y="1813.6" font-size="33" fill="#000" text-anchor="start" >Mn(III)</text>
<text x="1447.1" y="1998.4" font-size="33" fill="#000" text-anchor="start" >e<tspan font-size="0.65em" baseline-shift="11">-</tspan></text>
<text x="1257.6" y="1701.6" font-size="54" fill="#8c1a8c" text-anchor="start" >OER</text>
<text x="0" y="0" font-size="33" text-anchor="middle" transform="translate(994.7,1535.0) rotate(-78)">O<tspan font-size="0.68em" baseline-shift="-4">2</tspan> +H<tspan font-size="0.65em" baseline-shift="11">+</tspan>+e<tspan font-size="0.65em" baseline-shift="11">-</tspan></text>
<text x="0" y="0" font-size="33" text-anchor="middle" transform="translate(1103.2,1626.7) rotate(-75)">+ H<tspan font-size="0.68em" baseline-shift="-4">2</tspan>O</text>
<text x="0" y="0" font-size="33" text-anchor="middle" transform="translate(1633.5,1636.0) rotate(90)">H<tspan font-size="0.65em" baseline-shift="11">+</tspan> + e<tspan font-size="0.65em" baseline-shift="11">-</tspan></text>
<text x="0" y="0" font-size="33" text-anchor="middle" transform="translate(1059.0,1962.7) rotate(40)">H<tspan font-size="0.65em" baseline-shift="11">+</tspan></text>
<text x="0" y="0" font-size="33" text-anchor="middle" transform="translate(1167.7,2028.0) rotate(40)">H<tspan font-size="0.68em" baseline-shift="-4">2</tspan>O</text>
<text x="870.0" y="1357.0" font-size="46" fill="#000" text-anchor="start" >k</text>
</svg></body></html>
